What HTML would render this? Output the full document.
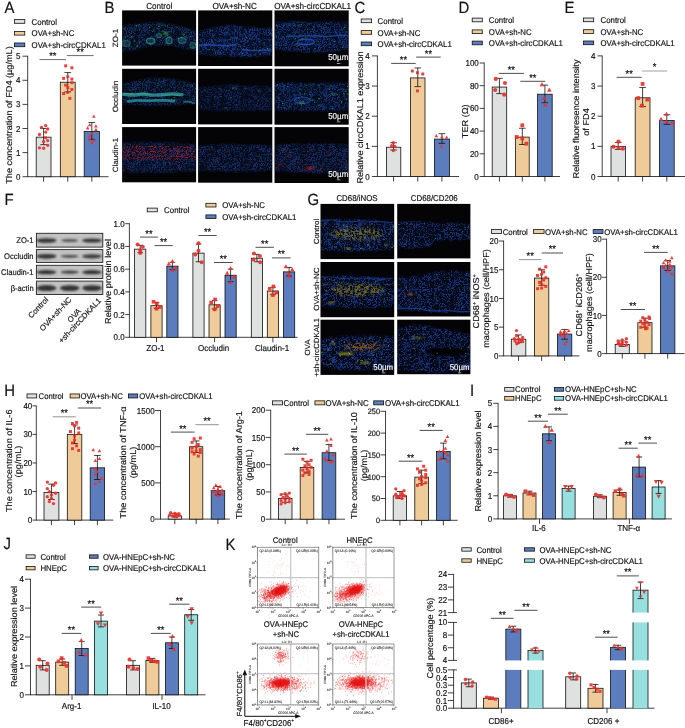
<!DOCTYPE html>
<html lang="en"><head><meta charset="utf-8"><title>Figure</title>
<style>
html,body{margin:0;padding:0;background:#fff;overflow:hidden}
svg{display:block}
text{font-family:"Liberation Sans",Arial,sans-serif;stroke:#111;stroke-width:.16px;text-rendering:geometricPrecision}
text.w{stroke:#fff}
text.n{stroke:none}
text.m{stroke:#333;stroke-width:.1px}
</style></head><body>
<svg width="685" height="728" viewBox="0 0 685 728">
<rect width="685" height="728" fill="#fff"/>
<g fill="#111">
<defs>
<filter id="spk" x="-5%" y="-25%" width="110%" height="150%" color-interpolation-filters="sRGB">
<feGaussianBlur in="SourceGraphic" stdDeviation="1.1" result="p"/>
<feTurbulence type="fractalNoise" baseFrequency="0.8" numOctaves="1" seed="3" result="n"/>
<feColorMatrix in="n" type="matrix" values="0 0 0 0 0  0 0 0 0 0  0 0 0 0 0  6 0 0 0 -2.9" result="m"/>
<feTurbulence type="fractalNoise" baseFrequency="0.2" numOctaves="2" seed="8" result="n2"/>
<feColorMatrix in="n2" type="matrix" values="0 0 0 0 0  0 0 0 0 0  0 0 0 0 0  0 1 0 0 0" result="a2"/>
<feComponentTransfer in="a2" result="r"><feFuncA type="table" tableValues="0 0 0 0 0 0 0 0 0 0 0 0 0 0 0 0.5 1 0.5 0 0 0 0 0 0 0 0 0 0 0 0 0 0 0"/></feComponentTransfer>
<feTurbulence type="fractalNoise" baseFrequency="0.1" numOctaves="2" seed="5" result="n3"/>
<feColorMatrix in="n3" type="matrix" values="0 0 0 0 0  0 0 0 0 0  0 0 0 0 0  0 0 5 0 -2" result="a3"/>
<feComposite in="m" in2="a3" operator="in" result="mmod"/>
<feComposite in="m" in2="mmod" operator="arithmetic" k1="0" k2="0.3" k3="0.8" k4="0" result="mix"/>
<feComposite in="mix" in2="r" operator="arithmetic" k1="0" k2="1" k3="0.75" k4="0" result="mm"/>
<feComposite in="p" in2="mm" operator="in"/>
</filter>
<filter id="spkg" x="-5%" y="-25%" width="110%" height="150%" color-interpolation-filters="sRGB">
<feGaussianBlur in="SourceGraphic" stdDeviation="1.1" result="p"/>
<feTurbulence type="fractalNoise" baseFrequency="0.8" numOctaves="1" seed="14" result="n"/>
<feColorMatrix in="n" type="matrix" values="0 0 0 0 0  0 0 0 0 0  0 0 0 0 0  6.5 0 0 0 -3.55" result="m"/>
<feTurbulence type="fractalNoise" baseFrequency="0.2" numOctaves="2" seed="19" result="n2"/>
<feColorMatrix in="n2" type="matrix" values="0 0 0 0 0  0 0 0 0 0  0 0 0 0 0  0 1 0 0 0" result="a2"/>
<feComponentTransfer in="a2" result="r"><feFuncA type="table" tableValues="0 0 0 0 0 0 0 0 0 0 0 0 0 0 0 0.5 1 0.5 0 0 0 0 0 0 0 0 0 0 0 0 0 0 0"/></feComponentTransfer>
<feTurbulence type="fractalNoise" baseFrequency="0.1" numOctaves="2" seed="5" result="n3"/>
<feColorMatrix in="n3" type="matrix" values="0 0 0 0 0  0 0 0 0 0  0 0 0 0 0  0 0 5 0 -2" result="a3"/>
<feComposite in="m" in2="a3" operator="in" result="mmod"/>
<feComposite in="m" in2="mmod" operator="arithmetic" k1="0" k2="0.3" k3="0.8" k4="0" result="mix"/>
<feComposite in="mix" in2="r" operator="arithmetic" k1="0" k2="1" k3="0.9" k4="0" result="mm"/>
<feComposite in="p" in2="mm" operator="in"/>
</filter>
<filter id="spk2" x="0" y="0" width="100%" height="100%" color-interpolation-filters="sRGB">
<feTurbulence type="fractalNoise" baseFrequency="0.8" numOctaves="1" seed="11" result="n"/>
<feColorMatrix in="n" type="matrix" values="0 0 0 0 0  0 0 0 0 0  0 0 0 0 0  0 6 0 0 -3.0" result="m"/>
<feComposite in="SourceGraphic" in2="m" operator="in"/>
</filter>
<filter id="spk3" x="-10%" y="-20%" width="120%" height="140%" color-interpolation-filters="sRGB">
<feGaussianBlur in="SourceGraphic" stdDeviation="1.6" result="p"/>
<feTurbulence type="fractalNoise" baseFrequency="0.45" numOctaves="2" seed="23" result="n"/>
<feColorMatrix in="n" type="matrix" values="0 0 0 0 0  0 0 0 0 0  0 0 0 0 0  0 0 7 0 -3.1" result="m"/>
<feComposite in="p" in2="m" operator="in"/>
</filter>
<filter id="bl" x="-20%" y="-50%" width="140%" height="200%"><feGaussianBlur stdDeviation="0.9"/></filter>
<filter id="blc" x="-30%" y="-60%" width="160%" height="220%"><feGaussianBlur stdDeviation="0.9"/></filter>
<filter id="bl3" x="-5%" y="-10%" width="110%" height="120%"><feGaussianBlur stdDeviation="0.5"/></filter>
<filter id="bl2" x="-20%" y="-50%" width="140%" height="200%"><feGaussianBlur stdDeviation="1.6"/></filter>
</defs>
<text transform="matrix(1 0 0 1.09 4.5 13.2)" font-size="14.9">A</text>
<text transform="matrix(1 0 0 1.09 104.5 13.2)" font-size="14.9">B</text>
<text transform="matrix(1 0 0 1.09 354.5 13.2)" font-size="14.9">C</text>
<text transform="matrix(1 0 0 1.09 458.6 13.2)" font-size="14.9">D</text>
<text transform="matrix(1 0 0 1.09 564.4 13.2)" font-size="14.9">E</text>
<text transform="matrix(1 0 0 1.09 4.6 204.6)" font-size="14.9">F</text>
<text transform="matrix(1 0 0 1.09 307.6 204.6)" font-size="14.9">G</text>
<text transform="matrix(1 0 0 1.09 4.3 396)" font-size="14.9">H</text>
<text transform="matrix(1 0 0 1.09 470 395.8)" font-size="14.9">I</text>
<text transform="matrix(1 0 0 1.09 3.6 548.8)" font-size="14.9">J</text>
<text transform="matrix(1 0 0 1.09 225.6 550.2)" font-size="14.9">K</text>
<rect x="14.4" y="19.6" width="10.4" height="3.7" fill="#dfe1e0" stroke="#111" stroke-width="0.8"/>
<text transform="matrix(1 0 0 1.07 31.6 24.61)" font-size="7.85">Control</text>
<rect x="14.4" y="31.4" width="10.4" height="3.7" fill="#efcb9a" stroke="#111" stroke-width="0.8"/>
<text transform="matrix(1 0 0 1.07 31.6 36.41)" font-size="7.85">OVA+sh-NC</text>
<rect x="14.4" y="43" width="10.4" height="3.7" fill="#5b7dbd" stroke="#111" stroke-width="0.8"/>
<text transform="matrix(1 0 0 1.07 31.6 48.01)" font-size="7.85">OVA+sh-circCDKAL1</text>
<text transform="matrix(0 -1.07 1 0 12.06 115)" font-size="8.55" text-anchor="middle">The concentration of FD4 (µg/mL)</text>
<path d="M27.7 176.7L108.5 176.7" stroke="#111" stroke-width="0.8"/>
<path d="M43.6 176.7L43.6 181.7" stroke="#111" stroke-width="0.8"/>
<path d="M67.75 176.7L67.75 181.7" stroke="#111" stroke-width="0.8"/>
<path d="M91.8 176.7L91.8 181.7" stroke="#111" stroke-width="0.8"/>
<rect x="36.2" y="137.18" width="14.8" height="39.52" fill="#dfe1e0" stroke="#111" stroke-width="0.8"/>
<rect x="60.3" y="82.23" width="14.9" height="94.47" fill="#efcb9a" stroke="#111" stroke-width="0.8"/>
<rect x="84.2" y="131.39" width="15.2" height="45.31" fill="#5b7dbd" stroke="#111" stroke-width="0.8"/>
<path d="M27.7 55.8L27.7 177.1" stroke="#111" stroke-width="0.8"/>
<path d="M22.5 176.7L27.7 176.7" stroke="#111" stroke-width="0.8"/>
<text transform="matrix(1 0 0 1.07 20.4 179.76)" font-size="8" text-anchor="end">0</text>
<path d="M22.5 152.6L27.7 152.6" stroke="#111" stroke-width="0.8"/>
<text transform="matrix(1 0 0 1.07 20.4 155.66)" font-size="8" text-anchor="end">1</text>
<path d="M22.5 128.5L27.7 128.5" stroke="#111" stroke-width="0.8"/>
<text transform="matrix(1 0 0 1.07 20.4 131.56)" font-size="8" text-anchor="end">2</text>
<path d="M22.5 104.4L27.7 104.4" stroke="#111" stroke-width="0.8"/>
<text transform="matrix(1 0 0 1.07 20.4 107.46)" font-size="8" text-anchor="end">3</text>
<path d="M22.5 80.3L27.7 80.3" stroke="#111" stroke-width="0.8"/>
<text transform="matrix(1 0 0 1.07 20.4 83.36)" font-size="8" text-anchor="end">4</text>
<path d="M22.5 56.2L27.7 56.2" stroke="#111" stroke-width="0.8"/>
<text transform="matrix(1 0 0 1.07 20.4 59.26)" font-size="8" text-anchor="end">5</text>
<path d="M43.6 128.5V144.65M40.3 128.5h6.6M40.3 144.65h6.6" stroke="#111" stroke-width="0.8" fill="none"/>
<g fill="#e8312b" fill-opacity="0.92"><circle cx="45.66" cy="125.61" r="1.65"/><circle cx="41.54" cy="127.29" r="1.65"/><circle cx="47.73" cy="128.98" r="1.65"/><circle cx="45.66" cy="132.11" r="1.65"/><circle cx="39.48" cy="134.52" r="1.65"/><circle cx="45.66" cy="137.66" r="1.65"/><circle cx="47.73" cy="140.55" r="1.65"/><circle cx="43.6" cy="141.75" r="1.65"/><circle cx="47.73" cy="145.37" r="1.65"/><circle cx="39.48" cy="147.78" r="1.65"/><circle cx="43.6" cy="148.26" r="1.65"/></g>
<path d="M67.75 72.59V91.87M64.45 72.59h6.6M64.45 91.87h6.6" stroke="#111" stroke-width="0.8" fill="none"/>
<g fill="#e8312b" fill-opacity="0.92"><rect x="64.2" y="64.35" width="2.97" height="2.97"/><rect x="70.39" y="66.28" width="2.97" height="2.97"/><rect x="66.27" y="75.2" width="2.97" height="2.97"/><rect x="62.14" y="76.89" width="2.97" height="2.97"/><rect x="70.39" y="77.61" width="2.97" height="2.97"/><rect x="70.39" y="81.22" width="2.97" height="2.97"/><rect x="64.2" y="83.63" width="2.97" height="2.97"/><rect x="66.27" y="86.04" width="2.97" height="2.97"/><rect x="70.39" y="87.97" width="2.97" height="2.97"/><rect x="66.27" y="90.86" width="2.97" height="2.97"/><rect x="62.14" y="92.07" width="2.97" height="2.97"/><rect x="68.33" y="96.89" width="2.97" height="2.97"/></g>
<path d="M91.8 122.47V139.34M88.5 122.47h6.6M88.5 139.34h6.6" stroke="#111" stroke-width="0.8" fill="none"/>
<g fill="#e8312b" fill-opacity="0.92"><path d="M93.86 114.55l1.81 3.3h-3.63z"/><path d="M89.74 122.99l1.81 3.3h-3.63z"/><path d="M95.93 124.19l1.81 3.3h-3.63z"/><path d="M87.68 126.12l1.81 3.3h-3.63z"/><path d="M95.93 127.81l1.81 3.3h-3.63z"/><path d="M91.8 131.42l1.81 3.3h-3.63z"/><path d="M89.74 134.31l1.81 3.3h-3.63z"/><path d="M89.74 137.45l1.81 3.3h-3.63z"/><path d="M93.86 138.65l1.81 3.3h-3.63z"/><path d="M91.8 141.06l1.81 3.3h-3.63z"/></g>
<path d="M39.5 59.6L66 59.6" stroke="#444" stroke-width="0.8"/>
<text transform="matrix(1 0 0 1.07 52.75 59)" font-size="9.3" text-anchor="middle">**</text>
<path d="M66.8 55.6L93.6 55.6" stroke="#444" stroke-width="0.8"/>
<text transform="matrix(1 0 0 1.07 80.2 55)" font-size="9.3" text-anchor="middle">**</text>
<rect x="361.2" y="19" width="10.4" height="3.7" fill="#dfe1e0" stroke="#111" stroke-width="0.8"/>
<text transform="matrix(1 0 0 1.07 377.6 24.01)" font-size="7.85">Control</text>
<rect x="361.2" y="30.6" width="10.4" height="3.7" fill="#efcb9a" stroke="#111" stroke-width="0.8"/>
<text transform="matrix(1 0 0 1.07 377.6 35.61)" font-size="7.85">OVA+sh-NC</text>
<rect x="361.2" y="42" width="10.4" height="3.7" fill="#5b7dbd" stroke="#111" stroke-width="0.8"/>
<text transform="matrix(1 0 0 1.07 377.6 47.01)" font-size="7.85">OVA+sh-circCDKAL1</text>
<text transform="matrix(0 -1.07 1 0 362.86 117.5)" font-size="8.55" text-anchor="middle">Relative circCDKAL1 expression</text>
<path d="M377.4 176.5L459 176.5" stroke="#111" stroke-width="0.8"/>
<path d="M393.6 176.5L393.6 181.5" stroke="#111" stroke-width="0.8"/>
<path d="M417.75 176.5L417.75 181.5" stroke="#111" stroke-width="0.8"/>
<path d="M441.9 176.5L441.9 181.5" stroke="#111" stroke-width="0.8"/>
<rect x="386.4" y="147.25" width="14.4" height="29.25" fill="#dfe1e0" stroke="#111" stroke-width="0.8"/>
<rect x="410.5" y="77.91" width="14.5" height="98.59" fill="#efcb9a" stroke="#111" stroke-width="0.8"/>
<rect x="434.4" y="139.11" width="15" height="37.39" fill="#5b7dbd" stroke="#111" stroke-width="0.8"/>
<path d="M377.4 55.5L377.4 176.9" stroke="#111" stroke-width="0.8"/>
<path d="M371.9 176.5L377.4 176.5" stroke="#111" stroke-width="0.8"/>
<text transform="matrix(1 0 0 1.07 369.6 179.56)" font-size="8" text-anchor="end">0</text>
<path d="M371.9 146.35L377.4 146.35" stroke="#111" stroke-width="0.8"/>
<text transform="matrix(1 0 0 1.07 369.6 149.41)" font-size="8" text-anchor="end">1</text>
<path d="M371.9 116.2L377.4 116.2" stroke="#111" stroke-width="0.8"/>
<text transform="matrix(1 0 0 1.07 369.6 119.26)" font-size="8" text-anchor="end">2</text>
<path d="M371.9 86.05L377.4 86.05" stroke="#111" stroke-width="0.8"/>
<text transform="matrix(1 0 0 1.07 369.6 89.11)" font-size="8" text-anchor="end">3</text>
<path d="M371.9 55.9L377.4 55.9" stroke="#111" stroke-width="0.8"/>
<text transform="matrix(1 0 0 1.07 369.6 58.96)" font-size="8" text-anchor="end">4</text>
<path d="M393.6 142.73V149.97M390.3 142.73h6.6M390.3 149.97h6.6" stroke="#111" stroke-width="0.8" fill="none"/>
<g fill="#e8312b" fill-opacity="0.92"><circle cx="393.3" cy="142.73" r="1.65"/><circle cx="391.6" cy="145.75" r="1.65"/><circle cx="394.8" cy="146.35" r="1.65"/><circle cx="393.3" cy="150.57" r="1.65"/></g>
<path d="M417.75 67.96V86.65M414.45 67.96h6.6M414.45 86.65h6.6" stroke="#111" stroke-width="0.8" fill="none"/>
<g fill="#e8312b" fill-opacity="0.92"><rect x="410.87" y="69.49" width="2.97" height="2.97"/><rect x="415.96" y="71.3" width="2.97" height="2.97"/><rect x="421.26" y="72.51" width="2.97" height="2.97"/><rect x="415.96" y="89.39" width="2.97" height="2.97"/></g>
<path d="M441.9 133.69V143.34M438.6 133.69h6.6M438.6 143.34h6.6" stroke="#111" stroke-width="0.8" fill="none"/>
<g fill="#e8312b" fill-opacity="0.92"><path d="M436.3 133.9l1.81 3.3h-3.63z"/><path d="M441.9 135.11l1.81 3.3h-3.63z"/><path d="M446.7 135.41l1.81 3.3h-3.63z"/><path d="M441.5 144.45l1.81 3.3h-3.63z"/></g>
<path d="M391.2 63.4L415.7 63.4" stroke="#222" stroke-width="0.8"/>
<text transform="matrix(1 0 0 1.07 403.45 62.8)" font-size="9.3" text-anchor="middle">**</text>
<path d="M416.2 57.1L440.7 57.1" stroke="#222" stroke-width="0.8"/>
<text transform="matrix(1 0 0 1.07 428.45 56.5)" font-size="9.3" text-anchor="middle">**</text>
<rect x="472.2" y="18.1" width="10.1" height="3.7" fill="#dfe1e0" stroke="#111" stroke-width="0.8"/>
<text transform="matrix(1 0 0 1.07 488.8 23.11)" font-size="7.85">Control</text>
<rect x="472.2" y="29.9" width="10.1" height="3.7" fill="#efcb9a" stroke="#111" stroke-width="0.8"/>
<text transform="matrix(1 0 0 1.07 488.8 34.91)" font-size="7.85">OVA+sh-NC</text>
<rect x="472.2" y="41.1" width="10.1" height="3.7" fill="#5b7dbd" stroke="#111" stroke-width="0.8"/>
<text transform="matrix(1 0 0 1.07 488.8 46.11)" font-size="7.85">OVA+sh-circCDKAL1</text>
<text transform="matrix(0 -1.07 1 0 467.86 121.3)" font-size="8.55" text-anchor="middle">TER (Ω)</text>
<path d="M484.2 176.5L560 176.5" stroke="#111" stroke-width="0.8"/>
<path d="M499.45 176.5L499.45 181.5" stroke="#111" stroke-width="0.8"/>
<path d="M522.3 176.5L522.3 181.5" stroke="#111" stroke-width="0.8"/>
<path d="M544.9 176.5L544.9 181.5" stroke="#111" stroke-width="0.8"/>
<rect x="492.2" y="87.06" width="14.5" height="89.44" fill="#dfe1e0" stroke="#111" stroke-width="0.8"/>
<rect x="515.4" y="137.12" width="13.8" height="39.38" fill="#efcb9a" stroke="#111" stroke-width="0.8"/>
<rect x="537.6" y="94.21" width="14.6" height="82.29" fill="#5b7dbd" stroke="#111" stroke-width="0.8"/>
<path d="M484.2 62.6L484.2 176.9" stroke="#111" stroke-width="0.8"/>
<path d="M479.7 176.5L484.2 176.5" stroke="#111" stroke-width="0.8"/>
<text transform="matrix(1 0 0 1.07 478.8 179.56)" font-size="8" text-anchor="end">0</text>
<path d="M479.7 153.8L484.2 153.8" stroke="#111" stroke-width="0.8"/>
<text transform="matrix(1 0 0 1.07 478.8 156.86)" font-size="8" text-anchor="end">20</text>
<path d="M479.7 131.1L484.2 131.1" stroke="#111" stroke-width="0.8"/>
<text transform="matrix(1 0 0 1.07 478.8 134.16)" font-size="8" text-anchor="end">40</text>
<path d="M479.7 108.4L484.2 108.4" stroke="#111" stroke-width="0.8"/>
<text transform="matrix(1 0 0 1.07 478.8 111.46)" font-size="8" text-anchor="end">60</text>
<path d="M479.7 85.7L484.2 85.7" stroke="#111" stroke-width="0.8"/>
<text transform="matrix(1 0 0 1.07 478.8 88.76)" font-size="8" text-anchor="end">80</text>
<path d="M479.7 63L484.2 63" stroke="#111" stroke-width="0.8"/>
<text transform="matrix(1 0 0 1.07 478.8 66.06)" font-size="8" text-anchor="end">100</text>
<path d="M499.45 78.32V93.64M496.15 78.32h6.6M496.15 93.64h6.6" stroke="#111" stroke-width="0.8" fill="none"/>
<g fill="#e8312b" fill-opacity="0.92"><circle cx="495.75" cy="78.89" r="2.1"/><circle cx="504.95" cy="82.98" r="2.1"/><circle cx="495.15" cy="90.01" r="2.1"/><circle cx="504.15" cy="94.67" r="2.1"/></g>
<path d="M522.3 128.26V144.49M519 128.26h6.6M519 144.49h6.6" stroke="#111" stroke-width="0.8" fill="none"/>
<g fill="#e8312b" fill-opacity="0.92"><rect x="520.41" y="123.42" width="3.78" height="3.78"/><rect x="514.81" y="135.11" width="3.78" height="3.78"/><rect x="520.41" y="136.47" width="3.78" height="3.78"/><rect x="524.41" y="141.81" width="3.78" height="3.78"/></g>
<path d="M544.9 85.13V102.72M541.6 85.13h6.6M541.6 102.72h6.6" stroke="#111" stroke-width="0.8" fill="none"/>
<g fill="#e8312b" fill-opacity="0.92"><path d="M541.9 82.15l2.31 4.2h-4.62z"/><path d="M549.3 87.6l2.31 4.2h-4.62z"/><path d="M544.2 95.66l2.31 4.2h-4.62z"/><path d="M545.2 102.35l2.31 4.2h-4.62z"/></g>
<path d="M498.8 73.4L523.9 73.4" stroke="#222" stroke-width="0.8"/>
<text transform="matrix(1 0 0 1.07 511.35 72.8)" font-size="9.3" text-anchor="middle">**</text>
<path d="M520.3 81.3L545.2 81.3" stroke="#222" stroke-width="0.8"/>
<text transform="matrix(1 0 0 1.07 532.75 80.7)" font-size="9.3" text-anchor="middle">**</text>
<rect x="583.6" y="18" width="10.1" height="3.7" fill="#dfe1e0" stroke="#111" stroke-width="0.8"/>
<text transform="matrix(1 0 0 1.07 600.5 23.01)" font-size="7.85">Control</text>
<rect x="583.6" y="29.7" width="10.1" height="3.7" fill="#efcb9a" stroke="#111" stroke-width="0.8"/>
<text transform="matrix(1 0 0 1.07 600.5 34.71)" font-size="7.85">OVA+sh-NC</text>
<rect x="583.6" y="41" width="10.1" height="3.7" fill="#5b7dbd" stroke="#111" stroke-width="0.8"/>
<text transform="matrix(1 0 0 1.07 600.5 46.01)" font-size="7.85">OVA+sh-circCDKAL1</text>
<text transform="matrix(0 -1.07 1 0 578.86 119)" font-size="8.55" text-anchor="middle">Relative fluoresence intensity</text>
<text transform="matrix(0 -1.07 1 0 589.36 122)" font-size="8.55" text-anchor="middle">of FD4</text>
<path d="M602.2 176.5L685 176.5" stroke="#111" stroke-width="0.8"/>
<path d="M618.2 176.5L618.2 181.5" stroke="#111" stroke-width="0.8"/>
<path d="M642.6 176.5L642.6 181.5" stroke="#111" stroke-width="0.8"/>
<path d="M666.8 176.5L666.8 181.5" stroke="#111" stroke-width="0.8"/>
<rect x="611" y="146.35" width="14.4" height="30.15" fill="#dfe1e0" stroke="#111" stroke-width="0.8"/>
<rect x="635.2" y="97.81" width="14.8" height="78.69" fill="#efcb9a" stroke="#111" stroke-width="0.8"/>
<rect x="659.4" y="120.42" width="14.8" height="56.08" fill="#5b7dbd" stroke="#111" stroke-width="0.8"/>
<path d="M602.2 55.5L602.2 176.9" stroke="#111" stroke-width="0.8"/>
<path d="M597.5 176.5L602.2 176.5" stroke="#111" stroke-width="0.8"/>
<text transform="matrix(1 0 0 1.07 595.5 179.56)" font-size="8" text-anchor="end">0</text>
<path d="M597.5 146.35L602.2 146.35" stroke="#111" stroke-width="0.8"/>
<text transform="matrix(1 0 0 1.07 595.5 149.41)" font-size="8" text-anchor="end">1</text>
<path d="M597.5 116.2L602.2 116.2" stroke="#111" stroke-width="0.8"/>
<text transform="matrix(1 0 0 1.07 595.5 119.26)" font-size="8" text-anchor="end">2</text>
<path d="M597.5 86.05L602.2 86.05" stroke="#111" stroke-width="0.8"/>
<text transform="matrix(1 0 0 1.07 595.5 89.11)" font-size="8" text-anchor="end">3</text>
<path d="M597.5 55.9L602.2 55.9" stroke="#111" stroke-width="0.8"/>
<text transform="matrix(1 0 0 1.07 595.5 58.96)" font-size="8" text-anchor="end">4</text>
<path d="M618.2 142.43V149.37M614.9 142.43h6.6M614.9 149.37h6.6" stroke="#111" stroke-width="0.8" fill="none"/>
<g fill="#e8312b" fill-opacity="0.92"><circle cx="618.5" cy="141.71" r="2.1"/><circle cx="613.5" cy="146.74" r="2.1"/><circle cx="618.5" cy="147.74" r="2.1"/><circle cx="622.9" cy="148.76" r="2.1"/></g>
<path d="M642.6 87.56V106.55M639.3 87.56h6.6M639.3 106.55h6.6" stroke="#111" stroke-width="0.8" fill="none"/>
<g fill="#e8312b" fill-opacity="0.92"><rect x="640.71" y="82.05" width="3.78" height="3.78"/><rect x="636.31" y="96.22" width="3.78" height="3.78"/><rect x="645.41" y="97.73" width="3.78" height="3.78"/><rect x="640.01" y="103.76" width="3.78" height="3.78"/></g>
<path d="M666.8 114.69V124.34M663.5 114.69h6.6M663.5 124.34h6.6" stroke="#111" stroke-width="0.8" fill="none"/>
<g fill="#e8312b" fill-opacity="0.92"><path d="M666.5 111.67l2.31 4.2h-4.62z"/><path d="M661.1 116.8l2.31 4.2h-4.62z"/><path d="M666.5 119.21l2.31 4.2h-4.62z"/><path d="M672.2 120.72l2.31 4.2h-4.62z"/></g>
<path d="M616.7 77.3L641.7 77.3" stroke="#222" stroke-width="0.8"/>
<text transform="matrix(1 0 0 1.07 629.2 76.7)" font-size="9.3" text-anchor="middle">**</text>
<path d="M642 71L667 71" stroke="#888" stroke-width="0.8"/>
<text transform="matrix(1 0 0 1.07 654.5 70.4)" font-size="9.3" text-anchor="middle">*</text>
<text transform="matrix(1 0 0 1.07 159.3 8.82)" font-size="8.15" text-anchor="middle">Control</text>
<text transform="matrix(1 0 0 1.07 234.6 8.82)" font-size="8.15" text-anchor="middle">OVA+sh-NC</text>
<text transform="matrix(1 0 0 1.07 312.6 8.82)" font-size="8.15" text-anchor="middle">OVA+sh-circCDKAL1</text>
<text transform="matrix(0 -1.07 1 0 117.91 38)" font-size="7.57" text-anchor="middle">ZO-1</text>
<text transform="matrix(0 -1.07 1 0 117.91 96.5)" font-size="7.57" text-anchor="middle">Occludin</text>
<text transform="matrix(0 -1.07 1 0 117.91 155)" font-size="7.57" text-anchor="middle">Claudin-1</text>
<g><rect x="122.1" y="10.4" width="74" height="55.2" fill="#040305"/>
<svg x="122.1" y="10.4" width="74" height="55.2" viewBox="122.1 10.4 74 55.2" overflow="hidden">
<polygon points="122.1 25.4 136.9 23.4 155.4 22.4 166.5 23.4 181.3 26.4 196.1 30.4 196.1 50.4 181.3 48.4 166.5 44.9 155.4 44.9 136.9 49.4 122.1 51.4" fill="#1e4592" fill-opacity="0.12" filter="url(#bl)"/>
<g filter="url(#spk)"><polygon points="122.1 25.4 136.9 23.4 155.4 22.4 166.5 23.4 181.3 26.4 196.1 30.4 196.1 50.4 181.3 48.4 166.5 44.9 155.4 44.9 136.9 49.4 122.1 51.4" fill="#1e4592" fill-opacity="0.7"/></g>
<g filter="url(#bl3)"><ellipse cx="150.6" cy="40.9" rx="4.2" ry="2.8" fill="#2f8f8a" fill-opacity="0.25" stroke="#2f8f8a" stroke-opacity="0.75" stroke-width="1.1"/><ellipse cx="169.1" cy="40.4" rx="3" ry="3.3" fill="#2f8f8a" fill-opacity="0.25" stroke="#2f8f8a" stroke-opacity="0.75" stroke-width="1.1"/><ellipse cx="159.1" cy="35.4" rx="2.5" ry="2" fill="#2f8f8a" fill-opacity="0.25" stroke="#2f8f8a" stroke-opacity="0.5" stroke-width="1.1"/><ellipse cx="182.1" cy="40.4" rx="4" ry="2.8" fill="#2f8f8a" fill-opacity="0.25" stroke="#2f8f8a" stroke-opacity="0.55" stroke-width="1.1"/><ellipse cx="126.1" cy="43.4" rx="4" ry="3" fill="#2f8f8a" fill-opacity="0.25" stroke="#2f8f8a" stroke-opacity="0.5" stroke-width="1.1"/><ellipse cx="193.1" cy="45.4" rx="3" ry="3" fill="#2f8f8a" fill-opacity="0.25" stroke="#2f8f8a" stroke-opacity="0.45" stroke-width="1.1"/><ellipse cx="165.6" cy="33.2" rx="2.2" ry="1.1" fill="#48d838" fill-opacity="0.9" filter="url(#bl)"/><ellipse cx="183.6" cy="33.9" rx="1.6" ry="0.6" fill="#48d838" fill-opacity="0.8" filter="url(#bl)"/><path d="M134.1 41.1h1.1M157.1 28.3h1.3M181.1 37.8h1M139.3 24.8h0.9M164.8 26.1h1.3M139.1 30h0.6M194.9 44.4h1.3M167.1 25.8h0.8M158.4 26.4h1.4M149 27.4h1.3M131.2 47h0.9M162.4 31h1M135.7 25.9h1.3M139.2 42.3h0.7M192.8 46.8h1.2M177.8 38.3h1.2M131 36.6h1.3M136.8 46.1h1.3M152 31.4h0.9M150.3 44.5h0.9M124.1 28.8h1.2M194.6 40.2h1M162.3 38.7h0.7M166.5 35.3h1.1M135.3 29h0.9M189.8 36.6h1.1" stroke="#48d838" stroke-opacity="0.7" stroke-width="0.85" fill="none"/></g>
</svg></g>
<g><rect x="198.1" y="10.4" width="74.2" height="55.6" fill="#040305"/>
<svg x="198.1" y="10.4" width="74.2" height="55.6" viewBox="198.1 10.4 74.2 55.6" overflow="hidden">
<polygon points="198.1 31.4 212.94 27.4 231.49 24.9 250.04 27.4 272.3 27.9 272.3 55.4 250.04 56.9 231.49 56.4 212.94 55.4 198.1 54.4" fill="#1f47ae" fill-opacity="0.12" filter="url(#bl)"/>
<g filter="url(#spk)"><polygon points="198.1 31.4 212.94 27.4 231.49 24.9 250.04 27.4 272.3 27.9 272.3 55.4 250.04 56.9 231.49 56.4 212.94 55.4 198.1 54.4" fill="#1f47ae" fill-opacity="0.75"/></g>
<g filter="url(#bl3)"><path d="M199.1 45.4C203.72 45.4 203.72 44.68 208.35 44.68C212.97 44.68 212.97 45.2 217.6 45.2C222.22 45.2 222.22 45.75 226.85 45.75C231.47 45.75 231.47 44.9 236.1 44.9" fill="none" stroke="#2a56c4" stroke-opacity="0.7" stroke-width="1.6" stroke-linecap="round"/><path d="M242.1 49.4C246.93 49.4 246.93 50.56 251.77 50.56C256.6 50.56 256.6 50.54 261.43 50.54C266.27 50.54 266.27 49.9 271.1 49.9" fill="none" stroke="#2a56c4" stroke-opacity="0.65" stroke-width="1.4" stroke-linecap="round"/><path d="M218.1 40.4C223.1 40.4 223.1 39.73 228.1 39.73C233.1 39.73 233.1 37.4 238.1 37.4" fill="none" stroke="#2a56c4" stroke-opacity="0.4" stroke-width="1.2" stroke-linecap="round"/><path d="M268.2 32.8h0.6M271.2 33.9h0.6M245.8 37.7h1.3M215.1 53h0.8M242.1 53.3h1.2M265.7 47h0.6M262.6 44.1h0.8M212 50.1h1.1M266.8 48.6h1.4M239.6 46.8h1.1M217 53h0.8M255.3 53.8h1.1M208.5 49.5h1.1M211.6 30.4h1M200.5 51.5h1M236 38.5h1.1" stroke="#48d838" stroke-opacity="0.65" stroke-width="0.85" fill="none"/></g>
</svg></g>
<g><rect x="274.5" y="10.4" width="74.2" height="55.9" fill="#040305"/>
<svg x="274.5" y="10.4" width="74.2" height="55.9" viewBox="274.5 10.4 74.2 55.9" overflow="hidden">
<polygon points="274.5 22.4 293.05 21.4 311.6 21.9 330.15 21.4 348.7 21.4 348.7 49.4 330.15 51.9 311.6 52.4 293.05 51.4 274.5 48.4" fill="#1f47ae" fill-opacity="0.12" filter="url(#bl)"/>
<g filter="url(#spk)"><polygon points="274.5 22.4 293.05 21.4 311.6 21.9 330.15 21.4 348.7 21.4 348.7 49.4 330.15 51.9 311.6 52.4 293.05 51.4 274.5 48.4" fill="#1f47ae" fill-opacity="0.7"/></g>
<g filter="url(#bl3)"><path d="M286.5 36.4C291.58 36.4 291.58 36.21 296.67 36.21C301.75 36.21 301.75 35.89 306.83 35.89C311.92 35.89 311.92 35.77 317 35.77C322.08 35.77 322.08 36.52 327.17 36.52C332.25 36.52 332.25 35.49 337.33 35.49C342.42 35.49 342.42 35.4 347.5 35.4" fill="none" stroke="#2a56c4" stroke-opacity="0.6" stroke-width="1.4" stroke-linecap="round"/><ellipse cx="306" cy="41.9" rx="8.5" ry="2.8" fill="#2a56c4" fill-opacity="0.1" stroke="#2a56c4" stroke-opacity="0.75" stroke-width="1.1"/><path d="M342.2 47.3h1.3M280.6 38h0.9M313.3 26.9h0.7M307 29.3h0.9M276.3 25.8h1.2M305.3 37.3h1.2M300.8 24.7h1.2M317.6 41.3h1.1M345.6 32.1h1.2M301.5 38.7h1.1M297.5 25.4h1M327.1 39.2h0.9M321.5 28.1h0.7M298.2 45.2h0.7M282.9 25.9h0.6M294.7 38.4h1.3M298.7 33.1h0.8M296.8 44.1h1M293.4 25.8h1.2M326.3 45.8h0.8M314.4 48.6h1.1M343.7 27.2h1.4M278.6 33.6h0.6M333.8 41.4h1.4" stroke="#48d838" stroke-opacity="0.75" stroke-width="0.85" fill="none"/></g>
</svg></g>
<g><rect x="122.1" y="68.8" width="74" height="55.2" fill="#040305"/>
<svg x="122.1" y="68.8" width="74" height="55.2" viewBox="122.1 68.8 74 55.2" overflow="hidden">
<polygon points="122.1 83.8 136.9 80.8 151.7 77.3 166.5 78.3 181.3 80.8 196.1 83.8 196.1 102.8 181.3 104.8 166.5 105.8 151.7 105.8 136.9 105.3 122.1 103.8" fill="#1e4592" fill-opacity="0.12" filter="url(#bl)"/>
<g filter="url(#spk)"><polygon points="122.1 83.8 136.9 80.8 151.7 77.3 166.5 78.3 181.3 80.8 196.1 83.8 196.1 102.8 181.3 104.8 166.5 105.8 151.7 105.8 136.9 105.3 122.1 103.8" fill="#1e4592" fill-opacity="0.66"/></g>
<g filter="url(#bl3)"><path d="M123.1 94.3C128.02 94.3 128.02 95.17 132.93 95.17C137.85 95.17 137.85 93.99 142.77 93.99C147.68 93.99 147.68 95.09 152.6 95.09C157.52 95.09 157.52 94.69 162.43 94.69C167.35 94.69 167.35 93.86 172.27 93.86C177.18 93.86 177.18 94.6 182.1 94.6" fill="none" stroke="#2f8f9c" stroke-opacity="0.85" stroke-width="3.4" stroke-linecap="round"/><path d="M128.1 101.3C132.7 101.3 132.7 100.43 137.3 100.43C141.9 100.43 141.9 100.63 146.5 100.63C151.1 100.63 151.1 100.42 155.7 100.42C160.3 100.42 160.3 100.35 164.9 100.35C169.5 100.35 169.5 101 174.1 101" fill="none" stroke="#2f8f9c" stroke-opacity="0.8" stroke-width="2.8" stroke-linecap="round"/><path d="M124.1 93.8C128.77 93.8 128.77 93.62 133.43 93.62C138.1 93.62 138.1 93.8 142.77 93.8C147.43 93.8 147.43 94.2 152.1 94.2" fill="none" stroke="#4ab070" stroke-opacity="0.5" stroke-width="1.4" stroke-linecap="round"/><path d="M162.1 95.3C166.6 95.3 166.6 94.76 171.1 94.76C175.6 94.76 175.6 95.3 180.1 95.3" fill="none" stroke="#4ab070" stroke-opacity="0.45" stroke-width="1.3" stroke-linecap="round"/><path d="M184.1 101.8C186.6 101.8 186.6 101.64 189.1 101.64C191.6 101.64 191.6 103.3 194.1 103.3" fill="none" stroke="#2f8f9c" stroke-opacity="0.6" stroke-width="2" stroke-linecap="round"/><path d="M174.1 100.1h0.7M195 88.4h1.1M128.8 98.4h0.7M173.7 97.5h1.2M154.3 100.9h1.4M130.5 93.7h1.4M176.1 91.3h0.8M191.7 86.1h1.2M183.7 86.1h0.8M144.4 93.3h0.9M187.3 101h0.8M187.4 85h0.6M170.7 99.3h1.3M194.5 99.1h0.8M176.3 101.9h0.6M158.2 83.1h0.7M157.1 96h1.4M131.7 93.4h1.4" stroke="#48d838" stroke-opacity="0.6" stroke-width="0.85" fill="none"/></g>
</svg></g>
<g><rect x="198.1" y="68.8" width="74.2" height="55.6" fill="#040305"/>
<svg x="198.1" y="68.8" width="74.2" height="55.6" viewBox="198.1 68.8 74.2 55.6" overflow="hidden">
<polygon points="198.1 87.8 216.65 85.8 235.2 84.3 253.75 85.3 272.3 86.8 272.3 109.8 253.75 110.8 235.2 111.3 216.65 110.8 198.1 108.8" fill="#1b3c92" fill-opacity="0.12" filter="url(#bl)"/>
<g filter="url(#spk)"><polygon points="198.1 87.8 216.65 85.8 235.2 84.3 253.75 85.3 272.3 86.8 272.3 109.8 253.75 110.8 235.2 111.3 216.65 110.8 198.1 108.8" fill="#1b3c92" fill-opacity="0.55"/></g>
<g filter="url(#bl3)"><path d="M225.7 107.9h1.3M213.8 106.3h1.1M201.2 106.8h0.8M220.5 96.5h1.1M207.2 102h1.3M235.6 104.9h1.1M258.5 91.2h0.9M232.5 88.5h1.4M244.7 88.6h1.1M228.4 90.7h0.7M231.8 87.7h1M235.8 88.9h1.3M201.1 92.2h1.3M214.3 96.7h1M230 97.8h1M233.4 87.3h1.3M218.8 88.2h0.9M257.7 100.9h1" stroke="#48d838" stroke-opacity="0.55" stroke-width="0.85" fill="none"/></g>
</svg></g>
<g><rect x="274.5" y="68.8" width="74.2" height="55.9" fill="#040305"/>
<svg x="274.5" y="68.8" width="74.2" height="55.9" viewBox="274.5 68.8 74.2 55.9" overflow="hidden">
<polygon points="274.5 82.8 293.05 82.8 311.6 83.3 330.15 82.8 348.7 82.8 348.7 109.8 330.15 110.8 311.6 110.8 293.05 110.8 274.5 109.8" fill="#1f47ae" fill-opacity="0.12" filter="url(#bl)"/>
<g filter="url(#spk)"><polygon points="274.5 82.8 293.05 82.8 311.6 83.3 330.15 82.8 348.7 82.8 348.7 109.8 330.15 110.8 311.6 110.8 293.05 110.8 274.5 109.8" fill="#1f47ae" fill-opacity="0.66"/></g>
<g filter="url(#bl3)"><ellipse cx="302.5" cy="100.3" rx="8" ry="3.2" fill="#2a56c4" fill-opacity="0.1" stroke="#2a56c4" stroke-opacity="0.7" stroke-width="1"/><ellipse cx="301.5" cy="102.6" rx="3.6" ry="0.7" fill="#48d838" fill-opacity="0.95" filter="url(#bl)"/><ellipse cx="332.5" cy="94.3" rx="2.6" ry="0.6" fill="#48d838" fill-opacity="0.8" filter="url(#bl)"/><ellipse cx="301" cy="89.8" rx="1.6" ry="0.5" fill="#48d838" fill-opacity="0.7" filter="url(#bl)"/><path d="M329.2 89.4h0.7M318.5 86h1.2M330.5 85.3h1.2M311.3 100.4h1.4M346.7 94.1h1.3M332.1 108.5h0.6M343.2 89.7h0.7M318.2 105.3h1.4M301.2 105h0.6M345.4 91.4h1M283.6 85.4h0.5M318.4 98.5h1.3M336.8 94.7h1.3M289.2 106.1h0.8M343.3 93.6h0.9M312.4 86.2h0.6M314.4 102.3h0.6M304.3 93.7h1.2M347 86.5h1M282.1 103.4h1.4M326.2 98.9h0.6M281.5 90.1h0.6M284.3 107.8h0.9M340.9 102.8h1.2M341.3 101.3h0.9M308.9 94.3h0.6M277.7 98h1M345.7 99.3h1.3M309.4 99h1.3M277 84.8h0.9M295.9 95.1h0.6M286.9 86.7h1.1M276.9 84.8h1.2M305.5 85.2h1.4" stroke="#48d838" stroke-opacity="0.75" stroke-width="0.85" fill="none"/></g>
</svg></g>
<g><rect x="122.1" y="127.1" width="74" height="55.2" fill="#040305"/>
<svg x="122.1" y="127.1" width="74" height="55.2" viewBox="122.1 127.1 74 55.2" overflow="hidden">
<polygon points="122.1 143.1 140.6 142.1 159.1 142.1 177.6 142.6 196.1 144.1 196.1 171.1 177.6 172.1 159.1 172.6 140.6 172.6 122.1 172.1" fill="#20409a" fill-opacity="0.12" filter="url(#bl)"/>
<g filter="url(#spk)"><polygon points="122.1 143.1 140.6 142.1 159.1 142.1 177.6 142.6 196.1 144.1 196.1 171.1 177.6 172.1 159.1 172.6 140.6 172.6 122.1 172.1" fill="#20409a" fill-opacity="0.62"/></g>
<g filter="url(#bl3)"><g filter="url(#spk2)"><path d="M122.1 146.1h74v14h-74z" fill="#b4181e" fill-opacity=".8"/></g><path d="M169.4 162.8h1.4M136.4 145.6h1.3M146.4 153.8h1.3M135.5 168.5h1M127.3 168.6h1.1M127.8 166.5h1.2M176.1 161.5h1.4M123 170h1.1M140.6 160.4h0.8M169.6 162.8h1M129.3 154.6h0.8M176.8 168.8h1.2M160.8 148.3h1.2M141.4 171h0.7" stroke="#d81c20" stroke-opacity="0.8" stroke-width="0.85" fill="none"/></g>
</svg></g>
<g><rect x="198.1" y="127.1" width="74.2" height="55.6" fill="#040305"/>
<svg x="198.1" y="127.1" width="74.2" height="55.6" viewBox="198.1 127.1 74.2 55.6" overflow="hidden">
<polygon points="198.1 146.1 216.65 144.6 235.2 144.1 253.75 144.6 272.3 145.6 272.3 170.6 253.75 171.6 235.2 172.1 216.65 171.6 198.1 170.6" fill="#20409a" fill-opacity="0.12" filter="url(#bl)"/>
<g filter="url(#spk)"><polygon points="198.1 146.1 216.65 144.6 235.2 144.1 253.75 144.6 272.3 145.6 272.3 170.6 253.75 171.6 235.2 172.1 216.65 171.6 198.1 170.6" fill="#20409a" fill-opacity="0.62"/></g>
<g filter="url(#bl3)"><path d="M206.4 149.9h1.1M211.1 149.6h1M228.7 151h0.9M259.8 149.5h0.7M200.1 152.7h0.6M270.2 154h1.4M207.6 167.4h1M248.6 162h0.8M215.1 162.4h0.7M199.1 164.2h1.1M217.1 158.6h1.4M218.5 149h0.9M210.4 155.1h0.6M254 165.4h0.9M225.7 152.2h1.4M262.4 161.8h0.7M210.7 164.4h0.7M248.5 156.2h0.6M212.6 167.9h0.8M247.5 164.5h0.9M234.6 167.1h1.2M236.2 159.2h0.9" stroke="#d81c20" stroke-opacity="0.7" stroke-width="0.85" fill="none"/></g>
</svg></g>
<g><rect x="274.5" y="127.1" width="74.2" height="55.9" fill="#040305"/>
<svg x="274.5" y="127.1" width="74.2" height="55.9" viewBox="274.5 127.1 74.2 55.9" overflow="hidden">
<polygon points="274.5 145.1 293.05 144.1 311.6 143.6 330.15 143.6 348.7 144.6 348.7 171.6 330.15 173.1 311.6 173.1 293.05 172.1 274.5 171.1" fill="#20409a" fill-opacity="0.12" filter="url(#bl)"/>
<g filter="url(#spk)"><polygon points="274.5 145.1 293.05 144.1 311.6 143.6 330.15 143.6 348.7 144.6 348.7 171.6 330.15 173.1 311.6 173.1 293.05 172.1 274.5 171.1" fill="#20409a" fill-opacity="0.66"/></g>
<g filter="url(#bl3)"><ellipse cx="310" cy="168.1" rx="4.2" ry="0.9" fill="#ff2a20" fill-opacity="0.95" filter="url(#bl)"/><ellipse cx="280.5" cy="164.6" rx="4" ry="0.6" fill="#d81c20" fill-opacity="0.7" filter="url(#bl)"/><ellipse cx="327.5" cy="153.1" rx="2.5" ry="0.5" fill="#d81c20" fill-opacity="0.6" filter="url(#bl)"/><path d="M314.6 154.3h1.3M295.6 158.4h0.8M304.9 170.6h0.6M307.1 151.1h0.9M347.6 154h1.1M305.2 164.3h0.9M287 156.5h0.9M332.5 159.9h0.7M323.8 153h1M290.6 155.9h1.2M312.2 165h1.2M317.5 162.2h0.9M319.7 165.7h0.6M343.1 154.9h0.7M285.5 154.2h0.6M303.6 156h1.1M308.7 169.8h1.1M298 167.7h1.2M345.3 163.8h1.4M289.5 152.6h1.4M276.1 167.9h1.4M284.4 149.7h1.4M344.8 167.2h1.2M330.1 153.3h0.5M320.5 168.5h1.4M312.2 145.3h0.7M307.4 151.2h0.6M288.6 158.1h0.7M282.8 150.1h0.6M331.9 167.9h0.7M320.9 168.3h0.8M298.9 167.9h1.2M320 166.1h1.1M297.5 162.9h1.2M278.6 153.9h0.8M339.4 152.9h1.1M306.3 155.1h1M340 162.2h0.9M285.5 154.3h1M321.8 171.6h0.8" stroke="#d81c20" stroke-opacity="0.75" stroke-width="0.85" fill="none"/></g>
</svg></g>
<text transform="matrix(1 0 0 1.07 348.3 60.3)" font-size="8" text-anchor="end" fill="#fff" class="w">50µm</text>
<path d="M336.8 63.5L340.4 63.5" stroke="#ddd" stroke-width="0.7"/>
<text transform="matrix(1 0 0 1.07 348.3 118.6)" font-size="8" text-anchor="end" fill="#fff" class="w">50µm</text>
<path d="M336.8 121.8L340.4 121.8" stroke="#ddd" stroke-width="0.7"/>
<text transform="matrix(1 0 0 1.07 348.3 176.6)" font-size="8" text-anchor="end" fill="#fff" class="w">50µm</text>
<path d="M336.8 179.8L340.4 179.8" stroke="#ddd" stroke-width="0.7"/>
<rect x="36.4" y="233.3" width="66.4" height="13.8" fill="#c2c2c2" stroke="#222" stroke-width="0.9"/>
<g filter="url(#bl)"><ellipse cx="46.5" cy="240.5" rx="10" ry="2.3" fill="#2b2b2b" fill-opacity="0.95"/><ellipse cx="69.7" cy="240.5" rx="8.5" ry="1.3" fill="#2b2b2b" fill-opacity="0.85"/><ellipse cx="92" cy="240.5" rx="10" ry="2.1" fill="#2b2b2b" fill-opacity="0.95"/></g>
<text transform="matrix(1 0 0 1.07 33.6 243.11)" font-size="7.6" text-anchor="end">ZO-1</text>
<rect x="36.4" y="249.6" width="66.4" height="12.8" fill="#c2c2c2" stroke="#222" stroke-width="0.9"/>
<g filter="url(#bl)"><ellipse cx="46.5" cy="256.3" rx="10" ry="2.4" fill="#2b2b2b" fill-opacity="0.95"/><ellipse cx="69.7" cy="256.3" rx="9" ry="1.4" fill="#2b2b2b" fill-opacity="0.85"/><ellipse cx="92" cy="256.3" rx="10" ry="2.1" fill="#2b2b2b" fill-opacity="0.9"/></g>
<text transform="matrix(1 0 0 1.07 33.6 258.91)" font-size="7.6" text-anchor="end">Occludin</text>
<rect x="36.4" y="265.3" width="66.4" height="13.2" fill="#c2c2c2" stroke="#222" stroke-width="0.9"/>
<g filter="url(#bl)"><ellipse cx="46.5" cy="272.2" rx="10" ry="2.1" fill="#2b2b2b" fill-opacity="0.95"/><ellipse cx="69.7" cy="272.2" rx="9" ry="1.6" fill="#2b2b2b" fill-opacity="0.9"/><ellipse cx="92" cy="272.2" rx="10" ry="2.1" fill="#2b2b2b" fill-opacity="0.95"/></g>
<text transform="matrix(1 0 0 1.07 33.6 274.81)" font-size="7.6" text-anchor="end">Claudin-1</text>
<rect x="36.4" y="281.1" width="66.4" height="13.4" fill="#c2c2c2" stroke="#222" stroke-width="0.9"/>
<g filter="url(#bl)"><ellipse cx="46.5" cy="288.1" rx="10" ry="3" fill="#2b2b2b" fill-opacity="0.95"/><ellipse cx="69.7" cy="288.1" rx="10" ry="2.9" fill="#2b2b2b" fill-opacity="0.95"/><ellipse cx="92" cy="288.1" rx="10" ry="2.9" fill="#2b2b2b" fill-opacity="0.95"/></g>
<text transform="matrix(1 0 0 1.07 33.6 290.71)" font-size="7.6" text-anchor="end">β-actin</text>
<text transform="matrix(0.7071 -0.7566 0.7071 0.7566 48.6 300.3)" font-size="7.6" text-anchor="end">Control</text>
<text transform="matrix(0.7071 -0.7566 0.7071 0.7566 72 300.3)" font-size="7.6" text-anchor="end">OVA+sh-NC</text>
<text transform="matrix(0.7071 -0.7566 0.7071 0.7566 81.4 311.6)" font-size="7.6" text-anchor="end">OVA</text>
<text transform="matrix(0.7071 -0.7566 0.7071 0.7566 101.6 301.2)" font-size="7.6" text-anchor="end">+sh-circCDKAL1</text>
<rect x="147.2" y="208.1" width="10.1" height="3.7" fill="#dfe1e0" stroke="#111" stroke-width="0.8"/>
<text transform="matrix(1 0 0 1.07 164.1 213.11)" font-size="7.85">Control</text>
<rect x="205.9" y="203.3" width="10.1" height="3.7" fill="#efcb9a" stroke="#111" stroke-width="0.8"/>
<text transform="matrix(1 0 0 1.07 222.2 208.31)" font-size="7.85">OVA+sh-NC</text>
<rect x="205.9" y="214.9" width="10.1" height="3.7" fill="#5b7dbd" stroke="#111" stroke-width="0.8"/>
<text transform="matrix(1 0 0 1.07 222.2 219.91)" font-size="7.85">OVA+sh-circCDKAL1</text>
<text transform="matrix(0 -1.07 1 0 111.36 281.5)" font-size="8.55" text-anchor="middle">Relative protein level</text>
<path d="M129.4 337.3L297.6 337.3" stroke="#111" stroke-width="0.8"/>
<path d="M156.5 337.3L156.5 342.3" stroke="#111" stroke-width="0.8"/>
<path d="M214.6 337.3L214.6 342.3" stroke="#111" stroke-width="0.8"/>
<path d="M272.9 337.3L272.9 342.3" stroke="#111" stroke-width="0.8"/>
<rect x="134.6" y="249.15" width="11.2" height="88.15" fill="#dfe1e0" stroke="#111" stroke-width="0.8"/>
<rect x="150.9" y="305.72" width="11.2" height="31.58" fill="#efcb9a" stroke="#111" stroke-width="0.8"/>
<rect x="166.8" y="266.19" width="11.2" height="71.11" fill="#5b7dbd" stroke="#111" stroke-width="0.8"/>
<rect x="192.9" y="253.12" width="11.2" height="84.18" fill="#dfe1e0" stroke="#111" stroke-width="0.8"/>
<rect x="209" y="304.81" width="11.2" height="32.49" fill="#efcb9a" stroke="#111" stroke-width="0.8"/>
<rect x="225" y="275.27" width="11.2" height="62.03" fill="#5b7dbd" stroke="#111" stroke-width="0.8"/>
<rect x="251.3" y="258.23" width="11.2" height="79.07" fill="#dfe1e0" stroke="#111" stroke-width="0.8"/>
<rect x="267.3" y="291.06" width="11.2" height="46.24" fill="#efcb9a" stroke="#111" stroke-width="0.8"/>
<rect x="283.5" y="271.87" width="11.2" height="65.43" fill="#5b7dbd" stroke="#111" stroke-width="0.8"/>
<path d="M129.4 223.3L129.4 337.7" stroke="#111" stroke-width="0.8"/>
<path d="M125.2 337.3L129.4 337.3" stroke="#111" stroke-width="0.8"/>
<text transform="matrix(1 0 0 1.07 124.7 340.36)" font-size="8" text-anchor="end">0.0</text>
<path d="M125.2 314.58L129.4 314.58" stroke="#111" stroke-width="0.8"/>
<text transform="matrix(1 0 0 1.07 124.7 317.64)" font-size="8" text-anchor="end">0.2</text>
<path d="M125.2 291.86L129.4 291.86" stroke="#111" stroke-width="0.8"/>
<text transform="matrix(1 0 0 1.07 124.7 294.92)" font-size="8" text-anchor="end">0.4</text>
<path d="M125.2 269.14L129.4 269.14" stroke="#111" stroke-width="0.8"/>
<text transform="matrix(1 0 0 1.07 124.7 272.2)" font-size="8" text-anchor="end">0.6</text>
<path d="M125.2 246.42L129.4 246.42" stroke="#111" stroke-width="0.8"/>
<text transform="matrix(1 0 0 1.07 124.7 249.48)" font-size="8" text-anchor="end">0.8</text>
<path d="M125.2 223.7L129.4 223.7" stroke="#111" stroke-width="0.8"/>
<text transform="matrix(1 0 0 1.07 124.7 226.76)" font-size="8" text-anchor="end">1.0</text>
<path d="M140.2 245.28V252.67M137.4 245.28h5.6M137.4 252.67h5.6" stroke="#111" stroke-width="0.8" fill="none"/>
<g fill="#e8312b" fill-opacity="0.92"><circle cx="137.6" cy="244.38" r="2"/><circle cx="142.8" cy="246.87" r="2"/><circle cx="140.2" cy="250.51" r="2"/><circle cx="140.2" cy="253.12" r="2"/></g>
<path d="M156.5 302.65V308.33M153.7 302.65h5.6M153.7 308.33h5.6" stroke="#111" stroke-width="0.8" fill="none"/>
<g fill="#e8312b" fill-opacity="0.92"><rect x="151.7" y="299.94" width="3.6" height="3.6"/><rect x="155" y="301.65" width="3.6" height="3.6"/><rect x="158.1" y="305.28" width="3.6" height="3.6"/><rect x="154.7" y="306.99" width="3.6" height="3.6"/></g>
<path d="M172.4 262.32V269.71M169.6 262.32h5.6M169.6 269.71h5.6" stroke="#111" stroke-width="0.8" fill="none"/>
<g fill="#e8312b" fill-opacity="0.92"><path d="M172.4 259.12l2.2 4h-4.4z"/><path d="M168.8 261.61l2.2 4h-4.4z"/><path d="M176 265.25l2.2 4h-4.4z"/><path d="M172.4 267.86l2.2 4h-4.4z"/></g>
<text transform="matrix(1 0 0 1.07 155.4 350.66)" font-size="8" text-anchor="middle">ZO-1</text>
<path d="M198.5 244.15V261.76M195.7 244.15h5.6M195.7 261.76h5.6" stroke="#111" stroke-width="0.8" fill="none"/>
<g fill="#e8312b" fill-opacity="0.92"><circle cx="198.5" cy="243.24" r="2"/><circle cx="198.5" cy="250.85" r="2"/><circle cx="195.3" cy="254.49" r="2"/><circle cx="201.7" cy="262.21" r="2"/></g>
<path d="M214.6 300.38V308.9M211.8 300.38h5.6M211.8 308.9h5.6" stroke="#111" stroke-width="0.8" fill="none"/>
<g fill="#e8312b" fill-opacity="0.92"><rect x="213.3" y="297.67" width="3.6" height="3.6"/><rect x="209.4" y="300.74" width="3.6" height="3.6"/><rect x="216" y="304.37" width="3.6" height="3.6"/><rect x="212.8" y="307.55" width="3.6" height="3.6"/></g>
<path d="M230.6 269.14V281.64M227.8 269.14h5.6M227.8 281.64h5.6" stroke="#111" stroke-width="0.8" fill="none"/>
<g fill="#e8312b" fill-opacity="0.92"><path d="M230.6 265.93l2.2 4h-4.4z"/><path d="M227.2 270.7l2.2 4h-4.4z"/><path d="M234 274.34l2.2 4h-4.4z"/><path d="M230.6 279.79l2.2 4h-4.4z"/></g>
<text transform="matrix(1 0 0 1.07 213.6 350.66)" font-size="8" text-anchor="middle">Occludin</text>
<path d="M256.9 254.37V261.76M254.1 254.37h5.6M254.1 261.76h5.6" stroke="#111" stroke-width="0.8" fill="none"/>
<g fill="#e8312b" fill-opacity="0.92"><circle cx="253.9" cy="253.46" r="2"/><circle cx="259.9" cy="255.96" r="2"/><circle cx="253.5" cy="259.6" r="2"/><circle cx="260.1" cy="262.21" r="2"/></g>
<path d="M272.9 287.32V294.7M270.1 287.32h5.6M270.1 294.7h5.6" stroke="#111" stroke-width="0.8" fill="none"/>
<g fill="#e8312b" fill-opacity="0.92"><rect x="271.6" y="284.61" width="3.6" height="3.6"/><rect x="267.9" y="286.99" width="3.6" height="3.6"/><rect x="274.5" y="290.63" width="3.6" height="3.6"/><rect x="271.1" y="293.35" width="3.6" height="3.6"/></g>
<path d="M289.1 267.44V275.96M286.3 267.44h5.6M286.3 275.96h5.6" stroke="#111" stroke-width="0.8" fill="none"/>
<g fill="#e8312b" fill-opacity="0.92"><path d="M285.9 264.23l2.2 4h-4.4z"/><path d="M292.3 267.29l2.2 4h-4.4z"/><path d="M288.6 270.93l2.2 4h-4.4z"/><path d="M289.1 274.11l2.2 4h-4.4z"/></g>
<text transform="matrix(1 0 0 1.07 272 350.66)" font-size="8" text-anchor="middle">Claudin-1</text>
<path d="M139.9 237.1L157.9 237.1" stroke="#222" stroke-width="0.8"/>
<text transform="matrix(1 0 0 1.07 148.9 236.5)" font-size="9.3" text-anchor="middle">**</text>
<path d="M154.5 245.6L172.7 245.6" stroke="#222" stroke-width="0.8"/>
<text transform="matrix(1 0 0 1.07 163.6 245)" font-size="9.3" text-anchor="middle">**</text>
<path d="M198.4 235.5L216.6 235.5" stroke="#222" stroke-width="0.8"/>
<text transform="matrix(1 0 0 1.07 207.5 234.9)" font-size="9.3" text-anchor="middle">**</text>
<path d="M214 262.5L232.7 262.5" stroke="#222" stroke-width="0.8"/>
<text transform="matrix(1 0 0 1.07 223.35 261.9)" font-size="9.3" text-anchor="middle">**</text>
<path d="M255.5 247.3L273.9 247.3" stroke="#222" stroke-width="0.8"/>
<text transform="matrix(1 0 0 1.07 264.7 246.7)" font-size="9.3" text-anchor="middle">**</text>
<path d="M272 257.9L290.6 257.9" stroke="#222" stroke-width="0.8"/>
<text transform="matrix(1 0 0 1.07 281.3 257.3)" font-size="9.3" text-anchor="middle">**</text>
<text transform="matrix(1 0 0 1.07 357 200.63)" font-size="7.9" text-anchor="middle">CD68/iNOS</text>
<text transform="matrix(1 0 0 1.07 434.2 200.63)" font-size="7.9" text-anchor="middle">CD68/CD206</text>
<text transform="matrix(0 -1.07 1 0 318.94 231.5)" font-size="7.38" text-anchor="middle">Control</text>
<text transform="matrix(0 -1.07 1 0 318.94 289.2)" font-size="7.38" text-anchor="middle">OVA+sh-NC</text>
<text transform="matrix(0 -1.07 1 0 309.84 347.5)" font-size="7.38" text-anchor="middle">OVA</text>
<text transform="matrix(0 -1.07 1 0 319.04 347.5)" font-size="7.38" text-anchor="middle">+sh-circCDKAL1</text>
<g><rect x="320.5" y="203.9" width="73.7" height="55.2" fill="#040305"/>
<svg x="320.5" y="203.9" width="73.7" height="55.2" viewBox="320.5 203.9 73.7 55.2" overflow="hidden">
<polygon points="320.5 220.9 338.93 218.9 357.35 218.9 375.77 219.9 394.2 223.9 394.2 248.9 375.77 250.9 357.35 251.4 338.93 251.4 320.5 249.9" fill="#2150c0" fill-opacity="0.08" filter="url(#bl)"/>
<g filter="url(#spkg)"><polygon points="320.5 220.9 338.93 218.9 357.35 218.9 375.77 219.9 394.2 223.9 394.2 248.9 375.77 250.9 357.35 251.4 338.93 251.4 320.5 249.9" fill="#2150c0" fill-opacity="0.7"/></g>
<g filter="url(#bl3)"><ellipse cx="356.5" cy="233.9" rx="27" ry="6.5" fill="#8a7a1c" fill-opacity="0.68" filter="url(#spk3)"/><path d="M321.5 220.4C326.57 220.4 326.57 219.88 331.64 219.88C336.71 219.88 336.71 221.84 341.79 221.84C346.86 221.84 346.86 221.56 351.93 221.56C357 221.56 357 220.94 362.07 220.94C367.14 220.94 367.14 221.57 372.21 221.57C377.29 221.57 377.29 221.67 382.36 221.67C387.43 221.67 387.43 222.4 392.5 222.4" fill="none" stroke="#2150c0" stroke-opacity="0.55" stroke-width="1.2" stroke-linecap="round"/><ellipse cx="348.5" cy="248.4" rx="3" ry="0.6" fill="#e6e020" fill-opacity="0.85" filter="url(#bl)"/><ellipse cx="386.5" cy="244.9" rx="1.6" ry="0.6" fill="#e6e020" fill-opacity="0.8" filter="url(#bl)"/><path d="M321.4 225.2h0.9M370.2 225.1h0.6M337.4 242.7h0.7M374.3 239.9h0.7M359.4 233.7h0.9M392.9 227.4h0.6M388.8 233.9h0.7M344.5 231.2h1.4M335.8 227h1.1M360.3 248.5h1.3M346.3 226.4h1.3M392.4 225.9h1.2M383.6 239.7h0.7M378.4 241.8h0.7M367.1 227.2h0.6M344.9 230.3h0.9M367.5 244.9h1.4M391.5 247.4h1.3M342.8 225.6h1.1M360.2 240.3h0.6M334.5 247.3h1.1M371.1 223.9h0.9" stroke="#e6e020" stroke-opacity="0.6" stroke-width="0.85" fill="none"/></g>
</svg></g>
<g><rect x="397.2" y="203.9" width="73.2" height="54.5" fill="#040305"/>
<svg x="397.2" y="203.9" width="73.2" height="54.5" viewBox="397.2 203.9 73.2 54.5" overflow="hidden">
<polygon points="397.2 221.9 415.5 220.9 427.94 221.9 435.26 222.9 455.76 222.9 470.4 223.9 470.4 239.9 455.76 239.9 435.26 240.9 427.94 247.4 415.5 248.4 397.2 247.9" fill="#2150c0" fill-opacity="0.08" filter="url(#bl)"/>
<g filter="url(#spkg)"><polygon points="397.2 221.9 415.5 220.9 427.94 221.9 435.26 222.9 455.76 222.9 470.4 223.9 470.4 239.9 455.76 239.9 435.26 240.9 427.94 247.4 415.5 248.4 397.2 247.9" fill="#2150c0" fill-opacity="0.63"/></g>
<g filter="url(#bl3)"><path d="M402.8 228.1h0.8M462.2 231.6h1.2M404.4 235h1.3M434.9 238.6h1.3M424 223.1h1.2M406.3 223.1h1.2M458.1 236.1h1.4M411.8 224.6h0.6M467.8 226.8h0.7M398.7 224.5h0.6M422.7 226.8h0.8M464.3 227.3h1.3M450.5 232.5h1.1M452.8 232.7h0.7" stroke="#7ad0c0" stroke-opacity="0.55" stroke-width="0.85" fill="none"/></g>
</svg></g>
<g><rect x="320.5" y="262" width="73.7" height="55.2" fill="#040305"/>
<svg x="320.5" y="262" width="73.7" height="55.2" viewBox="320.5 262 73.7 55.2" overflow="hidden">
<polygon points="320.5 277 338.93 275 357.35 276 375.77 277 394.2 279 394.2 306 375.77 307.5 357.35 308 338.93 307.5 320.5 306" fill="#2150c0" fill-opacity="0.08" filter="url(#bl)"/>
<g filter="url(#spkg)"><polygon points="320.5 277 338.93 275 357.35 276 375.77 277 394.2 279 394.2 306 375.77 307.5 357.35 308 338.93 307.5 320.5 306" fill="#2150c0" fill-opacity="0.7"/></g>
<g filter="url(#bl3)"><ellipse cx="357.5" cy="290" rx="27" ry="6.5" fill="#8a7a1c" fill-opacity="0.68" filter="url(#spk3)"/><path d="M321.5 277C326.57 277 326.57 276.99 331.64 276.99C336.71 276.99 336.71 278.15 341.79 278.15C346.86 278.15 346.86 278.1 351.93 278.1C357 278.1 357 278.23 362.07 278.23C367.14 278.23 367.14 278.09 372.21 278.09C377.29 278.09 377.29 279.05 382.36 279.05C387.43 279.05 387.43 278.5 392.5 278.5" fill="none" stroke="#2150c0" stroke-opacity="0.5" stroke-width="1.2" stroke-linecap="round"/><ellipse cx="331.5" cy="302.5" rx="3" ry="0.7" fill="#e6e020" fill-opacity="0.8" filter="url(#bl)"/><ellipse cx="324.5" cy="284" rx="1.2" ry="0.6" fill="#e6e020" fill-opacity="0.8" filter="url(#bl)"/><ellipse cx="382.5" cy="290" rx="1.2" ry="0.6" fill="#e6e020" fill-opacity="0.7" filter="url(#bl)"/><path d="M362 295.8h1.3M340.7 295.8h1.3M386.6 284.5h1.1M365.4 292.2h1.4M358.9 290.4h1.4M366.7 286.5h0.8M356.6 279h1.1M374 290.2h1.3M388 293.8h1.2M329 279.1h1.4M341.2 282.9h1.3M375 281.9h0.8M338.1 284.6h0.5M358.6 286.4h0.9M334 280.2h0.6M383.9 298.8h1M329.5 281.6h0.6M343.5 278.5h0.8M335.3 282.4h1.1M353.8 291.1h0.9M359.7 300.2h0.8M325.6 290.9h0.9" stroke="#e6e020" stroke-opacity="0.6" stroke-width="0.85" fill="none"/></g>
</svg></g>
<g><rect x="397.2" y="262" width="73.2" height="54.5" fill="#040305"/>
<svg x="397.2" y="262" width="73.2" height="54.5" viewBox="397.2 262 73.2 54.5" overflow="hidden">
<polygon points="397.2 278 415.5 276 433.8 272 452.1 270.5 470.4 272 470.4 312 452.1 312.5 433.8 312.5 415.5 311 397.2 309" fill="#2150c0" fill-opacity="0.08" filter="url(#bl)"/>
<g filter="url(#spkg)"><polygon points="397.2 278 415.5 276 433.8 272 452.1 270.5 470.4 272 470.4 312 452.1 312.5 433.8 312.5 415.5 311 397.2 309" fill="#2150c0" fill-opacity="0.65"/></g>
<g filter="url(#bl3)"><ellipse cx="410.2" cy="294" rx="1.8" ry="1.1" fill="#ff7a18" fill-opacity="0.95" filter="url(#bl)"/><path d="M398.2 308.5C403.27 308.5 403.27 308.19 408.34 308.19C413.41 308.19 413.41 308.65 418.49 308.65C423.56 308.65 423.56 310.66 428.63 310.66C433.7 310.66 433.7 310.98 438.77 310.98C443.84 310.98 443.84 310.59 448.91 310.59C453.99 310.59 453.99 311.59 459.06 311.59C464.13 311.59 464.13 311.5 469.2 311.5" fill="none" stroke="#2150c0" stroke-opacity="0.6" stroke-width="1.3" stroke-linecap="round"/><path d="M435.4 295.4h1.3M462.1 306.2h0.9M465.7 289.1h0.8M404 293.8h0.7M417 297h1.2M451.5 275.4h0.6M415.6 295.1h1.3M455 308.3h1.1M443.2 283.9h0.8M412.1 294.6h1.1M438.6 287.9h0.9M415.1 303.6h1.1M451.3 303.7h0.8M405.6 287h1.4" stroke="#d85030" stroke-opacity="0.55" stroke-width="0.85" fill="none"/></g>
</svg></g>
<g><rect x="320.5" y="319.7" width="73.7" height="55.2" fill="#040305"/>
<svg x="320.5" y="319.7" width="73.7" height="55.2" viewBox="320.5 319.7 73.7 55.2" overflow="hidden">
<polygon points="320.5 339.7 338.93 336.7 357.35 335.2 375.77 335.2 394.2 336.7 394.2 367.7 375.77 369.7 357.35 370.2 338.93 369.7 320.5 366.7" fill="#2150c0" fill-opacity="0.08" filter="url(#bl)"/>
<g filter="url(#spkg)"><polygon points="320.5 339.7 338.93 336.7 357.35 335.2 375.77 335.2 394.2 336.7 394.2 367.7 375.77 369.7 357.35 370.2 338.93 369.7 320.5 366.7" fill="#2150c0" fill-opacity="0.7"/></g>
<g filter="url(#bl3)"><ellipse cx="362.5" cy="346.7" rx="19" ry="4.5" fill="#a4601c" fill-opacity="0.72" filter="url(#spk3)"/><ellipse cx="345.5" cy="353.7" rx="8" ry="0.9" fill="#e6e020" fill-opacity="0.85" filter="url(#bl)"/><ellipse cx="365.5" cy="362.7" rx="5" ry="0.7" fill="#e6e020" fill-opacity="0.75" filter="url(#bl)"/><ellipse cx="333.5" cy="343.7" rx="2.5" ry="0.7" fill="#e6e020" fill-opacity="0.7" filter="url(#bl)"/><path d="M360.4 360.6h1.2M383.4 345.9h1.4M361.7 360.5h1.2M388.1 345.7h0.9M372.7 355.2h1.2M347 367h0.6M373 348.5h0.6M369.6 338.3h0.8M344.1 342.6h0.7M325.9 362.1h0.6M332.2 341.4h1.4M360.2 362.9h1.4M356.5 349.4h0.9M339.7 356h1.4M357.1 360.9h1.3M380.8 357.6h1M327.6 350h1.3M352.6 358.5h0.8M362.9 343.7h1.2M379.6 337.6h1.1M327.4 365h0.7M329.9 363.8h1.1M321.3 352.4h1.3M332.5 360.3h0.8M352.6 349.5h0.6M348.8 353.6h1.1" stroke="#e6e020" stroke-opacity="0.65" stroke-width="0.85" fill="none"/></g>
</svg></g>
<g><rect x="397.2" y="319.7" width="73.2" height="54.5" fill="#040305"/>
<svg x="397.2" y="319.7" width="73.2" height="54.5" viewBox="397.2 319.7 73.2 54.5" overflow="hidden">
<polygon points="397.2 328.7 415.5 324.7 433.8 326.7 452.1 330.7 470.4 334.7 470.4 369.7 452.1 371.7 433.8 372.7 415.5 371.7 397.2 369.7" fill="#2150c0" fill-opacity="0.08" filter="url(#bl)"/>
<g filter="url(#spkg)"><polygon points="397.2 328.7 415.5 324.7 433.8 326.7 452.1 330.7 470.4 334.7 470.4 369.7 452.1 371.7 433.8 372.7 415.5 371.7 397.2 369.7" fill="#2150c0" fill-opacity="0.65"/></g>
<g filter="url(#bl3)"><ellipse cx="447.2" cy="351.7" rx="22" ry="4.2" fill="#010103" fill-opacity="0.95" filter="url(#bl)"/><ellipse cx="417.2" cy="337.7" rx="6" ry="0.7" fill="#c8d820" fill-opacity="0.55" filter="url(#bl)"/><path d="M420.9 369.8h1.4M463.5 361.7h1.3M397.2 354h0.8M449.9 348.5h1M436.4 353.2h1.3M468.1 347.1h1.3M461.4 348h0.7M433.1 361.1h1M410.5 357.2h0.8M461.2 340.2h1.1M425 370.1h0.7M460.7 348.8h0.9M412.2 348.1h1.4M469.4 366.3h1.1M414.2 348.6h1.1M418.6 369.8h0.6M414.2 335.3h0.7M401.8 338.7h0.9M465 353.5h1.1M422.3 334.4h1" stroke="#b8d840" stroke-opacity="0.55" stroke-width="0.85" fill="none"/></g>
</svg></g>
<text transform="matrix(1 0 0 1.07 393 369.6)" font-size="7.8" text-anchor="end" fill="#fff" class="w">50µm</text>
<text transform="matrix(1 0 0 1.07 469.4 369.6)" font-size="7.8" text-anchor="end" fill="#fff" class="w">50µm</text>
<path d="M382 372.8L385.4 372.8" stroke="#ddd" stroke-width="0.7"/>
<path d="M458 372.8L461.4 372.8" stroke="#ddd" stroke-width="0.7"/>
<rect x="491.5" y="229.6" width="10.1" height="3.9" fill="#dfe1e0" stroke="#111" stroke-width="0.8"/>
<text transform="matrix(1 0 0 1.07 502.7 234.69)" font-size="7.8">Control</text>
<rect x="533.6" y="229.6" width="10.5" height="3.9" fill="#efcb9a" stroke="#111" stroke-width="0.8"/>
<text transform="matrix(1 0 0 1.07 545 234.69)" font-size="7.8">OVA+sh-NC</text>
<rect x="593.2" y="229.6" width="9.8" height="3.9" fill="#5b7dbd" stroke="#111" stroke-width="0.8"/>
<text transform="matrix(1 0 0 1.07 604.2 234.69)" font-size="7.8">OVA+sh-circCDKAL1</text>
<text transform="matrix(0 -1.07 1 0 479.26 301.3)" font-size="8.55" text-anchor="middle">CD68<tspan font-size="5.2" dy="-3.2">+</tspan><tspan dy="3.2"> iNOS</tspan><tspan font-size="5.2" dy="-3.2">+</tspan></text>
<text transform="matrix(0 -1.07 1 0 488.96 298.5)" font-size="8.55" text-anchor="middle">macrophages (cell/HPF)</text>
<path d="M503.6 355.9L579.4 355.9" stroke="#111" stroke-width="0.8"/>
<path d="M518.55 355.9L518.55 360.9" stroke="#111" stroke-width="0.8"/>
<path d="M541.65 355.9L541.65 360.9" stroke="#111" stroke-width="0.8"/>
<path d="M564.6 355.9L564.6 360.9" stroke="#111" stroke-width="0.8"/>
<rect x="511.3" y="339.24" width="14.5" height="16.66" fill="#dfe1e0" stroke="#111" stroke-width="0.8"/>
<rect x="534.5" y="278.06" width="14.3" height="77.84" fill="#efcb9a" stroke="#111" stroke-width="0.8"/>
<rect x="557.4" y="334.07" width="14.4" height="21.83" fill="#5b7dbd" stroke="#111" stroke-width="0.8"/>
<path d="M503.6 240.6L503.6 356.3" stroke="#111" stroke-width="0.8"/>
<path d="M499 355.9L503.6 355.9" stroke="#111" stroke-width="0.8"/>
<text transform="matrix(1 0 0 1.07 498.4 358.96)" font-size="8" text-anchor="end">0</text>
<path d="M499 327.17L503.6 327.17" stroke="#111" stroke-width="0.8"/>
<text transform="matrix(1 0 0 1.07 498.4 330.24)" font-size="8" text-anchor="end">5</text>
<path d="M499 298.45L503.6 298.45" stroke="#111" stroke-width="0.8"/>
<text transform="matrix(1 0 0 1.07 498.4 301.51)" font-size="8" text-anchor="end">10</text>
<path d="M499 269.72L503.6 269.72" stroke="#111" stroke-width="0.8"/>
<text transform="matrix(1 0 0 1.07 498.4 272.79)" font-size="8" text-anchor="end">15</text>
<path d="M499 241L503.6 241" stroke="#111" stroke-width="0.8"/>
<text transform="matrix(1 0 0 1.07 498.4 244.06)" font-size="8" text-anchor="end">20</text>
<path d="M518.55 334.93V342.69M515.25 334.93h6.6M515.25 342.69h6.6" stroke="#111" stroke-width="0.8" fill="none"/>
<g fill="#e8312b" fill-opacity="0.92"><circle cx="516.49" cy="330.62" r="1.65"/><circle cx="516.49" cy="335.79" r="1.65"/><circle cx="522.67" cy="337.52" r="1.65"/><circle cx="514.42" cy="338.66" r="1.65"/><circle cx="518.55" cy="339.24" r="1.65"/><circle cx="521.2" cy="339.81" r="1.65"/><circle cx="520.92" cy="340.39" r="1.65"/><circle cx="515.06" cy="340.96" r="1.65"/><circle cx="522.62" cy="341.54" r="1.65"/><circle cx="518.55" cy="342.69" r="1.65"/><circle cx="516.83" cy="343.84" r="1.65"/></g>
<path d="M541.65 269.72V285.24M538.35 269.72h6.6M538.35 285.24h6.6" stroke="#111" stroke-width="0.8" fill="none"/>
<g fill="#e8312b" fill-opacity="0.92"><rect x="544.29" y="265.37" width="2.97" height="2.97"/><rect x="538.1" y="267.67" width="2.97" height="2.97"/><rect x="542.23" y="270.54" width="2.97" height="2.97"/><rect x="540.16" y="272.84" width="2.97" height="2.97"/><rect x="536.04" y="273.98" width="2.97" height="2.97"/><rect x="544.29" y="276.28" width="2.97" height="2.97"/><rect x="542.23" y="278.58" width="2.97" height="2.97"/><rect x="538.1" y="280.88" width="2.97" height="2.97"/><rect x="540.16" y="283.18" width="2.97" height="2.97"/><rect x="544.29" y="284.9" width="2.97" height="2.97"/><rect x="540.16" y="286.62" width="2.97" height="2.97"/><rect x="536.04" y="287.2" width="2.97" height="2.97"/></g>
<path d="M564.6 329.47V339.24M561.3 329.47h6.6M561.3 339.24h6.6" stroke="#111" stroke-width="0.8" fill="none"/>
<g fill="#e8312b" fill-opacity="0.92"><path d="M568.72 328.72l1.81 3.3h-3.63z"/><path d="M564.6 329.3l1.81 3.3h-3.63z"/><path d="M560.47 329.87l1.81 3.3h-3.63z"/><path d="M563.91 330.45l1.81 3.3h-3.63z"/><path d="M563.63 331.02l1.81 3.3h-3.63z"/><path d="M566.66 331.6l1.81 3.3h-3.63z"/><path d="M560.87 332.17l1.81 3.3h-3.63z"/><path d="M560.39 333.32l1.81 3.3h-3.63z"/><path d="M564.6 334.47l1.81 3.3h-3.63z"/><path d="M566.66 339.64l1.81 3.3h-3.63z"/><path d="M564.6 341.94l1.81 3.3h-3.63z"/></g>
<path d="M519 259.6L541.3 259.6" stroke="#777" stroke-width="0.8"/>
<text transform="matrix(1 0 0 1.07 530.15 259)" font-size="9.3" text-anchor="middle">**</text>
<path d="M541.7 253L563 253" stroke="#222" stroke-width="0.8"/>
<text transform="matrix(1 0 0 1.07 552.35 252.4)" font-size="9.3" text-anchor="middle">**</text>
<text transform="matrix(0 -1.07 1 0 582.16 305)" font-size="8.55" text-anchor="middle">CD68<tspan font-size="5.2" dy="-3.2">+</tspan><tspan dy="3.2"> iCD206</tspan><tspan font-size="5.2" dy="-3.2">+</tspan></text>
<text transform="matrix(0 -1.07 1 0 591.86 302.6)" font-size="8.55" text-anchor="middle">macrophages (cell/HPF)</text>
<path d="M606.6 353.6L684.6 353.6" stroke="#111" stroke-width="0.8"/>
<path d="M622.25 353.6L622.25 358.6" stroke="#111" stroke-width="0.8"/>
<path d="M644.9 353.6L644.9 358.6" stroke="#111" stroke-width="0.8"/>
<path d="M667.7 353.6L667.7 358.6" stroke="#111" stroke-width="0.8"/>
<rect x="615.2" y="344.44" width="14.1" height="9.16" fill="#dfe1e0" stroke="#111" stroke-width="0.8"/>
<rect x="637.8" y="322.7" width="14.2" height="30.9" fill="#efcb9a" stroke="#111" stroke-width="0.8"/>
<rect x="660.5" y="265.86" width="14.4" height="87.75" fill="#5b7dbd" stroke="#111" stroke-width="0.8"/>
<path d="M606.6 238.75L606.6 354" stroke="#111" stroke-width="0.8"/>
<path d="M602.1 353.6L606.6 353.6" stroke="#111" stroke-width="0.8"/>
<text transform="matrix(1 0 0 1.07 601.7 356.66)" font-size="8" text-anchor="end">0</text>
<path d="M602.1 315.45L606.6 315.45" stroke="#111" stroke-width="0.8"/>
<text transform="matrix(1 0 0 1.07 601.7 318.51)" font-size="8" text-anchor="end">10</text>
<path d="M602.1 277.3L606.6 277.3" stroke="#111" stroke-width="0.8"/>
<text transform="matrix(1 0 0 1.07 601.7 280.36)" font-size="8" text-anchor="end">20</text>
<path d="M602.1 239.15L606.6 239.15" stroke="#111" stroke-width="0.8"/>
<text transform="matrix(1 0 0 1.07 601.7 242.21)" font-size="8" text-anchor="end">30</text>
<path d="M622.25 341.01V346.35M618.95 341.01h6.6M618.95 346.35h6.6" stroke="#111" stroke-width="0.8" fill="none"/>
<g fill="#e8312b" fill-opacity="0.92"><circle cx="626.38" cy="338.72" r="1.65"/><circle cx="622.25" cy="339.87" r="1.65"/><circle cx="618.12" cy="341.01" r="1.65"/><circle cx="626.38" cy="342.16" r="1.65"/><circle cx="622.25" cy="342.92" r="1.65"/><circle cx="618.29" cy="343.3" r="1.65"/><circle cx="618.95" cy="343.68" r="1.65"/><circle cx="618.94" cy="344.06" r="1.65"/><circle cx="622.2" cy="344.44" r="1.65"/><circle cx="620.36" cy="344.83" r="1.65"/><circle cx="626.38" cy="345.21" r="1.65"/></g>
<path d="M644.9 318.12V327.28M641.6 318.12h6.6M641.6 327.28h6.6" stroke="#111" stroke-width="0.8" fill="none"/>
<g fill="#e8312b" fill-opacity="0.92"><rect x="647.54" y="315.49" width="2.97" height="2.97"/><rect x="641.35" y="316.25" width="2.97" height="2.97"/><rect x="648.1" y="317.02" width="2.97" height="2.97"/><rect x="643.41" y="318.54" width="2.97" height="2.97"/><rect x="639.29" y="319.69" width="2.97" height="2.97"/><rect x="645.48" y="320.83" width="2.97" height="2.97"/><rect x="641.35" y="321.98" width="2.97" height="2.97"/><rect x="647.54" y="323.12" width="2.97" height="2.97"/><rect x="643.41" y="324.65" width="2.97" height="2.97"/><rect x="639.29" y="325.79" width="2.97" height="2.97"/><rect x="645.48" y="326.94" width="2.97" height="2.97"/><rect x="643.92" y="327.32" width="2.97" height="2.97"/></g>
<path d="M667.7 260.51V270.43M664.4 260.51h6.6M664.4 270.43h6.6" stroke="#111" stroke-width="0.8" fill="none"/>
<g fill="#e8312b" fill-opacity="0.92"><path d="M671.83 255.95l1.81 3.3h-3.63z"/><path d="M665.64 258.24l1.81 3.3h-3.63z"/><path d="M669.76 259.38l1.81 3.3h-3.63z"/><path d="M663.58 260.91l1.81 3.3h-3.63z"/><path d="M669.76 262.43l1.81 3.3h-3.63z"/><path d="M665.64 263.58l1.81 3.3h-3.63z"/><path d="M671.83 264.72l1.81 3.3h-3.63z"/><path d="M663.58 265.87l1.81 3.3h-3.63z"/><path d="M669.76 267.01l1.81 3.3h-3.63z"/><path d="M667.7 269.3l1.81 3.3h-3.63z"/><path d="M671.83 271.97l1.81 3.3h-3.63z"/></g>
<path d="M620.7 309.5L645 309.5" stroke="#222" stroke-width="0.8"/>
<text transform="matrix(1 0 0 1.07 632.85 308.9)" font-size="9.3" text-anchor="middle">**</text>
<path d="M644 252.4L667.7 252.4" stroke="#222" stroke-width="0.8"/>
<text transform="matrix(1 0 0 1.07 655.85 251.8)" font-size="9.3" text-anchor="middle">**</text>
<rect x="27" y="393.95" width="9.7" height="4" fill="#dfe1e0" stroke="#111" stroke-width="0.8"/>
<text transform="matrix(1 0 0 1.07 38.6 399.07)" font-size="7.75">Control</text>
<rect x="70.1" y="393.95" width="9.3" height="4" fill="#efcb9a" stroke="#111" stroke-width="0.8"/>
<text transform="matrix(1 0 0 1.07 80.5 399.07)" font-size="7.75">OVA+sh-NC</text>
<rect x="128.4" y="393.95" width="9.3" height="4" fill="#5b7dbd" stroke="#111" stroke-width="0.8"/>
<text transform="matrix(1 0 0 1.07 139.3 399.07)" font-size="7.75">OVA+sh-circCDKAL1</text>
<text transform="matrix(0 -1.07 1 0 11.59 460.8)" font-size="8.64" text-anchor="middle">The concentration of IL-6</text>
<text transform="matrix(0 -1.07 1 0 21.09 461.5)" font-size="8.64" text-anchor="middle">(pg/mL)</text>
<path d="M36.3 520.1L113.4 520.1" stroke="#111" stroke-width="0.8"/>
<path d="M51.45 520.1L51.45 525.1" stroke="#111" stroke-width="0.8"/>
<path d="M74.55 520.1L74.55 525.1" stroke="#111" stroke-width="0.8"/>
<path d="M97.4 520.1L97.4 525.1" stroke="#111" stroke-width="0.8"/>
<rect x="44" y="492.39" width="14.9" height="27.71" fill="#dfe1e0" stroke="#111" stroke-width="0.8"/>
<rect x="67.3" y="434.39" width="14.5" height="85.71" fill="#efcb9a" stroke="#111" stroke-width="0.8"/>
<rect x="90.2" y="467.82" width="14.4" height="52.28" fill="#5b7dbd" stroke="#111" stroke-width="0.8"/>
<path d="M36.3 405.42L36.3 520.5" stroke="#111" stroke-width="0.8"/>
<path d="M32.5 520.1L36.3 520.1" stroke="#111" stroke-width="0.8"/>
<text transform="matrix(1 0 0 1.07 32.3 523.16)" font-size="8" text-anchor="end">0</text>
<path d="M32.5 491.53L36.3 491.53" stroke="#111" stroke-width="0.8"/>
<text transform="matrix(1 0 0 1.07 32.3 494.59)" font-size="8" text-anchor="end">10</text>
<path d="M32.5 462.96L36.3 462.96" stroke="#111" stroke-width="0.8"/>
<text transform="matrix(1 0 0 1.07 32.3 466.02)" font-size="8" text-anchor="end">20</text>
<path d="M32.5 434.39L36.3 434.39" stroke="#111" stroke-width="0.8"/>
<text transform="matrix(1 0 0 1.07 32.3 437.45)" font-size="8" text-anchor="end">30</text>
<path d="M32.5 405.82L36.3 405.82" stroke="#111" stroke-width="0.8"/>
<text transform="matrix(1 0 0 1.07 32.3 408.88)" font-size="8" text-anchor="end">40</text>
<path d="M51.45 484.1V499.53M48.15 484.1h6.6M48.15 499.53h6.6" stroke="#111" stroke-width="0.8" fill="none"/>
<g fill="#e8312b" fill-opacity="0.92"><circle cx="47.33" cy="482.1" r="1.65"/><circle cx="55.58" cy="482.96" r="1.65"/><circle cx="53.51" cy="485.24" r="1.65"/><circle cx="47.33" cy="488.67" r="1.65"/><circle cx="49.39" cy="491.53" r="1.65"/><circle cx="55.58" cy="493.24" r="1.65"/><circle cx="51.45" cy="494.96" r="1.65"/><circle cx="47.33" cy="496.67" r="1.65"/><circle cx="51.45" cy="498.39" r="1.65"/><circle cx="49.39" cy="501.53" r="1.65"/><circle cx="53.51" cy="503.53" r="1.65"/></g>
<path d="M74.55 424.96V443.53M71.25 424.96h6.6M71.25 443.53h6.6" stroke="#111" stroke-width="0.8" fill="none"/>
<g fill="#e8312b" fill-opacity="0.92"><rect x="75.13" y="420.91" width="2.97" height="2.97"/><rect x="71" y="422.05" width="2.97" height="2.97"/><rect x="73.06" y="424.33" width="2.97" height="2.97"/><rect x="77.19" y="426.62" width="2.97" height="2.97"/><rect x="68.94" y="430.05" width="2.97" height="2.97"/><rect x="77.19" y="431.48" width="2.97" height="2.97"/><rect x="73.06" y="434.33" width="2.97" height="2.97"/><rect x="73.06" y="438.62" width="2.97" height="2.97"/><rect x="71" y="441.48" width="2.97" height="2.97"/><rect x="75.13" y="444.33" width="2.97" height="2.97"/><rect x="71" y="447.19" width="2.97" height="2.97"/><rect x="77.19" y="448.9" width="2.97" height="2.97"/></g>
<path d="M97.4 455.53V479.53M94.1 455.53h6.6M94.1 479.53h6.6" stroke="#111" stroke-width="0.8" fill="none"/>
<g fill="#e8312b" fill-opacity="0.92"><path d="M93.28 447.92l1.81 3.3h-3.63z"/><path d="M99.46 449.06l1.81 3.3h-3.63z"/><path d="M99.46 456.78l1.81 3.3h-3.63z"/><path d="M95.34 458.78l1.81 3.3h-3.63z"/><path d="M95.34 466.78l1.81 3.3h-3.63z"/><path d="M97.4 469.63l1.81 3.3h-3.63z"/><path d="M95.34 472.49l1.81 3.3h-3.63z"/><path d="M101.53 476.78l1.81 3.3h-3.63z"/><path d="M99.46 479.63l1.81 3.3h-3.63z"/><path d="M95.34 481.63l1.81 3.3h-3.63z"/></g>
<path d="M52.7 416.8L75.8 416.8" stroke="#777" stroke-width="0.8"/>
<text transform="matrix(1 0 0 1.07 64.25 416.2)" font-size="9.3" text-anchor="middle">**</text>
<path d="M78 408L101.1 408" stroke="#222" stroke-width="0.8"/>
<text transform="matrix(1 0 0 1.07 89.55 407.4)" font-size="9.3" text-anchor="middle">**</text>
<text transform="matrix(0 -1.07 1 0 125.86 462.5)" font-size="8.55" text-anchor="middle">The concentration of TNF-α</text>
<text transform="matrix(0 -1.07 1 0 136.06 462.5)" font-size="8.55" text-anchor="middle">(pg/mL)</text>
<path d="M160.5 519.1L229.8 519.1" stroke="#111" stroke-width="0.8"/>
<path d="M174.8 519.1L174.8 524.1" stroke="#111" stroke-width="0.8"/>
<path d="M196.2 519.1L196.2 524.1" stroke="#111" stroke-width="0.8"/>
<path d="M217.95 519.1L217.95 524.1" stroke="#111" stroke-width="0.8"/>
<rect x="168.2" y="515.77" width="13.2" height="3.33" fill="#dfe1e0" stroke="#111" stroke-width="0.8"/>
<rect x="189.6" y="446.7" width="13.2" height="72.4" fill="#efcb9a" stroke="#111" stroke-width="0.8"/>
<rect x="211.2" y="490.65" width="13.5" height="28.45" fill="#5b7dbd" stroke="#111" stroke-width="0.8"/>
<path d="M160.5 410.1L160.5 519.5" stroke="#111" stroke-width="0.8"/>
<path d="M155 519.1L160.5 519.1" stroke="#111" stroke-width="0.8"/>
<text transform="matrix(1 0 0 1.07 154.6 522.16)" font-size="8" text-anchor="end">0</text>
<path d="M155 482.9L160.5 482.9" stroke="#111" stroke-width="0.8"/>
<text transform="matrix(1 0 0 1.07 154.6 485.96)" font-size="8" text-anchor="end">500</text>
<path d="M155 446.7L160.5 446.7" stroke="#111" stroke-width="0.8"/>
<text transform="matrix(1 0 0 1.07 154.6 449.76)" font-size="8" text-anchor="end">1000</text>
<path d="M155 410.5L160.5 410.5" stroke="#111" stroke-width="0.8"/>
<text transform="matrix(1 0 0 1.07 154.6 413.56)" font-size="8" text-anchor="end">1500</text>
<path d="M174.8 513.67V516.93M171.5 513.67h6.6M171.5 516.93h6.6" stroke="#111" stroke-width="0.8" fill="none"/>
<g fill="#e8312b" fill-opacity="0.92"><circle cx="170.68" cy="512.58" r="1.65"/><circle cx="174.8" cy="513.31" r="1.65"/><circle cx="178.93" cy="513.67" r="1.65"/><circle cx="175.99" cy="514.03" r="1.65"/><circle cx="176.32" cy="514.39" r="1.65"/><circle cx="169.88" cy="514.76" r="1.65"/><circle cx="175.95" cy="515.12" r="1.65"/><circle cx="179.17" cy="515.48" r="1.65"/><circle cx="172.74" cy="515.84" r="1.65"/><circle cx="174.42" cy="516.2" r="1.65"/><circle cx="176.53" cy="516.93" r="1.65"/></g>
<path d="M196.2 440.91V452.49M192.9 440.91h6.6M192.9 452.49h6.6" stroke="#111" stroke-width="0.8" fill="none"/>
<g fill="#e8312b" fill-opacity="0.92"><rect x="198.84" y="436.53" width="2.97" height="2.97"/><rect x="192.65" y="437.25" width="2.97" height="2.97"/><rect x="190.59" y="440.87" width="2.97" height="2.97"/><rect x="196.78" y="443.04" width="2.97" height="2.97"/><rect x="194.71" y="445.22" width="2.97" height="2.97"/><rect x="190.59" y="446.66" width="2.97" height="2.97"/><rect x="198.84" y="448.11" width="2.97" height="2.97"/><rect x="194.71" y="449.56" width="2.97" height="2.97"/><rect x="190.59" y="450.28" width="2.97" height="2.97"/><rect x="198.84" y="451.01" width="2.97" height="2.97"/><rect x="192.65" y="452.46" width="2.97" height="2.97"/><rect x="196.78" y="454.63" width="2.97" height="2.97"/></g>
<path d="M217.95 486.52V494.85M214.65 486.52h6.6M214.65 494.85h6.6" stroke="#111" stroke-width="0.8" fill="none"/>
<g fill="#e8312b" fill-opacity="0.92"><path d="M215.89 483.17l1.81 3.3h-3.63z"/><path d="M220.01 484.62l1.81 3.3h-3.63z"/><path d="M213.82 486.07l1.81 3.3h-3.63z"/><path d="M217.95 487.52l1.81 3.3h-3.63z"/><path d="M222.07 488.24l1.81 3.3h-3.63z"/><path d="M217.23 488.97l1.81 3.3h-3.63z"/><path d="M213.82 489.69l1.81 3.3h-3.63z"/><path d="M220.01 490.41l1.81 3.3h-3.63z"/><path d="M215.89 491.86l1.81 3.3h-3.63z"/><path d="M222.07 492.59l1.81 3.3h-3.63z"/><path d="M217.95 494.03l1.81 3.3h-3.63z"/></g>
<path d="M170.9 432.1L194.6 432.1" stroke="#222" stroke-width="0.8"/>
<text transform="matrix(1 0 0 1.07 182.75 431.5)" font-size="9.3" text-anchor="middle">**</text>
<path d="M195.3 424.7L218.8 424.7" stroke="#777" stroke-width="0.8"/>
<text transform="matrix(1 0 0 1.07 207.05 424.1)" font-size="9.3" text-anchor="middle">**</text>
<rect x="272.5" y="400.85" width="9.9" height="4" fill="#dfe1e0" stroke="#111" stroke-width="0.8"/>
<text transform="matrix(1 0 0 1.07 283.5 406.03)" font-size="7.9">Control</text>
<rect x="314.9" y="400.85" width="9.9" height="4" fill="#efcb9a" stroke="#111" stroke-width="0.8"/>
<text transform="matrix(1 0 0 1.07 325.6 406.03)" font-size="7.9">OVA+sh-NC</text>
<rect x="373.7" y="400.85" width="9.9" height="4" fill="#5b7dbd" stroke="#111" stroke-width="0.8"/>
<text transform="matrix(1 0 0 1.07 385 406.03)" font-size="7.9">OVA+sh-circCDKAL1</text>
<text transform="matrix(0 -1.07 1 0 241.66 465)" font-size="8.55" text-anchor="middle">The concentration of Arg-1</text>
<text transform="matrix(0 -1.07 1 0 252.26 465)" font-size="8.55" text-anchor="middle">(pg/mL)</text>
<path d="M270.7 519.2L345 519.2" stroke="#111" stroke-width="0.8"/>
<path d="M285.2 519.2L285.2 524.2" stroke="#111" stroke-width="0.8"/>
<path d="M307 519.2L307 524.2" stroke="#111" stroke-width="0.8"/>
<path d="M328.95 519.2L328.95 524.2" stroke="#111" stroke-width="0.8"/>
<rect x="278.4" y="498.49" width="13.6" height="20.71" fill="#dfe1e0" stroke="#111" stroke-width="0.8"/>
<rect x="300.2" y="467.43" width="13.6" height="51.77" fill="#efcb9a" stroke="#111" stroke-width="0.8"/>
<rect x="322.1" y="452.71" width="13.7" height="66.49" fill="#5b7dbd" stroke="#111" stroke-width="0.8"/>
<path d="M270.7 409.8L270.7 519.6" stroke="#111" stroke-width="0.8"/>
<path d="M265.7 519.2L270.7 519.2" stroke="#111" stroke-width="0.8"/>
<text transform="matrix(1 0 0 1.07 265.2 522.26)" font-size="8" text-anchor="end">0</text>
<path d="M265.7 491.95L270.7 491.95" stroke="#111" stroke-width="0.8"/>
<text transform="matrix(1 0 0 1.07 265.2 495.01)" font-size="8" text-anchor="end">50</text>
<path d="M265.7 464.7L270.7 464.7" stroke="#111" stroke-width="0.8"/>
<text transform="matrix(1 0 0 1.07 265.2 467.76)" font-size="8" text-anchor="end">100</text>
<path d="M265.7 437.45L270.7 437.45" stroke="#111" stroke-width="0.8"/>
<text transform="matrix(1 0 0 1.07 265.2 440.51)" font-size="8" text-anchor="end">150</text>
<path d="M265.7 410.2L270.7 410.2" stroke="#111" stroke-width="0.8"/>
<text transform="matrix(1 0 0 1.07 265.2 413.26)" font-size="8" text-anchor="end">200</text>
<path d="M285.2 494.13V502.31M281.9 494.13h6.6M281.9 502.31h6.6" stroke="#111" stroke-width="0.8" fill="none"/>
<g fill="#e8312b" fill-opacity="0.92"><circle cx="289.32" cy="493.04" r="1.65"/><circle cx="285.2" cy="493.59" r="1.65"/><circle cx="281.07" cy="494.68" r="1.65"/><circle cx="287.26" cy="496.31" r="1.65"/><circle cx="283.14" cy="497.4" r="1.65"/><circle cx="289.32" cy="498.49" r="1.65"/><circle cx="285.2" cy="499.58" r="1.65"/><circle cx="281.07" cy="500.67" r="1.65"/><circle cx="289.32" cy="501.76" r="1.65"/><circle cx="285.2" cy="502.85" r="1.65"/><circle cx="281.07" cy="503.94" r="1.65"/></g>
<path d="M307 461.43V472.88M303.7 461.43h6.6M303.7 472.88h6.6" stroke="#111" stroke-width="0.8" fill="none"/>
<g fill="#e8312b" fill-opacity="0.92"><rect x="301.39" y="457.77" width="2.97" height="2.97"/><rect x="309.64" y="458.86" width="2.97" height="2.97"/><rect x="305.51" y="460.49" width="2.97" height="2.97"/><rect x="307.58" y="463.22" width="2.97" height="2.97"/><rect x="303.45" y="464.31" width="2.97" height="2.97"/><rect x="309.64" y="465.94" width="2.97" height="2.97"/><rect x="305.51" y="467.03" width="2.97" height="2.97"/><rect x="301.39" y="468.67" width="2.97" height="2.97"/><rect x="307.58" y="469.76" width="2.97" height="2.97"/><rect x="303.45" y="471.39" width="2.97" height="2.97"/><rect x="307.58" y="473.03" width="2.97" height="2.97"/><rect x="301.39" y="474.12" width="2.97" height="2.97"/></g>
<path d="M328.95 444.54V460.34M325.65 444.54h6.6M325.65 460.34h6.6" stroke="#111" stroke-width="0.8" fill="none"/>
<g fill="#e8312b" fill-opacity="0.92"><path d="M331.01 437.19l1.81 3.3h-3.63z"/><path d="M326.89 438.28l1.81 3.3h-3.63z"/><path d="M331.01 443.73l1.81 3.3h-3.63z"/><path d="M326.89 449.18l1.81 3.3h-3.63z"/><path d="M333.08 452.99l1.81 3.3h-3.63z"/><path d="M324.83 456.26l1.81 3.3h-3.63z"/><path d="M326.89 458.44l1.81 3.3h-3.63z"/><path d="M333.08 459.53l1.81 3.3h-3.63z"/><path d="M330.43 460.08l1.81 3.3h-3.63z"/></g>
<path d="M284.3 454.1L306.8 454.1" stroke="#222" stroke-width="0.8"/>
<text transform="matrix(1 0 0 1.07 295.55 453.5)" font-size="9.3" text-anchor="middle">**</text>
<path d="M305.9 434.3L328.3 434.3" stroke="#222" stroke-width="0.8"/>
<text transform="matrix(1 0 0 1.07 317.1 433.7)" font-size="9.3" text-anchor="middle">**</text>
<text transform="matrix(0 -1.07 1 0 356.76 465.5)" font-size="8.55" text-anchor="middle">The concentration of IL-10</text>
<text transform="matrix(0 -1.07 1 0 367.26 465.5)" font-size="8.55" text-anchor="middle">(pg/mL)</text>
<path d="M385.5 520.3L457.6 520.3" stroke="#111" stroke-width="0.8"/>
<path d="M399.9 520.3L399.9 525.3" stroke="#111" stroke-width="0.8"/>
<path d="M421.6 520.3L421.6 525.3" stroke="#111" stroke-width="0.8"/>
<path d="M443.35 520.3L443.35 525.3" stroke="#111" stroke-width="0.8"/>
<rect x="393.2" y="495.88" width="13.4" height="24.42" fill="#dfe1e0" stroke="#111" stroke-width="0.8"/>
<rect x="414.8" y="477.14" width="13.6" height="43.16" fill="#efcb9a" stroke="#111" stroke-width="0.8"/>
<rect x="436.5" y="451.41" width="13.7" height="68.89" fill="#5b7dbd" stroke="#111" stroke-width="0.8"/>
<path d="M385.5 410.9L385.5 520.7" stroke="#111" stroke-width="0.8"/>
<path d="M380.5 520.3L385.5 520.3" stroke="#111" stroke-width="0.8"/>
<text transform="matrix(1 0 0 1.07 380 523.13)" font-size="7.4" text-anchor="end">0</text>
<path d="M380.5 498.5L385.5 498.5" stroke="#111" stroke-width="0.8"/>
<text transform="matrix(1 0 0 1.07 380 501.33)" font-size="7.4" text-anchor="end">50</text>
<path d="M380.5 476.7L385.5 476.7" stroke="#111" stroke-width="0.8"/>
<text transform="matrix(1 0 0 1.07 380 479.53)" font-size="7.4" text-anchor="end">100</text>
<path d="M380.5 454.9L385.5 454.9" stroke="#111" stroke-width="0.8"/>
<text transform="matrix(1 0 0 1.07 380 457.73)" font-size="7.4" text-anchor="end">150</text>
<path d="M380.5 433.1L385.5 433.1" stroke="#111" stroke-width="0.8"/>
<text transform="matrix(1 0 0 1.07 380 435.93)" font-size="7.4" text-anchor="end">200</text>
<path d="M380.5 411.3L385.5 411.3" stroke="#111" stroke-width="0.8"/>
<text transform="matrix(1 0 0 1.07 380 414.13)" font-size="7.4" text-anchor="end">250</text>
<path d="M399.9 491.52V498.5M396.6 491.52h6.6M396.6 498.5h6.6" stroke="#111" stroke-width="0.8" fill="none"/>
<g fill="#e8312b" fill-opacity="0.92"><circle cx="395.77" cy="488.91" r="1.65"/><circle cx="404.02" cy="490.65" r="1.65"/><circle cx="401.96" cy="493.27" r="1.65"/><circle cx="395.77" cy="494.14" r="1.65"/><circle cx="401.77" cy="495.01" r="1.65"/><circle cx="402.97" cy="495.45" r="1.65"/><circle cx="404.56" cy="495.88" r="1.65"/><circle cx="397.84" cy="496.32" r="1.65"/><circle cx="398.75" cy="496.76" r="1.65"/><circle cx="396.58" cy="497.63" r="1.65"/><circle cx="401.96" cy="498.5" r="1.65"/></g>
<path d="M421.6 470.16V483.68M418.3 470.16h6.6M418.3 483.68h6.6" stroke="#111" stroke-width="0.8" fill="none"/>
<g fill="#e8312b" fill-opacity="0.92"><rect x="422.18" y="464.75" width="2.97" height="2.97"/><rect x="415.99" y="467.37" width="2.97" height="2.97"/><rect x="424.24" y="468.67" width="2.97" height="2.97"/><rect x="418.05" y="470.85" width="2.97" height="2.97"/><rect x="424.24" y="473.03" width="2.97" height="2.97"/><rect x="420.12" y="475.21" width="2.97" height="2.97"/><rect x="424.24" y="476.09" width="2.97" height="2.97"/><rect x="418.05" y="477.39" width="2.97" height="2.97"/><rect x="420.12" y="479.57" width="2.97" height="2.97"/><rect x="424.24" y="481.32" width="2.97" height="2.97"/><rect x="420.12" y="483.06" width="2.97" height="2.97"/><rect x="415.99" y="483.93" width="2.97" height="2.97"/></g>
<path d="M443.35 443.13V458.82M440.05 443.13h6.6M440.05 458.82h6.6" stroke="#111" stroke-width="0.8" fill="none"/>
<g fill="#e8312b" fill-opacity="0.92"><path d="M447.48 434.69l1.81 3.3h-3.63z"/><path d="M445.41 438.61l1.81 3.3h-3.63z"/><path d="M445.41 446.46l1.81 3.3h-3.63z"/><path d="M443.35 448.64l1.81 3.3h-3.63z"/><path d="M439.23 449.51l1.81 3.3h-3.63z"/><path d="M445.41 450.82l1.81 3.3h-3.63z"/><path d="M447.48 453l1.81 3.3h-3.63z"/><path d="M441.29 455.18l1.81 3.3h-3.63z"/><path d="M439.23 457.36l1.81 3.3h-3.63z"/><path d="M447.48 459.11l1.81 3.3h-3.63z"/></g>
<path d="M398.7 461.2L422.3 461.2" stroke="#222" stroke-width="0.8"/>
<text transform="matrix(1 0 0 1.07 410.5 460.6)" font-size="9.3" text-anchor="middle">**</text>
<path d="M419.6 430.4L442.7 430.4" stroke="#222" stroke-width="0.8"/>
<text transform="matrix(1 0 0 1.07 431.15 429.8)" font-size="9.3" text-anchor="middle">**</text>
<rect x="504.7" y="387.5" width="9.2" height="3.7" fill="#dfe1e0" stroke="#111" stroke-width="0.8"/>
<text transform="matrix(1 0 0 1.07 515.1 392.49)" font-size="7.8">Control</text>
<rect x="504.7" y="396.5" width="9.2" height="3.7" fill="#efcb9a" stroke="#111" stroke-width="0.8"/>
<text transform="matrix(1 0 0 1.07 515.1 401.49)" font-size="7.8">HNEpC</text>
<rect x="554.5" y="387.5" width="9.2" height="3.7" fill="#5b7dbd" stroke="#111" stroke-width="0.8"/>
<text transform="matrix(1 0 0 1.07 565.1 392.49)" font-size="7.8">OVA-HNEpC+sh-NC</text>
<rect x="554.5" y="396.5" width="9.2" height="3.7" fill="#98dfe0" stroke="#111" stroke-width="0.8"/>
<text transform="matrix(1 0 0 1.07 565.1 401.49)" font-size="7.8">OVA-HNEpC+sh-circCDKAL1</text>
<text transform="matrix(0 -1.07 1 0 481.46 461)" font-size="8.55" text-anchor="middle">Relative expression level</text>
<path d="M498.1 518.9L672 518.9" stroke="#111" stroke-width="0.8"/>
<path d="M539.5 518.9L539.5 523.9" stroke="#111" stroke-width="0.8"/>
<path d="M629.4 518.9L629.4 523.9" stroke="#111" stroke-width="0.8"/>
<rect x="503.5" y="495.78" width="13" height="23.12" fill="#dfe1e0" stroke="#111" stroke-width="0.8"/>
<rect x="523" y="493.01" width="13" height="25.89" fill="#efcb9a" stroke="#111" stroke-width="0.8"/>
<rect x="542.5" y="433.82" width="13" height="85.08" fill="#5b7dbd" stroke="#111" stroke-width="0.8"/>
<rect x="562.1" y="488.38" width="13" height="30.52" fill="#98dfe0" stroke="#111" stroke-width="0.8"/>
<rect x="593.4" y="496.24" width="13" height="22.66" fill="#dfe1e0" stroke="#111" stroke-width="0.8"/>
<rect x="613.1" y="492.54" width="13" height="26.36" fill="#efcb9a" stroke="#111" stroke-width="0.8"/>
<rect x="632.6" y="467.11" width="13" height="51.79" fill="#5b7dbd" stroke="#111" stroke-width="0.8"/>
<rect x="652.1" y="486.99" width="13" height="31.91" fill="#98dfe0" stroke="#111" stroke-width="0.8"/>
<path d="M498.1 402.9L498.1 519.3" stroke="#111" stroke-width="0.8"/>
<path d="M493.3 518.9L498.1 518.9" stroke="#111" stroke-width="0.8"/>
<text transform="matrix(1 0 0 1.07 492.3 521.96)" font-size="8" text-anchor="end">0</text>
<path d="M493.3 495.78L498.1 495.78" stroke="#111" stroke-width="0.8"/>
<text transform="matrix(1 0 0 1.07 492.3 498.84)" font-size="8" text-anchor="end">1</text>
<path d="M493.3 472.66L498.1 472.66" stroke="#111" stroke-width="0.8"/>
<text transform="matrix(1 0 0 1.07 492.3 475.72)" font-size="8" text-anchor="end">2</text>
<path d="M493.3 449.54L498.1 449.54" stroke="#111" stroke-width="0.8"/>
<text transform="matrix(1 0 0 1.07 492.3 452.6)" font-size="8" text-anchor="end">3</text>
<path d="M493.3 426.42L498.1 426.42" stroke="#111" stroke-width="0.8"/>
<text transform="matrix(1 0 0 1.07 492.3 429.48)" font-size="8" text-anchor="end">4</text>
<path d="M493.3 403.3L498.1 403.3" stroke="#111" stroke-width="0.8"/>
<text transform="matrix(1 0 0 1.07 492.3 406.36)" font-size="8" text-anchor="end">5</text>
<path d="M510 494.39V497.17M507 494.39h6M507 497.17h6" stroke="#111" stroke-width="0.8" fill="none"/>
<g fill="#e8312b" fill-opacity="0.92"><circle cx="506" cy="494.51" r="2"/><circle cx="510" cy="495.78" r="2"/><circle cx="514" cy="497.05" r="2"/></g>
<path d="M529.5 491.16V494.86M526.5 491.16h6M526.5 494.86h6" stroke="#111" stroke-width="0.8" fill="none"/>
<g fill="#e8312b" fill-opacity="0.92"><rect x="523.5" y="489.36" width="3.6" height="3.6"/><rect x="528" y="491.44" width="3.6" height="3.6"/><rect x="531.9" y="493.29" width="3.6" height="3.6"/></g>
<path d="M549 426.88V440.75M546 426.88h6M546 440.75h6" stroke="#111" stroke-width="0.8" fill="none"/>
<g fill="#e8312b" fill-opacity="0.92"><path d="M545.3 424.12l2.2 4h-4.4z"/><path d="M551.7 427.82l2.2 4h-4.4z"/><path d="M549.2 440.07l2.2 4h-4.4z"/></g>
<path d="M568.6 486.07V491.16M565.6 486.07h6M565.6 491.16h6" stroke="#111" stroke-width="0.8" fill="none"/>
<g fill="#e8312b" fill-opacity="0.92"><path d="M565.2 489.06l2.2 -4h-4.4z"/><path d="M571.6 489.06l2.2 -4h-4.4z"/><path d="M568.6 492.3l2.2 -4h-4.4z"/></g>
<text transform="matrix(1 0 0 1.07 538.9 531.06)" font-size="8" text-anchor="middle">IL-6</text>
<path d="M599.9 494.86V497.63M596.9 494.86h6M596.9 497.63h6" stroke="#111" stroke-width="0.8" fill="none"/>
<g fill="#e8312b" fill-opacity="0.92"><circle cx="595.9" cy="494.51" r="2"/><circle cx="599.9" cy="496.01" r="2"/><circle cx="603.9" cy="497.4" r="2"/></g>
<path d="M619.6 489.77V495.32M616.6 489.77h6M616.6 495.32h6" stroke="#111" stroke-width="0.8" fill="none"/>
<g fill="#e8312b" fill-opacity="0.92"><rect x="613.5" y="489.36" width="3.6" height="3.6"/><rect x="617.8" y="487.51" width="3.6" height="3.6"/><rect x="620.3" y="492.59" width="3.6" height="3.6"/><rect x="622.1" y="493.98" width="3.6" height="3.6"/></g>
<path d="M639.1 456.94V476.82M636.1 456.94h6M636.1 476.82h6" stroke="#111" stroke-width="0.8" fill="none"/>
<g fill="#e8312b" fill-opacity="0.92"><path d="M638.6 453.71l2.2 4h-4.4z"/><path d="M636.8 472.9l2.2 4h-4.4z"/><path d="M642.3 473.6l2.2 4h-4.4z"/></g>
<path d="M658.6 480.52V493.47M655.6 480.52h6M655.6 493.47h6" stroke="#111" stroke-width="0.8" fill="none"/>
<g fill="#e8312b" fill-opacity="0.92"><path d="M656 483.98l2.2 -4h-4.4z"/><path d="M661.6 484.67l2.2 -4h-4.4z"/><path d="M658.6 498.77l2.2 -4h-4.4z"/></g>
<text transform="matrix(1 0 0 1.07 628.8 531.06)" font-size="8" text-anchor="middle">TNF-α</text>
<path d="M527.9 421.2L547.9 421.2" stroke="#222" stroke-width="0.8"/>
<text transform="matrix(1 0 0 1.07 537.9 420.6)" font-size="9.3" text-anchor="middle">**</text>
<path d="M547.9 414.2L567.8 414.2" stroke="#222" stroke-width="0.8"/>
<text transform="matrix(1 0 0 1.07 557.85 413.6)" font-size="9.3" text-anchor="middle">**</text>
<path d="M618.5 448.2L637.8 448.2" stroke="#222" stroke-width="0.8"/>
<text transform="matrix(1 0 0 1.07 628.15 447.6)" font-size="9.3" text-anchor="middle">**</text>
<path d="M638.4 443.1L657 443.1" stroke="#222" stroke-width="0.8"/>
<text transform="matrix(1 0 0 1.07 647.7 442.5)" font-size="9.3" text-anchor="middle">**</text>
<rect x="26.1" y="554.85" width="9" height="3.4" fill="#dfe1e0" stroke="#111" stroke-width="0.8"/>
<text transform="matrix(1 0 0 1.07 40.4 559.71)" font-size="7.85">Control</text>
<rect x="26.1" y="566.45" width="9" height="3.4" fill="#efcb9a" stroke="#111" stroke-width="0.8"/>
<text transform="matrix(1 0 0 1.07 40.4 571.31)" font-size="7.85">HNEpC</text>
<rect x="89.5" y="554.85" width="8.6" height="3.4" fill="#5b7dbd" stroke="#111" stroke-width="0.8"/>
<text transform="matrix(1 0 0 1.07 103 559.71)" font-size="7.85">OVA-HNEpC+sh-NC</text>
<rect x="89.5" y="566.45" width="8.6" height="3.4" fill="#98dfe0" stroke="#111" stroke-width="0.8"/>
<text transform="matrix(1 0 0 1.07 103 571.31)" font-size="7.85">OVA-HNEpC+sh-circCDKAL1</text>
<text transform="matrix(0 -1.07 1 0 16.56 636.5)" font-size="8.55" text-anchor="middle">Relative expression level</text>
<path d="M30.5 694.8L205.5 694.8" stroke="#111" stroke-width="0.8"/>
<path d="M72 694.8L72 699.8" stroke="#111" stroke-width="0.8"/>
<path d="M162 694.8L162 699.8" stroke="#111" stroke-width="0.8"/>
<rect x="36.2" y="665.32" width="13" height="29.48" fill="#dfe1e0" stroke="#111" stroke-width="0.8"/>
<rect x="55.7" y="662.14" width="13" height="32.66" fill="#efcb9a" stroke="#111" stroke-width="0.8"/>
<rect x="75.2" y="648.56" width="13" height="46.24" fill="#5b7dbd" stroke="#111" stroke-width="0.8"/>
<rect x="94.5" y="621.11" width="13" height="73.69" fill="#98dfe0" stroke="#111" stroke-width="0.8"/>
<rect x="126.5" y="665.32" width="13" height="29.48" fill="#dfe1e0" stroke="#111" stroke-width="0.8"/>
<rect x="145.9" y="660.41" width="13" height="34.39" fill="#efcb9a" stroke="#111" stroke-width="0.8"/>
<rect x="165.4" y="642.78" width="13" height="52.02" fill="#5b7dbd" stroke="#111" stroke-width="0.8"/>
<rect x="184.7" y="614.75" width="13" height="80.05" fill="#98dfe0" stroke="#111" stroke-width="0.8"/>
<path d="M30.5 578.8L30.5 695.2" stroke="#111" stroke-width="0.8"/>
<path d="M25 694.8L30.5 694.8" stroke="#111" stroke-width="0.8"/>
<text transform="matrix(1 0 0 1.07 24 697.86)" font-size="8" text-anchor="end">0</text>
<path d="M25 665.9L30.5 665.9" stroke="#111" stroke-width="0.8"/>
<text transform="matrix(1 0 0 1.07 24 668.96)" font-size="8" text-anchor="end">1</text>
<path d="M25 637L30.5 637" stroke="#111" stroke-width="0.8"/>
<text transform="matrix(1 0 0 1.07 24 640.06)" font-size="8" text-anchor="end">2</text>
<path d="M25 608.1L30.5 608.1" stroke="#111" stroke-width="0.8"/>
<text transform="matrix(1 0 0 1.07 24 611.16)" font-size="8" text-anchor="end">3</text>
<path d="M25 579.2L30.5 579.2" stroke="#111" stroke-width="0.8"/>
<text transform="matrix(1 0 0 1.07 24 582.26)" font-size="8" text-anchor="end">4</text>
<path d="M42.7 660.7V669.95M39.7 660.7h6M39.7 669.95h6" stroke="#111" stroke-width="0.8" fill="none"/>
<g fill="#e8312b" fill-opacity="0.92"><circle cx="39.2" cy="659.54" r="2"/><circle cx="47.5" cy="663.59" r="2"/><circle cx="40.1" cy="666.77" r="2"/><circle cx="46.6" cy="669.95" r="2"/></g>
<path d="M62.2 658.96V665.32M59.2 658.96h6M59.2 665.32h6" stroke="#111" stroke-width="0.8" fill="none"/>
<g fill="#e8312b" fill-opacity="0.92"><rect x="59.9" y="656.3" width="3.6" height="3.6"/><rect x="56.7" y="659.48" width="3.6" height="3.6"/><rect x="62.4" y="660.92" width="3.6" height="3.6"/><rect x="64.7" y="664.1" width="3.6" height="3.6"/></g>
<path d="M81.7 641.62V655.5M78.7 641.62h6M78.7 655.5h6" stroke="#111" stroke-width="0.8" fill="none"/>
<g fill="#e8312b" fill-opacity="0.92"><path d="M81.2 637.88l2.2 4h-4.4z"/><path d="M79 650.02l2.2 4h-4.4z"/><path d="M85.4 652.62l2.2 4h-4.4z"/></g>
<path d="M101 615.04V626.88M98 615.04h6M98 626.88h6" stroke="#111" stroke-width="0.8" fill="none"/>
<g fill="#e8312b" fill-opacity="0.92"><path d="M101 615.6l2.2 -4h-4.4z"/><path d="M98 626.29l2.2 -4h-4.4z"/><path d="M105 627.45l2.2 -4h-4.4z"/></g>
<text transform="matrix(1 0 0 1.07 71.6 708.66)" font-size="8" text-anchor="middle">Arg-1</text>
<path d="M133 660.7V669.95M130 660.7h6M130 669.95h6" stroke="#111" stroke-width="0.8" fill="none"/>
<g fill="#e8312b" fill-opacity="0.92"><circle cx="129.5" cy="659.54" r="2"/><circle cx="128.5" cy="666.77" r="2"/><circle cx="133.3" cy="667.92" r="2"/><circle cx="137.5" cy="669.08" r="2"/></g>
<path d="M152.4 658.39V662.43M149.4 658.39h6M149.4 662.43h6" stroke="#111" stroke-width="0.8" fill="none"/>
<g fill="#e8312b" fill-opacity="0.92"><rect x="146.6" y="656.3" width="3.6" height="3.6"/><rect x="149.2" y="658.61" width="3.6" height="3.6"/><rect x="152.4" y="659.48" width="3.6" height="3.6"/><rect x="155.6" y="660.05" width="3.6" height="3.6"/></g>
<path d="M171.9 637V648.56M168.9 637h6M168.9 648.56h6" stroke="#111" stroke-width="0.8" fill="none"/>
<g fill="#e8312b" fill-opacity="0.92"><path d="M172.4 634.12l2.2 4h-4.4z"/><path d="M169.9 641.92l2.2 4h-4.4z"/><path d="M173.9 646.84l2.2 4h-4.4z"/></g>
<path d="M191.2 609.54V620.24M188.2 609.54h6M188.2 620.24h6" stroke="#111" stroke-width="0.8" fill="none"/>
<g fill="#e8312b" fill-opacity="0.92"><path d="M191.7 611.27l2.2 -4h-4.4z"/><path d="M187.8 618.78l2.2 -4h-4.4z"/><path d="M191.7 625.14l2.2 -4h-4.4z"/></g>
<text transform="matrix(1 0 0 1.07 161.5 708.66)" font-size="8" text-anchor="middle">IL-10</text>
<path d="M61.7 633.4L81.2 633.4" stroke="#222" stroke-width="0.8"/>
<text transform="matrix(1 0 0 1.07 71.45 632.8)" font-size="9.3" text-anchor="middle">**</text>
<path d="M81.2 607.1L101.2 607.1" stroke="#222" stroke-width="0.8"/>
<text transform="matrix(1 0 0 1.07 91.2 606.5)" font-size="9.3" text-anchor="middle">**</text>
<path d="M150.9 633.4L170.8 633.4" stroke="#222" stroke-width="0.8"/>
<text transform="matrix(1 0 0 1.07 160.85 632.8)" font-size="9.3" text-anchor="middle">**</text>
<path d="M169.2 604.2L189.5 604.2" stroke="#222" stroke-width="0.8"/>
<text transform="matrix(1 0 0 1.07 179.35 603.6)" font-size="9.3" text-anchor="middle">**</text>
<ellipse cx="280" cy="590.3" rx="6.8" ry="3.3" transform="rotate(-24.06 280 590.3)" fill="#ea1c1c" fill-opacity="0.95" filter="url(#blc)"/>
<path d="m258.2 601h.6m-.5-4.7h.6m-.5-4.8h.6m-.6 9.7h.6m-.3 3.3h.6m-.4-15.1h.6m-.6 6.1h.6m-.6 1.4h.6m-.5-6.5h.6m-.4 8.5h.6m-.5-3h.6m-.4 5.5h.6m-.6 1.7h.6m-.6 2.5h.6m-.3-8h.6m-.5-3h.6m-.4 7.9h.6m-.5-6h.6m-.6 3.3h.6m-.5-7.2h.6m-.6 6.7h.6m-.4-9.4h.6m-.5 .5h.6m-.5 2.5h.6m-.4-3.8h.6m-.5 .7h.6m-.6 5.7h.6m-.5 1h.6m-.5-2.3h.6m-.6 .9h.6m-.5-.6h.6m-.6 7.3h.6m-.5-10.4h.6m-.5-7.8h.6m-.5 5.2h.6m-.6 8.8h.6m-.4-9.3h.6m-.6 9.9h.6m-.5 3.5h.6m-.5-10.4h.6m-.6 10.8h.6m-.5-4.5h.6m-.6 8.4h.6m-.4-13.8h.6m-.5-.4h.6m-.6 5.9h.6m-.5-2h.6m-.5 0h.6m-.6 1.9h.6m-.5-8.9h.6m-.6 2h.6m-.5-.7h.6m-.6 5.5h.6m-.5 .5h.6m-.6 .1h.6m-.6 2.6h.6m-.5-.9h.6m-.6 1.3h.6m-.5-4.9h.6m-.5-.3h.6m-.6 1.7h.6m-.6 8.5h.6m-.5-13.9h.6m-.6 .8h.6m-.6 3.7h.6m-.5-.9h.6m-.6 .5h.6m-.6 .4h.6m-.6 2.9h.6m-.5 4.5h.6m-.5-10.3h.6m-.6 3h.6m-.6 .9h.6m-.5 2.7h.6m-.6 .2h.6m-.6 2.7h.6m-.5-11.8h.6m-.5 9.4h.6m-.5-5.4h.6m-.6 3.4h.6m-.6 .8h.6m-.5-6.7h.6m-.6 .2h.6m-.6 5.2h.6m-.6 1.7h.6m-.5-5.3h.6m-.6 5.7h.6m-.6 1.9h.6m-.5-10.1h.6m-.6 6.1h.6m-.6 2.6h.6m-.6 1.8h.6m-.5-11.9h.6m-.6 6.3h.6m-.6 1.9h.6m-.5-4.7h.6m-.6 .3h.6m-.6 2.6h.6m-.6 2.3h.6m-.6 .5h.6m-.6 .1h.6m-.6 4.1h.6m-.5-8.1h.6m-.6 4h.6m-.5-4.5h.6m-.6 11h.6m-.5-18.1h.6m-.6 2.6h.6m-.6 1.6h.6m-.6 .2h.6m-.6 1.5h.6m-.6 1.5h.6m-.6 .7h.6m-.6 1.1h.6m-.6 1.8h.6m-.6 1.2h.6m-.5-11.7h.6m-.6 10.6h.6m-.6 1.1h.6m-.5-9.2h.6m-.6 8.9h.6m-.5-8.4h.6m-.6 1.2h.6m-.6 2.7h.6m-.6 3.3h.6m-.6 2.7h.6m-.5-6.5h.6m-.6 .3h.6m-.6 6.5h.6m-.6 .9h.6m-.5-6.6h.6m-.6 4.5h.6m-.6 2h.6m-.6 .7h.6m-.5-10.8h.6m-.6 4.5h.6m-.6 2.2h.6m-.5-4.4h.6m-.6 .4h.6m-.6 6h.6m-.6 .4h.6m-.5-12.2h.6m-.6 4.3h.6m-.6 2.2h.6m-.5-.5h.6m-.6 2.9h.6m-.4-3.9h.6m-.6 1.6h.6m-.6 2.5h.6m-.6 3.5h.6m-.5-4.2h.6m-.5 4.7h.6m-.6 .3h.6m-.5-9.9h.6m-.6 4.5h.6m-.6 1.8h.6m-.5-10.4h.6m-.6 5.3h.6m-.6 3.9h.6m-.6 .5h.6m-.6 1h.6m-.6 .2h.6m-.6 1.1h.6m-.6 0h.6m-.5-9.2h.6m-.6 4.8h.6m-.6 1.6h.6m-.6 1.7h.6m-.4-11.9h.6m-.6 3.5h.6m-.6 3.7h.6m-.6 .3h.6m-.6 3.4h.6m-.5-1h.6m-.6 0h.6m-.5-2.6h.6m-.5 3.1h.6m-.6 .3h.6m-.6 3h.6m-.5-7.4h.6m-.6 5.6h.6m-.5-7.9h.6m-.6 .4h.6m-.6 0h.6m-.6 1.7h.6m-.5 0h.6m-.6 3h.6m-.6 .7h.6m-.6 3.6h.6m-.6 .7h.6m-.5-10h.6m-.6 3.4h.6m-.6 2.5h.6m-.6 1.1h.6m-.6 4.4h.6m-.5-10.9h.6m-.6 6.5h.6m-.6 3.7h.6m-.5-10.9h.6m-.6 .1h.6m-.6 1.8h.6m-.6 .3h.6m-.6 2.3h.6m-.6 .3h.6m-.6 3.3h.6m-.5-4.3h.6m-.6 1.6h.6m-.6 .5h.6m-.6 .6h.6m-.5-2.3h.6m-.6 1.8h.6m-.6 .7h.6m-.6 7.3h.6m-.5-16.3h.6m-.6 3.9h.6m-.6 3.7h.6m-.6 4.6h.6m-.5-11.5h.6m-.6 1.9h.6m-.6 3.8h.6m-.6 .8h.6m-.6 .6h.6m-.6 5.3h.6m-.5-11.4h.6m-.6 .8h.6m-.6 2h.6m-.6 5.4h.6m-.5-6.1h.6m-.6 5.2h.6m-.5-11h.6m-.6 2h.6m-.6 4.2h.6m-.6 .5h.6m-.6 3.6h.6m-.5-4.9h.6m-.6 1.5h.6m-.6 3.2h.6m-.6 2.9h.6m-.6 1.7h.6m-.5-10.6h.6m-.6 2.2h.6m-.6 2.2h.6m-.6 .1h.6m-.5-6.4h.6m-.6 2.6h.6m-.6 4.8h.6m-.6 7.8h.6m-.5-11.4h.6m-.6 1.1h.6m-.6 2.3h.6m-.6 .6h.6m-.6 .2h.6m-.6 2.7h.6m-.5-6.1h.6m-.6 .1h.6m-.5-4.9h.6m-.6 4.4h.6m-.6 .6h.6m-.6 .4h.6m-.6 .6h.6m-.6 4.1h.6m-.5-6.5h.6m-.6 2.2h.6m-.6 1.2h.6m-.6 .9h.6m-.6 .8h.6m-.5-5h.6m-.6 8.1h.6m-.5-17.9h.6m-.6 12.4h.6m-.6 .2h.6m-.5-4.7h.6m-.6 2.8h.6m-.6 0h.6m-.6 1.2h.6m-.6 1.2h.6m-.6 .9h.6m-.6 0h.6m-.6 .3h.6m-.6 4.3h.6m-.6 1.1h.6m-.5-3.7h.6m-.6 2.2h.6m-.5-7.3h.6m-.6 .6h.6m-.6 .3h.6m-.6 2.3h.6m-.6 .5h.6m-.6 .3h.6m-.6 4.3h.6m-.6 .2h.6m-.5-13.4h.6m-.6 6.9h.6m-.6 6.3h.6m-.5-4.4h.6m-.6 1.8h.6m-.6 1.7h.6m-.5-5.7h.6m-.6 .1h.6m-.6 3.1h.6m-.6 5.5h.6m-.5-8.1h.6m-.6 1.7h.6m-.5-5.8h.6m-.6 2.1h.6m-.6 1.3h.6m-.6 1.1h.6m-.6 .3h.6m-.6 .7h.6m-.6 .8h.6m-.6 .6h.6m-.5-4.9h.6m-.6 .4h.6m-.6 7.1h.6m-.4-9.1h.6m-.6 3.1h.6m-.6 .6h.6m-.5-2.9h.6m-.6 .6h.6m-.6 .4h.6m-.6 1.8h.6m-.6 .2h.6m-.6 1.1h.6m-.6 2.4h.6m-.6 3.1h.6m-.5-10.6h.6m-.6 1.8h.6m-.6 .6h.6m-.6 .6h.6m-.6 2.2h.6m-.6 1.4h.6m-.5-7.8h.6m-.6 1.5h.6m-.6 2.4h.6m-.6 1.5h.6m-.6 .4h.6m-.6 2.3h.6m-.6 .1h.6m-.6 .3h.6m-.6 8.5h.6m-.5-14.4h.6m-.6 .7h.6m-.5-7.1h.6m-.6 1.4h.6m-.6 1.1h.6m-.6 7.5h.6m-.6 1.1h.6m-.6 .1h.6m-.6 .3h.6m-.5-9.2h.6m-.6 3.4h.6m-.6 10h.6m-.5-11h.6m-.5-6.3h.6m-.6 3.8h.6m-.6 1.3h.6m-.6 .7h.6m-.6 .6h.6m-.6 .9h.6m-.6 .1h.6m-.6 3.8h.6m-.6 .3h.6m-.6 5.2h.6m-.5-9.9h.6m-.6 .3h.6m-.6 1.3h.6m-.6 2.1h.6m-.6 1.2h.6m-.6 .2h.6m-.6 1.8h.6m-.5-5.1h.6m-.6 .4h.6m-.6 3.8h.6m-.6 0h.6m-.6 3.9h.6m-.5-12.7h.6m-.6 2.9h.6m-.6 .5h.6m-.6 1.8h.6m-.6 2.8h.6m-.5-14.4h.6m-.6 6h.6m-.6 3h.6m-.6 1.7h.6m-.6 .1h.6m-.6 .8h.6m-.6 1.1h.6m-.6 3.7h.6m-.6 2.8h.6m-.5-13.2h.6m-.6 1.6h.6m-.6 .4h.6m-.6 2.5h.6m-.6 4h.6m-.6 1.5h.6m-.5-7h.6m-.6 1.9h.6m-.6 1.3h.6m-.6 4.3h.6m-.5-7.6h.6m-.6 .8h.6m-.6 .7h.6m-.6 .9h.6m-.6 .3h.6m-.5-7.6h.6m-.6 2.6h.6m-.6 2.4h.6m-.6 .4h.6m-.6 .1h.6m-.6 .7h.6m-.6 .6h.6m-.6 .4h.6m-.6 .5h.6m-.6 1.8h.6m-.6 2h.6m-.6 3.9h.6m-.6 1h.6m-.5-11.8h.6m-.6 1.4h.6m-.6 1.8h.6m-.6 .7h.6m-.5-3.6h.6m-.6 2.6h.6m-.6 .6h.6m-.6 1.7h.6m-.6 .3h.6m-.6 .9h.6m-.5-6.8h.6m-.6 1.3h.6m-.6 .3h.6m-.6 .6h.6m-.6 1.1h.6m-.6 .2h.6m-.6 .2h.6m-.6 0h.6m-.6 1.7h.6m-.6 .1h.6m-.6 5.5h.6m-.5-10.4h.6m-.6 1h.6m-.6 .5h.6m-.6 1.7h.6m-.6 3.7h.6m-.6 2.3h.6m-.6 .5h.6m-.5-13.5h.6m-.6 3.2h.6m-.6 4.9h.6m-.6 3.9h.6m-.5-8.2h.6m-.6 .3h.6m-.6 1h.6m-.5-1.5h.6m-.6 .5h.6m-.6 1.4h.6m-.6 1.5h.6m-.6 2.4h.6m-.5-4.9h.6m-.6 .6h.6m-.6 0h.6m-.6 4.8h.6m-.5-9.8h.6m-.6 2.5h.6m-.6 1.5h.6m-.6 .7h.6m-.6 2.3h.6m-.6 2h.6m-.5-9.3h.6m-.6 3.4h.6m-.6 .1h.6m-.6 3.9h.6m-.6 4.5h.6m-.6 4h.6m-.5-19h.6m-.6 2.4h.6m-.6 4.2h.6m-.6 .4h.6m-.6 .1h.6m-.6 .1h.6m-.6 2h.6m-.6 1.3h.6m-.6 .3h.6m-.6 4h.6m-.5-9.6h.6m-.6 3.1h.6m-.6 1.1h.6m-.6 5.4h.6m-.6 1.9h.6m-.5-9.9h.6m-.6 1.3h.6m-.6 2h.6m-.6 .7h.6m-.6 3.9h.6m-.6 1h.6m-.6 .8h.6m-.5-14.8h.6m-.6 1.6h.6m-.6 4h.6m-.6 .9h.6m-.6 2.1h.6m-.5-4.1h.6m-.6 .4h.6m-.6 2.5h.6m-.6 .1h.6m-.6 0h.6m-.6 .6h.6m-.6 .4h.6m-.6 2h.6m-.5-8h.6m-.6 1.9h.6m-.6 .7h.6m-.6 2.8h.6m-.6 .8h.6m-.6 1.1h.6m-.5-5.6h.6m-.6 .1h.6m-.6 0h.6m-.6 1.1h.6m-.6 3.2h.6m-.6 2.4h.6m-.6 7.2h.6m-.5-14.6h.6m-.6 1.7h.6m-.6 .4h.6m-.6 2.4h.6m-.6 1.3h.6m-.6 2.2h.6m-.6 .4h.6m-.6 .5h.6m-.5-8.2h.6m-.6 1.3h.6m-.6 1.2h.6m-.6 1.2h.6m-.6 2.2h.6m-.6 .7h.6m-.6 .9h.6m-.6 .3h.6m-.5-9.1h.6m-.6 5.2h.6m-.6 2.5h.6m-.6 1.3h.6m-.5-9.3h.6m-.6 .9h.6m-.6 .7h.6m-.6 2.1h.6m-.6 0h.6m-.6 2.2h.6m-.6 .5h.6m-.6 3.5h.6m-.5-10.5h.6m-.6 4.7h.6m-.6 3.6h.6m-.6 1.5h.6m-.5-8.6h.6m-.6 5.4h.6m-.6 1.3h.6m-.6 .2h.6m-.5-9.8h.6m-.6 5.1h.6m-.6 .8h.6m-.6 .3h.6m-.6 .7h.6m-.6 1.2h.6m-.6 .4h.6m-.5-4.9h.6m-.6 1.5h.6m-.6 2h.6m-.6 1.7h.6m-.6 .6h.6m-.6 2.8h.6m-.5-9.8h.6m-.6 3.8h.6m-.6 1.2h.6m-.6 .8h.6m-.6 .4h.6m-.6 1h.6m-.6 .2h.6m-.6 .4h.6m-.5-6.5h.6m-.6 .2h.6m-.6 .4h.6m-.6 2.4h.6m-.6 4.7h.6m-.6 .7h.6m-.6 3.1h.6m-.5-11.9h.6m-.6 .5h.6m-.6 1.2h.6m-.6 .8h.6m-.6 .2h.6m-.6 .7h.6m-.6 0h.6m-.6 .5h.6m-.6 .4h.6m-.6 .5h.6m-.6 .9h.6m-.6 1.5h.6m-.5-5.6h.6m-.6 .3h.6m-.6 1h.6m-.6 4h.6m-.5-8.4h.6m-.6 5.8h.6m-.6 1.2h.6m-.6 .8h.6m-.6 4.5h.6m-.5-13.8h.6m-.6 3.9h.6m-.6 .4h.6m-.6 .7h.6m-.6 .2h.6m-.6 .3h.6m-.6 0h.6m-.6 .4h.6m-.6 .2h.6m-.6 8h.6m-.5-11.8h.6m-.6 .9h.6m-.6 1.7h.6m-.6 1.4h.6m-.6 .4h.6m-.6 1.1h.6m-.6 1.3h.6m-.6 1.7h.6m-.6 6.3h.6m-.5-15.7h.6m-.6 4h.6m-.6 .3h.6m-.6 .6h.6m-.6 .1h.6m-.5-3.9h.6m-.6 1.3h.6m-.6 0h.6m-.6 .3h.6m-.6 .2h.6m-.6 1.5h.6m-.6 1.8h.6m-.6 1.8h.6m-.5-5.9h.6m-.6 .3h.6m-.6 .4h.6m-.6 .5h.6m-.6 .8h.6m-.6 .6h.6m-.6 .7h.6m-.6 1h.6m-.6 .2h.6m-.6 .3h.6m-.6 .8h.6m-.6 .9h.6m-.6 .8h.6m-.5-8.9h.6m-.6 1.4h.6m-.6 2.4h.6m-.6 .4h.6m-.6 .5h.6m-.5-8.5h.6m-.6 2.6h.6m-.6 2.3h.6m-.6 1.1h.6m-.6 .6h.6m-.6 .5h.6m-.6 .4h.6m-.6 .8h.6m-.6 2.8h.6m-.6 .5h.6m-.6 4.2h.6m-.5-12.2h.6m-.6 1h.6m-.6 .5h.6m-.6 .8h.6m-.6 0h.6m-.6 .2h.6m-.6 .6h.6m-.6 1.1h.6m-.6 .2h.6m-.6 .5h.6m-.6 1h.6m-.6 1.9h.6m-.5-6.6h.6m-.6 2.2h.6m-.6 .1h.6m-.6 1.5h.6m-.6 .7h.6m-.6 .9h.6m-.6 .8h.6m-.6 .9h.6m-.5-13.9h.6m-.6 6.9h.6m-.6 1.5h.6m-.6 .1h.6m-.6 2.3h.6m-.6 .3h.6m-.6 .1h.6m-.6 0h.6m-.6 2h.6m-.6 2.2h.6m-.5-7.8h.6m-.6 .1h.6m-.6 .6h.6m-.6 1h.6m-.6 .2h.6m-.6 1.3h.6m-.6 .1h.6m-.6 .5h.6m-.6 .3h.6m-.6 .5h.6m-.6 10.8h.6m-.5-20.5h.6m-.6 3.4h.6m-.6 .4h.6m-.6 1.8h.6m-.6 1.9h.6m-.6 1.4h.6m-.6 1h.6m-.6 .2h.6m-.5-7.6h.6m-.6 .9h.6m-.6 .2h.6m-.6 2.2h.6m-.6 0h.6m-.6 .5h.6m-.6 .6h.6m-.6 .4h.6m-.6 .3h.6m-.6 .7h.6m-.6 .1h.6m-.6 .6h.6m-.6 .3h.6m-.6 1.6h.6m-.5-6.5h.6m-.6 .3h.6m-.6 0h.6m-.6 .3h.6m-.6 .3h.6m-.6 .9h.6m-.6 .9h.6m-.6 0h.6m-.6 .2h.6m-.6 .8h.6m-.6 .7h.6m-.6 .3h.6m-.6 1.9h.6m-.6 .3h.6m-.6 .2h.6m-.6 .5h.6m-.6 5.5h.6m-.5-17.6h.6m-.6 2.8h.6m-.6 .2h.6m-.6 0h.6m-.6 .1h.6m-.6 2h.6m-.6 1.3h.6m-.6 .4h.6m-.6 .5h.6m-.6 1.2h.6m-.6 1h.6m-.6 .1h.6m-.6 5.4h.6m-.6 1.7h.6m-.5-13.9h.6m-.6 1.8h.6m-.6 1.4h.6m-.6 1h.6m-.6 .4h.6m-.6 1.1h.6m-.6 .1h.6m-.6 1.5h.6m-.5-7.2h.6m-.6 .6h.6m-.6 .4h.6m-.6 .3h.6m-.6 1.2h.6m-.6 .8h.6m-.6 .1h.6m-.6 1.1h.6m-.6 .7h.6m-.6 0h.6m-.6 4.4h.6m-.5-10.8h.6m-.6 1.4h.6m-.6 2.3h.6m-.6 1.1h.6m-.6 1h.6m-.6 .2h.6m-.6 .6h.6m-.6 .2h.6m-.6 .6h.6m-.6 1.6h.6m-.6 .3h.6m-.5-8.2h.6m-.6 1.1h.6m-.6 .2h.6m-.6 .1h.6m-.6 .2h.6m-.6 .2h.6m-.6 .2h.6m-.6 .1h.6m-.6 .1h.6m-.6 .1h.6m-.6 1h.6m-.6 .1h.6m-.6 .3h.6m-.6 1.2h.6m-.6 .2h.6m-.6 .8h.6m-.6 .4h.6m-.6 .7h.6m-.6 2.6h.6m-.6 1.2h.6m-.5-10.2h.6m-.6 .1h.6m-.6 .5h.6m-.6 .3h.6m-.6 .1h.6m-.6 .7h.6m-.6 .9h.6m-.6 .5h.6m-.6 .2h.6m-.6 .3h.6m-.6 .2h.6m-.6 .8h.6m-.6 .7h.6m-.6 .3h.6m-.6 1.1h.6m-.6 .1h.6m-.6 .1h.6m-.6 5.8h.6m-.5-17h.6m-.6 .7h.6m-.6 2.5h.6m-.6 1.8h.6m-.6 .4h.6m-.6 1h.6m-.6 .5h.6m-.6 .4h.6m-.6 .1h.6m-.6 0h.6m-.6 2h.6m-.6 .8h.6m-.6 1h.6m-.5-10h.6m-.6 3.2h.6m-.6 .2h.6m-.6 2.1h.6m-.6 2.8h.6m-.6 .4h.6m-.6 0h.6m-.5-6h.6m-.6 1.1h.6m-.6 1.6h.6m-.6 0h.6m-.6 .2h.6m-.6 .2h.6m-.6 .3h.6m-.6 .3h.6m-.6 .6h.6m-.6 .7h.6m-.6 3.2h.6m-.6 1.7h.6m-.5-13.6h.6m-.6 4.7h.6m-.6 .8h.6m-.6 1.9h.6m-.6 .3h.6m-.6 .1h.6m-.6 1.4h.6m-.6 2.2h.6m-.5-8.2h.6m-.6 .3h.6m-.6 .9h.6m-.6 .5h.6m-.6 .8h.6m-.6 .1h.6m-.6 .1h.6m-.6 .8h.6m-.6 .1h.6m-.6 .3h.6m-.6 .2h.6m-.6 0h.6m-.6 .9h.6m-.6 0h.6m-.6 1.5h.6m-.6 .8h.6m-.6 1.3h.6m-.5-10.6h.6m-.6 2.8h.6m-.6 .5h.6m-.6 1.6h.6m-.6 1.2h.6m-.6 1.6h.6m-.6 .2h.6m-.6 0h.6m-.6 .3h.6m-.6 4.3h.6m-.5-14.6h.6m-.6 4.6h.6m-.6 2.2h.6m-.6 .2h.6m-.6 0h.6m-.6 .7h.6m-.6 .5h.6m-.6 1h.6m-.6 .9h.6m-.6 1.2h.6m-.6 4.2h.6m-.5-13.9h.6m-.6 3h.6m-.6 .7h.6m-.6 0h.6m-.6 .2h.6m-.6 .4h.6m-.6 1h.6m-.6 0h.6m-.6 .6h.6m-.6 .4h.6m-.6 .2h.6m-.6 0h.6m-.6 .5h.6m-.6 .3h.6m-.6 .7h.6m-.6 .5h.6m-.5-4.1h.6m-.6 .4h.6m-.6 .9h.6m-.6 .8h.6m-.6 .8h.6m-.6 1.3h.6m-.6 .9h.6m-.6 .2h.6m-.6 2.3h.6m-.6 3.1h.6m-.5-13.5h.6m-.6 0h.6m-.6 4.6h.6m-.6 0h.6m-.6 .2h.6m-.6 .8h.6m-.6 1.8h.6m-.6 4.7h.6m-.5-8.4h.6m-.6 .2h.6m-.6 .2h.6m-.6 .8h.6m-.6 .3h.6m-.6 .7h.6m-.6 .6h.6m-.6 .1h.6m-.6 2h.6m-.6 .7h.6m-.6 2.7h.6m-.5-10.3h.6m-.6 .5h.6m-.6 .1h.6m-.6 .8h.6m-.6 0h.6m-.6 .1h.6m-.6 1.1h.6m-.6 .4h.6m-.6 .9h.6m-.6 0h.6m-.6 1.3h.6m-.6 .3h.6m-.6 .1h.6m-.6 .2h.6m-.6 .2h.6m-.6 .6h.6m-.6 1.8h.6m-.5-10.1h.6m-.6 .1h.6m-.6 1.3h.6m-.6 2h.6m-.6 .5h.6m-.6 .8h.6m-.6 .7h.6m-.6 .8h.6m-.6 0h.6m-.6 0h.6m-.6 1h.6m-.6 .4h.6m-.6 0h.6m-.6 2h.6m-.6 1.5h.6m-.5-8.4h.6m-.6 .6h.6m-.6 .8h.6m-.6 .1h.6m-.6 .1h.6m-.6 .3h.6m-.6 .2h.6m-.6 .1h.6m-.6 .2h.6m-.6 .1h.6m-.6 .3h.6m-.6 .3h.6m-.6 1h.6m-.6 0h.6m-.6 .1h.6m-.6 2.7h.6m-.6 .2h.6m-.5-11.5h.6m-.6 3.2h.6m-.6 1.7h.6m-.6 .2h.6m-.6 .4h.6m-.6 .8h.6m-.6 1.2h.6m-.6 .2h.6m-.6 .5h.6m-.6 1.8h.6m-.6 1.2h.6m-.5-10.6h.6m-.6 1.8h.6m-.6 1.9h.6m-.6 1.8h.6m-.6 .5h.6m-.6 .5h.6m-.6 .2h.6m-.6 .3h.6m-.6 1.4h.6m-.6 1.7h.6m-.5-7.1h.6m-.6 1.3h.6m-.6 .7h.6m-.6 .6h.6m-.6 .9h.6m-.6 .4h.6m-.6 1.8h.6m-.6 1.6h.6m-.6 .8h.6m-.5-8h.6m-.6 .6h.6m-.6 .8h.6m-.6 .1h.6m-.6 .4h.6m-.6 .1h.6m-.6 0h.6m-.6 .3h.6m-.6 .1h.6m-.6 .1h.6m-.6 1.4h.6m-.6 .7h.6m-.6 .6h.6m-.6 1.5h.6m-.6 2.8h.6m-.5-9.3h.6m-.6 .5h.6m-.6 .4h.6m-.6 1.5h.6m-.6 1.4h.6m-.6 .1h.6m-.6 .1h.6m-.6 .3h.6m-.6 1.2h.6m-.6 .6h.6m-.5-9.7h.6m-.6 2.3h.6m-.6 1.5h.6m-.6 0h.6m-.6 1.2h.6m-.6 .2h.6m-.6 2.4h.6m-.6 .5h.6m-.6 0h.6m-.6 4.4h.6m-.5-10.1h.6m-.6 1h.6m-.6 .5h.6m-.6 .3h.6m-.6 .8h.6m-.6 0h.6m-.6 .6h.6m-.6 .5h.6m-.6 0h.6m-.6 .8h.6m-.6 .1h.6m-.6 .4h.6m-.6 0h.6m-.6 .9h.6m-.6 .3h.6m-.6 .3h.6m-.6 1.5h.6m-.6 3.2h.6m-.5-10.1h.6m-.6 .3h.6m-.6 .3h.6m-.6 1.8h.6m-.6 1h.6m-.6 .3h.6m-.6 .6h.6m-.6 .7h.6m-.6 1.1h.6m-.6 2.8h.6m-.5-9.9h.6m-.6 1h.6m-.6 .3h.6m-.6 1.2h.6m-.6 .7h.6m-.6 2h.6m-.6 .2h.6m-.6 .5h.6m-.6 .4h.6m-.6 .3h.6m-.5-5.1h.6m-.6 1.1h.6m-.6 .8h.6m-.5-7.1h.6m-.6 3.4h.6m-.6 .8h.6m-.6 .4h.6m-.6 1.7h.6m-.6 .1h.6m-.6 .7h.6m-.6 2.2h.6m-.6 .2h.6m-.6 .6h.6m-.6 1.1h.6m-.5-9.9h.6m-.6 2.7h.6m-.6 .7h.6m-.6 .3h.6m-.6 0h.6m-.6 1.5h.6m-.6 1.1h.6m-.6 .1h.6m-.6 .3h.6m-.6 0h.6m-.6 .7h.6m-.6 0h.6m-.6 .6h.6m-.6 .6h.6m-.6 .4h.6m-.6 .3h.6m-.5-13h.6m-.6 3.9h.6m-.6 .7h.6m-.6 .8h.6m-.6 .7h.6m-.6 .1h.6m-.6 .1h.6m-.6 .3h.6m-.6 .3h.6m-.6 1.1h.6m-.6 1.3h.6m-.6 .9h.6m-.6 .3h.6m-.6 .6h.6m-.6 .1h.6m-.6 .3h.6m-.6 .1h.6m-.6 1.5h.6m-.6 6.8h.6m-.6 .7h.6m-.5-13.9h.6m-.6 .3h.6m-.6 .1h.6m-.6 .2h.6m-.6 .5h.6m-.6 2.7h.6m-.6 .4h.6m-.6 1.5h.6m-.6 .2h.6m-.6 0h.6m-.6 .1h.6m-.6 2.9h.6m-.5-12.4h.6m-.6 6.1h.6m-.6 .6h.6m-.6 .6h.6m-.6 .1h.6m-.6 .7h.6m-.6 .6h.6m-.6 0h.6m-.6 1.4h.6m-.6 .1h.6m-.5-7.6h.6m-.6 .1h.6m-.6 .5h.6m-.6 .6h.6m-.6 1.3h.6m-.6 .2h.6m-.6 .4h.6m-.6 .2h.6m-.6 .1h.6m-.6 .3h.6m-.6 .5h.6m-.6 .6h.6m-.6 .6h.6m-.6 .3h.6m-.5-8.4h.6m-.6 1.6h.6m-.6 .8h.6m-.6 1.2h.6m-.6 3.8h.6m-.5-5.2h.6m-.6 1.1h.6m-.6 1.1h.6m-.6 .7h.6m-.6 .7h.6m-.6 .1h.6m-.6 .5h.6m-.6 .4h.6m-.6 1.2h.6m-.6 .1h.6m-.6 .7h.6m-.6 2.8h.6m-.6 2.4h.6m-.6 2.4h.6m-.5-14.6h.6m-.6 .9h.6m-.6 2.2h.6m-.6 .8h.6m-.6 0h.6m-.6 .4h.6m-.6 .1h.6m-.6 .4h.6m-.6 .4h.6m-.6 2.7h.6m-.6 .7h.6m-.6 .2h.6m-.6 .2h.6m-.5-9.4h.6m-.6 1.4h.6m-.6 2.1h.6m-.6 .6h.6m-.6 .5h.6m-.6 .1h.6m-.6 .2h.6m-.6 .1h.6m-.6 0h.6m-.6 .4h.6m-.6 1.7h.6m-.6 1h.6m-.6 1.7h.6m-.6 3.5h.6m-.5-13.2h.6m-.6 .8h.6m-.6 1.1h.6m-.6 .5h.6m-.6 1.9h.6m-.6 .2h.6m-.6 .6h.6m-.6 .7h.6m-.6 .1h.6m-.5-4.5h.6m-.6 2h.6m-.6 .2h.6m-.6 .6h.6m-.6 1h.6m-.6 .7h.6m-.6 .3h.6m-.6 .9h.6m-.6 .3h.6m-.6 .3h.6m-.6 .1h.6m-.6 .1h.6m-.6 .5h.6m-.6 .6h.6m-.6 1.5h.6m-.5-11.1h.6m-.6 1.3h.6m-.6 .4h.6m-.6 .7h.6m-.6 1.5h.6m-.6 .5h.6m-.6 .1h.6m-.6 0h.6m-.6 .2h.6m-.6 .7h.6m-.6 2.4h.6m-.6 .2h.6m-.5-10.2h.6m-.6 2.4h.6m-.6 .1h.6m-.6 .2h.6m-.6 3.5h.6m-.6 .3h.6m-.6 .5h.6m-.6 1.5h.6m-.6 .5h.6m-.6 .4h.6m-.6 .5h.6m-.6 0h.6m-.6 .2h.6m-.6 .2h.6m-.6 .2h.6m-.6 1h.6m-.6 .9h.6m-.6 1h.6m-.6 1.4h.6m-.5-11.2h.6m-.6 2.6h.6m-.6 .2h.6m-.6 .1h.6m-.6 0h.6m-.6 .4h.6m-.6 5.1h.6m-.5-9.4h.6m-.6 1.1h.6m-.6 .4h.6m-.6 .2h.6m-.6 .6h.6m-.6 1h.6m-.6 .2h.6m-.6 .7h.6m-.6 .1h.6m-.6 .3h.6m-.6 .4h.6m-.6 2.2h.6m-.6 1.2h.6m-.6 0h.6m-.6 .5h.6m-.5-7.1h.6m-.6 1h.6m-.6 1.7h.6m-.6 0h.6m-.6 .3h.6m-.6 1h.6m-.6 .9h.6m-.6 .2h.6m-.6 .1h.6m-.6 4.5h.6m-.5-9.8h.6m-.6 .7h.6m-.6 .3h.6m-.6 .5h.6m-.6 .9h.6m-.6 1.5h.6m-.6 .3h.6m-.6 1.3h.6m-.6 2.2h.6m-.6 1.6h.6m-.5-11.8h.6m-.6 .5h.6m-.6 1.4h.6m-.6 .3h.6m-.6 .6h.6m-.6 2.5h.6m-.6 .5h.6m-.6 .6h.6m-.5-1.6h.6m-.6 .1h.6m-.6 1.7h.6m-.5-4.7h.6m-.6 .8h.6m-.6 1.5h.6m-.6 0h.6m-.6 1.8h.6m-.6 .4h.6m-.6 .3h.6m-.6 .9h.6m-.6 .3h.6m-.6 .6h.6m-.6 1.1h.6m-.6 1.5h.6m-.5-12.8h.6m-.6 2.3h.6m-.6 1.5h.6m-.6 .2h.6m-.6 .1h.6m-.6 .2h.6m-.6 .3h.6m-.6 .2h.6m-.6 .3h.6m-.6 .2h.6m-.6 .3h.6m-.6 .2h.6m-.6 2.1h.6m-.6 1.4h.6m-.6 5h.6m-.5-12.6h.6m-.6 2.8h.6m-.6 2.1h.6m-.6 0h.6m-.6 .3h.6m-.6 .5h.6m-.6 .3h.6m-.6 1.8h.6m-.6 1.1h.6m-.6 .5h.6m-.6 1.4h.6m-.5-7.3h.6m-.6 .5h.6m-.6 1h.6m-.6 .9h.6m-.6 .7h.6m-.6 .4h.6m-.6 1.7h.6m-.6 6.2h.6m-.5-13.4h.6m-.6 .5h.6m-.6 2.1h.6m-.6 2.4h.6m-.6 .4h.6m-.6 .8h.6m-.6 1.2h.6m-.6 2h.6m-.6 .2h.6m-.5-11.5h.6m-.6 2.8h.6m-.6 .1h.6m-.6 .5h.6m-.6 .4h.6m-.6 .3h.6m-.6 .6h.6m-.6 .1h.6m-.6 0h.6m-.6 .5h.6m-.6 .2h.6m-.6 1.4h.6m-.6 0h.6m-.6 .1h.6m-.6 .5h.6m-.6 .1h.6m-.6 .8h.6m-.6 .4h.6m-.6 .2h.6m-.6 1.7h.6m-.5-7h.6m-.6 .2h.6m-.6 1.2h.6m-.6 .2h.6m-.6 .1h.6m-.6 .4h.6m-.6 .3h.6m-.6 1.4h.6m-.6 0h.6m-.6 1.9h.6m-.6 .1h.6m-.5-11.3h.6m-.6 3.5h.6m-.6 .5h.6m-.6 .7h.6m-.6 1.1h.6m-.6 .6h.6m-.6 .9h.6m-.6 .1h.6m-.6 .2h.6m-.6 .6h.6m-.6 .2h.6m-.6 .2h.6m-.6 .9h.6m-.6 5.1h.6m-.5-13.4h.6m-.6 3.7h.6m-.6 .4h.6m-.6 1.5h.6m-.6 .2h.6m-.6 1.5h.6m-.6 .3h.6m-.6 .5h.6m-.6 .3h.6m-.6 .9h.6m-.6 .4h.6m-.5-5.6h.6m-.6 .9h.6m-.6 1.4h.6m-.6 .7h.6m-.6 1.4h.6m-.6 1h.6m-.6 2h.6m-.5-11.7h.6m-.6 2.2h.6m-.6 .7h.6m-.6 .9h.6m-.6 .7h.6m-.6 .7h.6m-.6 .7h.6m-.6 1.4h.6m-.6 1h.6m-.6 .7h.6m-.6 3.1h.6m-.5-9.3h.6m-.6 1.6h.6m-.6 1.9h.6m-.6 .3h.6m-.6 .1h.6m-.6 1.3h.6m-.6 .8h.6m-.6 .3h.6m-.6 .2h.6m-.6 3.3h.6m-.5-12.3h.6m-.6 2.1h.6m-.6 1.4h.6m-.6 1.4h.6m-.6 .4h.6m-.6 .6h.6m-.6 .7h.6m-.6 0h.6m-.6 .4h.6m-.6 1h.6m-.6 1.3h.6m-.5-7.6h.6m-.6 1.4h.6m-.6 .2h.6m-.6 .9h.6m-.6 .1h.6m-.6 .9h.6m-.6 .1h.6m-.6 1.2h.6m-.6 .5h.6m-.6 1.2h.6m-.5-4.7h.6m-.6 .8h.6m-.6 .4h.6m-.6 1.7h.6m-.6 1.6h.6m-.6 1.4h.6m-.6 6.7h.6m-.5-15h.6m-.6 1.5h.6m-.6 2h.6m-.6 .5h.6m-.6 .1h.6m-.6 .7h.6m-.6 1.8h.6m-.6 .3h.6m-.6 4.2h.6m-.6 .6h.6m-.6 2.2h.6m-.5-10.6h.6m-.6 .4h.6m-.6 .5h.6m-.6 .9h.6m-.6 .8h.6m-.6 .7h.6m-.6 .8h.6m-.6 .4h.6m-.6 1.9h.6m-.5-12.2h.6m-.6 1.3h.6m-.6 .6h.6m-.6 2.5h.6m-.6 1h.6m-.6 1.3h.6m-.6 .1h.6m-.6 .1h.6m-.6 .3h.6m-.6 .5h.6m-.6 .1h.6m-.6 .5h.6m-.5-9.1h.6m-.6 7h.6m-.6 .1h.6m-.6 0h.6m-.6 .2h.6m-.6 .1h.6m-.6 .1h.6m-.6 .5h.6m-.5-4.2h.6m-.6 .8h.6m-.6 1h.6m-.6 2.3h.6m-.6 .1h.6m-.6 .6h.6m-.6 .5h.6m-.6 1.2h.6m-.6 .8h.6m-.6 .9h.6m-.5-6.9h.6m-.6 .4h.6m-.6 .6h.6m-.6 .2h.6m-.6 .3h.6m-.6 .2h.6m-.6 .1h.6m-.6 .2h.6m-.6 1.2h.6m-.6 .1h.6m-.6 3h.6m-.6 .1h.6m-.5-10.5h.6m-.6 2.2h.6m-.6 .5h.6m-.6 .6h.6m-.6 .5h.6m-.6 1.3h.6m-.6 1.6h.6m-.6 .6h.6m-.6 .8h.6m-.6 .6h.6m-.6 .1h.6m-.6 .6h.6m-.6 .4h.6m-.6 1.9h.6m-.6 .4h.6m-.6 1.1h.6m-.5-14.1h.6m-.6 5h.6m-.6 0h.6m-.6 .6h.6m-.6 .2h.6m-.6 .1h.6m-.6 1.1h.6m-.6 .2h.6m-.6 1.2h.6m-.6 6.8h.6m-.5-10.9h.6m-.6 3.2h.6m-.6 .7h.6m-.6 1h.6m-.6 .1h.6m-.6 .2h.6m-.5-5.4h.6m-.6 1.1h.6m-.6 .4h.6m-.6 .7h.6m-.6 .6h.6m-.6 1.3h.6m-.6 1.3h.6m-.6 1.2h.6m-.6 .7h.6m-.5-8.7h.6m-.6 2h.6m-.6 0h.6m-.6 1.2h.6m-.6 2.8h.6m-.6 1h.6m-.6 .6h.6m-.6 .1h.6m-.6 .5h.6m-.6 .8h.6m-.5-7.2h.6m-.6 2.5h.6m-.6 1h.6m-.6 .8h.6m-.6 1.9h.6m-.6 .8h.6m-.6 2.3h.6m-.5-9.8h.6m-.6 .8h.6m-.6 1.8h.6m-.6 .8h.6m-.6 1.1h.6m-.6 1.2h.6m-.5-5.7h.6m-.6 2.1h.6m-.6 .3h.6m-.6 .4h.6m-.6 .1h.6m-.6 .2h.6m-.6 1.7h.6m-.6 .2h.6m-.6 .5h.6m-.6 3.2h.6m-.6 .3h.6m-.6 3.6h.6m-.5-13h.6m-.6 1h.6m-.6 0h.6m-.6 .7h.6m-.6 2.4h.6m-.6 1h.6m-.6 .1h.6m-.6 1.1h.6m-.5-5.6h.6m-.6 1.2h.6m-.6 .7h.6m-.6 1.4h.6m-.6 .6h.6m-.6 3h.6m-.5-8h.6m-.6 1.6h.6m-.6 1h.6m-.6 .4h.6m-.6 1.1h.6m-.6 1.4h.6m-.6 1.2h.6m-.6 3h.6m-.5-8.9h.6m-.6 3.1h.6m-.6 .7h.6m-.6 .3h.6m-.6 .1h.6m-.6 1.4h.6m-.5-7.9h.6m-.6 1.5h.6m-.6 4h.6m-.6 2.5h.6m-.6 2.7h.6m-.6 1.5h.6m-.6 1.9h.6m-.5-10.1h.6m-.6 2.2h.6m-.6 .4h.6m-.6 .8h.6m-.6 .9h.6m-.6 3.2h.6m-.5-9h.6m-.6 1.3h.6m-.6 0h.6m-.6 .3h.6m-.6 .1h.6m-.6 0h.6m-.6 1.1h.6m-.6 .3h.6m-.6 .5h.6m-.6 .6h.6m-.6 .5h.6m-.5-4.4h.6m-.6 .5h.6m-.6 .4h.6m-.6 4.6h.6m-.6 2.5h.6m-.5-10h.6m-.6 2.1h.6m-.6 .7h.6m-.6 1h.6m-.6 .5h.6m-.6 .6h.6m-.6 1.7h.6m-.6 .1h.6m-.6 .4h.6m-.6 1.7h.6m-.6 .3h.6m-.5-6.4h.6m-.6 .2h.6m-.6 1.2h.6m-.6 .1h.6m-.6 .2h.6m-.6 1.3h.6m-.6 .3h.6m-.6 0h.6m-.6 2.1h.6m-.6 .8h.6m-.6 .9h.6m-.5-6.6h.6m-.6 3.3h.6m-.6 .4h.6m-.6 2.9h.6m-.5-5.9h.6m-.6 2.3h.6m-.6 .2h.6m-.6 .2h.6m-.6 .8h.6m-.6 0h.6m-.6 .3h.6m-.6 .1h.6m-.5-5.8h.6m-.6 .3h.6m-.6 2.8h.6m-.6 .2h.6m-.5-6.7h.6m-.6 4.2h.6m-.6 2.7h.6m-.6 .1h.6m-.6 .4h.6m-.6 2.5h.6m-.5-7.1h.6m-.5 1.7h.6m-.6 1.8h.6m-.6 1.9h.6m-.6 .5h.6m-.6 1.7h.6m-.5-8h.6m-.6 1.6h.6m-.6 .5h.6m-.5-4.5h.6m-.6 3.1h.6m-.6 3.9h.6m-.6 .4h.6m-.5-3.5h.6m-.6 2.4h.6m-.6 2h.6m-.6 .2h.6m-.6 1.1h.6m-.5-8.3h.6m-.6 1.2h.6m-.6 5.2h.6m-.6 6.7h.6m-.5-11.3h.6m-.6 .8h.6m-.6 .3h.6m-.6 5.8h.6m-.5-5.9h.6m-.6 .1h.6m-.6 .3h.6m-.6 4.1h.6m-.5-7.1h.6m-.6 2.1h.6m-.6 1.7h.6m-.6 .2h.6m-.6 .8h.6m-.6 3.1h.6m-.5-6.3h.6m-.6 1.2h.6m-.6 3.6h.6m-.6 3.6h.6m-.5-8.9h.6m-.6 3.2h.6m-.5-2.9h.6m-.6 .4h.6m-.6 .5h.6m-.6 1.2h.6m-.6 2.1h.6m-.5-2.6h.6m-.5-.6h.6m-.6 .2h.6m-.6 .3h.6m-.6 4.1h.6m-.6 .1h.6m-.5 .6h.6m-.5-1.1h.6m-.6 1h.6m-.5-7.7h.6m-.6 4.6h.6m-.6 .3h.6m-.6 .4h.6m-.5-5.7h.6m-.6 5.4h.6m-.6 .5h.6m-.5 3.9h.6m-.5-8.3h.6m-.6 1.2h.6m-.6 2.3h.6m-.6 1.3h.6m-.5-2.2h.6m-.6 .4h.6m-.6 1.2h.6m-.6 1h.6m-.6 2.3h.6m-.5-7.1h.6m-.6 4.6h.6m-.4-7h.6m-.6 3.1h.6m-.6 3.4h.6m-.6 .5h.6m-.5-1.6h.6m-.6 3.2h.6m-.6 1h.6m-.6 .4h.6m-.5-3.7h.6m-.5-1.5h.6m-.6 1.5h.6m-.5-.3h.6m-.6 .8h.6m-.5-6.6h.6m-.6 9.6h.6m-.5-9.6h.6m-.6 2.1h.6m-.5 3.8h.6m-.5-6.3h.6m-.6 2.6h.6m-.6 .1h.6m-.6 6h.6m-.6 .2h.6m-.5-5.4h.6m-.6 .3h.6m-.6 .2h.6m-.6 .9h.6m-.6 .2h.6m-.3 6.5h.6m-.6 3h.6m-.5-8.6h.6m-.6 2.8h.6m-.5 0h.6m-.4-4h.6m-.4 1.4h.6m-.5 6.6h.6m-.5-7h.6m-.5-3h.6m-.4 .1h.6m-.4 1h.6m-.6 .8h.6m-.6 2.3h.6m-.5-2.6h.6m-.6 7.6h.6m-.3-9.8h.6m-.6 10.6h.6m-.4-7h.6m-.5 7.7h.6m-.5-8.7h.6m-.5-.3h.6m-.5 .7h.6m-.6 3.6h.6m-.5-5h.6m-.6 4.9h.6m-.5-5.2h.6m-.1 4.5h.6m-.4-3.8h.6m-.3 4.3h.6m-.5-1.9h.6m.4 2.1h.6m2.1-11.6h.6m-.2 5.1h.6m-.4 11h.6m.5-9.7h.6" stroke="#ea1f1f" stroke-width="0.6" stroke-opacity="0.8" fill="none"/>
<path d="m267.8 564.9h.6m-.2-3.3h.6m-.3 9.8h.6m.7-13.4h.6m2.8 17.4h.6m-.5-.2h.6m-.2-7.3h.6m-.4 2.8h.6m-.6 1.4h.6m-.4-12h.6m-.5 17h.6m-.5-21.3h.6m.1 17.9h.6m0-8.7h.6m-.5 1.6h.6m.9 1.4h.6m-.1-4.8h.6m-.5 1.7h.6m.2 3.3h.6m-.3-2.7h.6m.4-4.5h.6m-.5 13.5h.6m-.3-1.9h.6m-.3-7.8h.6m-.4 2.4h.6m-.3-8.5h.6m-.4 7.1h.6m-.4-.8h.6m-.1 8.8h.6m-.2-10.3h.6m-.4 1.4h.6m0-1.8h.6m-.1-3.1h.6m1.3-5.7h.6m-.2 11.7h.6m-.4 3.9h.6m0-5h.6m.5 1.5h.6m.4 10.7h.6m1.5 17.4h.6m1.1-5.1h.6m-.5 4.2h.6m0-6.9h.6m-.1-16.7h.6m.3 16.7h.6m-.4 4.1h.6m-.1-7.6h.6m-.5 8h.6m.1 1.8h.6m1.1-5.3h.6m-.5 .1h.6m-.5 3.2h.6m-.5-3.9h.6m-.4 6.2h.6m.8-3.7h.6m-.1 3.4h.6m-.3-3.4h.6m1-2.8h.6m-.4 4.2h.6m.2 .8h.6m-.3-6.2h.6m-.5 1.8h.6m.1 6.9h.6m.5 1.2h.6m-.5-5.4h.6m-.3-3h.6m1.7-5.4h.6m.6 15.9h.6m-.2-6.2h.6" stroke="#ea1f1f" stroke-width="0.6" stroke-opacity="0.4" fill="none"/>
<path d="M290.7 547.2L290.7 607.7" stroke="#cacaca" stroke-width="1.3"/>
<path d="M257.7 577.6L318.8 577.6" stroke="#cacaca" stroke-width="1.3"/>
<rect x="257.7" y="547.2" width="61.1" height="60.5" fill="none" stroke="#555" stroke-width="0.6"/>
<text transform="matrix(1 0 0 1.07 259.5 551.8)" font-size="3.3" fill="#333" class="m">Q2-UL(0.39%)</text>
<text transform="matrix(1 0 0 1.07 317.8 551.8)" font-size="3.3" text-anchor="end" fill="#333" class="m">Q2-UR(0.00%)</text>
<text transform="matrix(1 0 0 1.07 259.5 605.7)" font-size="3.3" fill="#333" class="m">Q2-LL(99.20%)</text>
<text transform="matrix(1 0 0 1.07 317.8 605.7)" font-size="3.3" text-anchor="end" fill="#333" class="m">Q2-LR(0.41%)</text>
<path d="M257.7 607.7L257.7 609.1" stroke="#444" stroke-width="0.4"/>
<text x="257.7" y="612.5" font-size="3.1" text-anchor="middle" fill="#333" class="m">10<tspan font-size="2.1" dy="-1.3">1</tspan></text>
<path d="M256.3 607.7L257.7 607.7" stroke="#444" stroke-width="0.4"/>
<text x="256.2" y="608.9" font-size="3.1" text-anchor="end" fill="#333" class="m">10<tspan font-size="2.1" dy="-1.3">1</tspan></text>
<path d="M272.98 607.7L272.98 609.1" stroke="#444" stroke-width="0.4"/>
<text x="272.98" y="612.5" font-size="3.1" text-anchor="middle" fill="#333" class="m">10<tspan font-size="2.1" dy="-1.3">2</tspan></text>
<path d="M256.3 592.58L257.7 592.58" stroke="#444" stroke-width="0.4"/>
<text x="256.2" y="593.78" font-size="3.1" text-anchor="end" fill="#333" class="m">10<tspan font-size="2.1" dy="-1.3">2</tspan></text>
<path d="M288.25 607.7L288.25 609.1" stroke="#444" stroke-width="0.4"/>
<text x="288.25" y="612.5" font-size="3.1" text-anchor="middle" fill="#333" class="m">10<tspan font-size="2.1" dy="-1.3">3</tspan></text>
<path d="M256.3 577.45L257.7 577.45" stroke="#444" stroke-width="0.4"/>
<text x="256.2" y="578.65" font-size="3.1" text-anchor="end" fill="#333" class="m">10<tspan font-size="2.1" dy="-1.3">3</tspan></text>
<path d="M303.52 607.7L303.52 609.1" stroke="#444" stroke-width="0.4"/>
<text x="303.52" y="612.5" font-size="3.1" text-anchor="middle" fill="#333" class="m">10<tspan font-size="2.1" dy="-1.3">4</tspan></text>
<path d="M256.3 562.33L257.7 562.33" stroke="#444" stroke-width="0.4"/>
<text x="256.2" y="563.53" font-size="3.1" text-anchor="end" fill="#333" class="m">10<tspan font-size="2.1" dy="-1.3">4</tspan></text>
<path d="M318.8 607.7L318.8 609.1" stroke="#444" stroke-width="0.4"/>
<text x="318.8" y="612.5" font-size="3.1" text-anchor="middle" fill="#333" class="m">10<tspan font-size="2.1" dy="-1.3">5</tspan></text>
<path d="M256.3 547.2L257.7 547.2" stroke="#444" stroke-width="0.4"/>
<text x="256.2" y="548.4" font-size="3.1" text-anchor="end" fill="#333" class="m">10<tspan font-size="2.1" dy="-1.3">5</tspan></text>
<path d="M262.3 607.7v.8M257.7 603.15h-.8M264.99 607.7v.8M257.7 600.48h-.8M266.9 607.7v.8M257.7 598.59h-.8M268.38 607.7v.8M257.7 597.13h-.8M269.59 607.7v.8M257.7 595.93h-.8M270.61 607.7v.8M257.7 594.92h-.8M271.49 607.7v.8M257.7 594.04h-.8M272.28 607.7v.8M257.7 593.27h-.8M277.57 607.7v.8M257.7 588.02h-.8M280.26 607.7v.8M257.7 585.36h-.8M282.17 607.7v.8M257.7 583.47h-.8M283.65 607.7v.8M257.7 582h-.8M284.86 607.7v.8M257.7 580.81h-.8M285.88 607.7v.8M257.7 579.79h-.8M286.77 607.7v.8M257.7 578.92h-.8M287.55 607.7v.8M257.7 578.14h-.8M292.85 607.7v.8M257.7 572.9h-.8M295.54 607.7v.8M257.7 570.23h-.8M297.45 607.7v.8M257.7 568.34h-.8M298.93 607.7v.8M257.7 566.88h-.8M300.14 607.7v.8M257.7 565.68h-.8M301.16 607.7v.8M257.7 564.67h-.8M302.04 607.7v.8M257.7 563.79h-.8M302.83 607.7v.8M257.7 563.02h-.8M308.12 607.7v.8M257.7 557.77h-.8M310.81 607.7v.8M257.7 555.11h-.8M312.72 607.7v.8M257.7 553.22h-.8M314.2 607.7v.8M257.7 551.75h-.8M315.41 607.7v.8M257.7 550.56h-.8M316.43 607.7v.8M257.7 549.54h-.8M317.32 607.7v.8M257.7 548.67h-.8M318.1 607.7v.8M257.7 547.89h-.8" stroke="#555" stroke-width=".3" fill="none"/>
<text transform="matrix(1 0 0 1.07 288.25 616.9)" font-size="3.2" text-anchor="middle" fill="#333" class="m">CD206 APC-A</text>
<text transform="matrix(0 -1.07 1 0 250.77 577.45)" font-size="2.99" text-anchor="middle" fill="#333" class="m">CD86 FITC-A</text>
<text transform="matrix(1 0 0 1.07 286.65 545.7)" font-size="3" text-anchor="middle" fill="#333" class="m">1.1 : P1</text>
<ellipse cx="355" cy="589.8" rx="6.8" ry="3.3" transform="rotate(-24.06 355 589.8)" fill="#ea1c1c" fill-opacity="0.95" filter="url(#blc)"/>
<path d="m333.5 594.9h.6m-.4 5.2h.6m-.5-5.4h.6m-.6 1.7h.6m-.3-1.4h.6m-.2 1.6h.6m-.6 1.7h.6m-.6 3h.6m-.5-10.1h.6m-.5 4.3h.6m-.5 4h.6m-.5-2.9h.6m-.4-3h.6m-.5-.3h.6m-.6 2.7h.6m-.5-8.6h.6m-.6 5.7h.6m-.6 3.8h.6m-.5-7.6h.6m-.6 7.6h.6m-.5-9.7h.6m-.5 6.4h.6m-.6 3.1h.6m-.6 2.3h.6m-.6 1.8h.6m-.6 2.3h.6m-.5-12.4h.6m-.6 2.1h.6m-.2-5.3h.6m-.6 4h.6m-.5 .7h.6m-.6 1.3h.6m-.6 .8h.6m-.6 1.1h.6m-.6 1.2h.6m-.5 2.8h.6m-.6 4.4h.6m-.5-6.4h.6m-.5-.9h.6m-.5 2h.6m-.4-6.3h.6m-.6 2.8h.6m-.6 1.4h.6m-.6 2.5h.6m-.5-8.7h.6m-.6 3.4h.6m-.6 2h.6m-.6 4h.6m-.4-6.3h.6m-.6 .6h.6m-.6 1.8h.6m-.5-3h.6m-.5 3h.6m-.6 2.6h.6m-.6 .4h.6m-.6 1.5h.6m-.5-3.7h.6m-.6 .1h.6m-.6 3h.6m-.5 2.2h.6m-.5-8h.6m-.5-.1h.6m-.5 3.1h.6m-.6 1.3h.6m-.6 1.1h.6m-.5 1.9h.6m-.4-7h.6m-.6 6.7h.6m-.5-3.2h.6m-.4 1.5h.6m-.5-9.5h.6m-.6 5.3h.6m-.6 8.4h.6m-.5-11.8h.6m-.5 5.7h.6m-.6 .8h.6m-.6 1h.6m-.5-9h.6m-.6 5.1h.6m-.6 5.2h.6m-.5-11.3h.6m-.6 4.4h.6m-.6 .1h.6m-.6 2h.6m-.6 1.3h.6m-.6 .4h.6m-.5-6.4h.6m-.6 1.9h.6m-.6 .3h.6m-.6 .7h.6m-.6 6.6h.6m-.6 1.5h.6m-.5-7.1h.6m-.5-6.6h.6m-.6 .6h.6m-.6 8.8h.6m-.5-10h.6m-.6 5.2h.6m-.6 1.5h.6m-.6 2.4h.6m-.6 5.7h.6m-.5-10.8h.6m-.6 6.9h.6m-.5-3.5h.6m-.5-3.5h.6m-.5 1.2h.6m-.6 4.7h.6m-.6 1.1h.6m-.5-4.7h.6m-.6 1.3h.6m-.6 .7h.6m-.5-2.6h.6m-.6 1.2h.6m-.6 .6h.6m-.6 1.7h.6m-.5-4.1h.6m-.6 1.9h.6m-.6 3h.6m-.6 1.8h.6m-.5-15.5h.6m-.6 11.9h.6m-.6 .9h.6m-.6 3.2h.6m-.5-6.1h.6m-.6 .7h.6m-.6 .6h.6m-.6 1h.6m-.6 .8h.6m-.6 1.8h.6m-.6 .5h.6m-.6 .9h.6m-.6 .4h.6m-.5-6.2h.6m-.6 1.4h.6m-.6 4.8h.6m-.6 4.4h.6m-.5-14.1h.6m-.6 .2h.6m-.6 3.2h.6m-.6 2.8h.6m-.5-7.2h.6m-.6 1.9h.6m-.6 7.7h.6m-.5-8.1h.6m-.6 3.8h.6m-.6 7.6h.6m-.5-16h.6m-.6 6.8h.6m-.6 3h.6m-.6 .4h.6m-.5-3.6h.6m-.5-6.4h.6m-.6 1h.6m-.6 5.2h.6m-.6 4.6h.6m-.6 .2h.6m-.6 .9h.6m-.6 2.3h.6m-.5-6.9h.6m-.5 2.1h.6m-.6 .6h.6m-.5-5.3h.6m-.6 4.4h.6m-.6 .3h.6m-.5-7h.6m-.6 5.8h.6m-.6 2.4h.6m-.5-6.6h.6m-.6 .6h.6m-.6 1.2h.6m-.6 .9h.6m-.6 .9h.6m-.6 2.3h.6m-.6 .9h.6m-.6 .8h.6m-.5-6.5h.6m-.6 3.6h.6m-.5-4.1h.6m-.6 3.1h.6m-.6 .2h.6m-.6 5.8h.6m-.5-11.2h.6m-.6 2.4h.6m-.6 1.1h.6m-.6 1.5h.6m-.6 6.3h.6m-.5-10.9h.6m-.6 5.2h.6m-.6 3.4h.6m-.6 .5h.6m-.5-5.2h.6m-.6 2.7h.6m-.6 5.1h.6m-.6 1.6h.6m-.5-7.4h.6m-.6 1.4h.6m-.6 .6h.6m-.6 .8h.6m-.5-8.2h.6m-.6 2.4h.6m-.6 1h.6m-.6 .2h.6m-.5-7.2h.6m-.6 1.3h.6m-.6 6.9h.6m-.6 .6h.6m-.5-.5h.6m-.6 0h.6m-.6 4.7h.6m-.5-7.8h.6m-.6 4.8h.6m-.6 .8h.6m-.5-3.9h.6m-.6 1.4h.6m-.6 .5h.6m-.5-7.7h.6m-.6 7.5h.6m-.5-8.6h.6m-.6 5h.6m-.6 3h.6m-.5-5h.6m-.6 2.2h.6m-.6 .8h.6m-.6 .6h.6m-.6 .7h.6m-.6 .3h.6m-.6 5.3h.6m-.6 6.4h.6m-.5-16.2h.6m-.6 4.8h.6m-.5 2.3h.6m-.5-3.3h.6m-.6 .1h.6m-.6 1.7h.6m-.5-7.1h.6m-.6 10.7h.6m-.6 .4h.6m-.6 .4h.6m-.6 1.9h.6m-.5-8.1h.6m-.6 .3h.6m-.6 3.6h.6m-.6 2.3h.6m-.5-12.6h.6m-.6 5.6h.6m-.6 .1h.6m-.6 1h.6m-.6 .9h.6m-.6 .7h.6m-.6 2.7h.6m-.5-8.6h.6m-.6 2.1h.6m-.6 3.5h.6m-.5-5.2h.6m-.6 6.8h.6m-.6 2.4h.6m-.5-8h.6m-.6 4.7h.6m-.6 1.2h.6m-.6 5.3h.6m-.5-9.7h.6m-.6 5.7h.6m-.5-8.1h.6m-.6 .5h.6m-.5 .6h.6m-.6 2.3h.6m-.6 8h.6m-.6 .4h.6m-.6 4.2h.6m-.5-13.2h.6m-.6 .3h.6m-.6 1.5h.6m-.6 1.5h.6m-.5-7.4h.6m-.6 5.2h.6m-.5-1.1h.6m-.6 5.5h.6m-.5-9.4h.6m-.6 2.7h.6m-.6 2.2h.6m-.6 .4h.6m-.6 .3h.6m-.6 2.7h.6m-.5-10h.6m-.6 3.3h.6m-.6 1.5h.6m-.6 2.2h.6m-.6 .7h.6m-.6 .2h.6m-.6 1.3h.6m-.5-8.4h.6m-.6 1.5h.6m-.6 .6h.6m-.6 .1h.6m-.6 3.9h.6m-.6 .1h.6m-.6 1.4h.6m-.6 .9h.6m-.5-10.9h.6m-.6 1.7h.6m-.6 7.6h.6m-.6 2.3h.6m-.6 1.2h.6m-.6 1.1h.6m-.5-7.5h.6m-.6 3.6h.6m-.6 2.4h.6m-.5-4.1h.6m-.5-2.5h.6m-.6 2.1h.6m-.6 1.6h.6m-.6 .7h.6m-.6 .1h.6m-.6 1.5h.6m-.5-5.8h.6m-.6 3.1h.6m-.6 3.2h.6m-.5-5.5h.6m-.6 2.7h.6m-.6 .2h.6m-.5-3.6h.6m-.6 .4h.6m-.6 1.3h.6m-.6 1.3h.6m-.6 1.4h.6m-.6 1.6h.6m-.5-13.7h.6m-.6 4.2h.6m-.6 .2h.6m-.6 2.8h.6m-.6 2.1h.6m-.6 4.7h.6m-.6 .2h.6m-.6 1h.6m-.5-5.7h.6m-.6 .7h.6m-.5-6.6h.6m-.6 3.6h.6m-.6 .8h.6m-.6 .5h.6m-.6 1.8h.6m-.6 2.2h.6m-.5-4.9h.6m-.6 1.1h.6m-.6 .4h.6m-.6 2.5h.6m-.6 .3h.6m-.6 .2h.6m-.6 1.2h.6m-.6 2.4h.6m-.5-6.5h.6m-.6 1.6h.6m-.6 1.6h.6m-.6 1.3h.6m-.6 2.6h.6m-.5-9.9h.6m-.6 1.1h.6m-.6 2.1h.6m-.6 .4h.6m-.6 1.2h.6m-.6 .3h.6m-.6 1.9h.6m-.5-6.8h.6m-.6 3.5h.6m-.6 .9h.6m-.6 .9h.6m-.6 3.8h.6m-.5-15.6h.6m-.6 2.6h.6m-.6 2.4h.6m-.6 4.9h.6m-.6 .7h.6m-.6 2.9h.6m-.5-13.4h.6m-.6 6.6h.6m-.6 .3h.6m-.6 7.5h.6m-.5-12.1h.6m-.6 1.4h.6m-.6 1.6h.6m-.6 .8h.6m-.6 0h.6m-.6 1.3h.6m-.6 1.5h.6m-.6 .3h.6m-.6 .2h.6m-.5-6.1h.6m-.6 1.3h.6m-.6 1.9h.6m-.6 2h.6m-.6 .6h.6m-.6 .1h.6m-.6 .7h.6m-.6 .2h.6m-.6 .3h.6m-.6 .4h.6m-.6 4.6h.6m-.5-3.6h.6m-.6 2.2h.6m-.6 1.1h.6m-.6 2.2h.6m-.5-13.6h.6m-.6 .6h.6m-.6 2.6h.6m-.5 .3h.6m-.6 1.8h.6m-.6 2.5h.6m-.6 .4h.6m-.5-7.9h.6m-.6 .4h.6m-.6 1h.6m-.6 1.6h.6m-.6 1.3h.6m-.6 1.9h.6m-.6 0h.6m-.6 1.2h.6m-.6 4.5h.6m-.6 .8h.6m-.5-10.4h.6m-.6 1.6h.6m-.6 .2h.6m-.6 1.8h.6m-.6 3.7h.6m-.5-13h.6m-.6 4.2h.6m-.6 .2h.6m-.6 1.5h.6m-.6 1.7h.6m-.6 .1h.6m-.6 .9h.6m-.6 .3h.6m-.6 .4h.6m-.6 2.2h.6m-.5-5.9h.6m-.6 2.2h.6m-.6 2.9h.6m-.5-8h.6m-.6 1.2h.6m-.6 2h.6m-.6 6.7h.6m-.6 1.8h.6m-.5-14.8h.6m-.6 6.2h.6m-.6 2.9h.6m-.6 3.1h.6m-.5-7.1h.6m-.6 2.7h.6m-.6 .1h.6m-.6 .8h.6m-.6 .1h.6m-.6 2.7h.6m-.6 1h.6m-.6 3.5h.6m-.5-14h.6m-.6 1.6h.6m-.6 .5h.6m-.6 2.2h.6m-.6 2.8h.6m-.6 .4h.6m-.5-5.5h.6m-.6 1.4h.6m-.6 .4h.6m-.6 1.7h.6m-.6 .1h.6m-.6 1h.6m-.6 .7h.6m-.6 2.3h.6m-.6 5.4h.6m-.5-9.7h.6m-.6 2.2h.6m-.5-6h.6m-.6 1.6h.6m-.6 1.5h.6m-.6 3.1h.6m-.5-7.6h.6m-.6 .2h.6m-.6 1.5h.6m-.6 1.4h.6m-.6 2.5h.6m-.6 .8h.6m-.6 1.4h.6m-.6 .6h.6m-.5-7.3h.6m-.6 5.8h.6m-.6 1.1h.6m-.6 .6h.6m-.6 .7h.6m-.5-5.4h.6m-.6 7h.6m-.6 3.2h.6m-.5-13.2h.6m-.6 .1h.6m-.6 3.5h.6m-.5-7h.6m-.6 7.2h.6m-.6 1h.6m-.6 .1h.6m-.6 4h.6m-.5-14.2h.6m-.6 .2h.6m-.6 4.7h.6m-.6 .4h.6m-.6 1.1h.6m-.6 1.6h.6m-.6 .6h.6m-.6 2.9h.6m-.6 2.1h.6m-.6 0h.6m-.5-9h.6m-.6 4.3h.6m-.6 0h.6m-.6 1.1h.6m-.6 .9h.6m-.6 .4h.6m-.6 .1h.6m-.6 1h.6m-.6 2h.6m-.5-10.3h.6m-.6 .7h.6m-.6 1h.6m-.6 .9h.6m-.6 .9h.6m-.6 .1h.6m-.6 .5h.6m-.6 6.1h.6m-.6 0h.6m-.6 1.4h.6m-.5-10h.6m-.6 1.7h.6m-.6 2.3h.6m-.6 4.4h.6m-.6 2.3h.6m-.5-9.8h.6m-.6 .8h.6m-.6 1.3h.6m-.6 1h.6m-.6 3.7h.6m-.6 .1h.6m-.6 0h.6m-.6 .8h.6m-.6 2.6h.6m-.6 .1h.6m-.5-12.6h.6m-.6 3.2h.6m-.6 .1h.6m-.6 .2h.6m-.6 .7h.6m-.6 .2h.6m-.6 2.6h.6m-.6 1.2h.6m-.6 4.7h.6m-.6 1.4h.6m-.5-11.7h.6m-.6 0h.6m-.6 2.6h.6m-.6 2.5h.6m-.6 .4h.6m-.6 4.6h.6m-.5-13.6h.6m-.6 1.2h.6m-.6 2.9h.6m-.6 1.2h.6m-.6 .4h.6m-.6 .3h.6m-.6 1.1h.6m-.6 .2h.6m-.6 2.7h.6m-.6 1.3h.6m-.5-11.4h.6m-.6 4.1h.6m-.6 .4h.6m-.6 1.6h.6m-.6 .6h.6m-.6 .9h.6m-.6 1.4h.6m-.5-5.9h.6m-.6 .8h.6m-.6 1.2h.6m-.6 .8h.6m-.6 .1h.6m-.6 .1h.6m-.6 .6h.6m-.6 .4h.6m-.6 6.5h.6m-.6 2.9h.6m-.5-17.5h.6m-.6 2.3h.6m-.6 .6h.6m-.6 1.4h.6m-.6 .2h.6m-.6 2.4h.6m-.6 .6h.6m-.6 0h.6m-.6 .8h.6m-.6 3h.6m-.5-9.9h.6m-.6 3.7h.6m-.6 2.8h.6m-.6 .2h.6m-.5-6.6h.6m-.6 1.7h.6m-.6 2.5h.6m-.6 2.5h.6m-.6 .1h.6m-.6 .2h.6m-.6 .2h.6m-.6 0h.6m-.6 .1h.6m-.6 .9h.6m-.6 1.3h.6m-.5-8.9h.6m-.6 3h.6m-.6 .1h.6m-.6 .4h.6m-.6 1.5h.6m-.6 .4h.6m-.6 .6h.6m-.6 2.5h.6m-.6 .1h.6m-.5-8.4h.6m-.6 2.3h.6m-.6 .2h.6m-.6 0h.6m-.6 1h.6m-.5-6h.6m-.6 2.7h.6m-.6 .5h.6m-.6 1h.6m-.6 1.4h.6m-.6 .2h.6m-.6 1.8h.6m-.6 2.7h.6m-.6 1.4h.6m-.6 2.5h.6m-.5-9.6h.6m-.6 .8h.6m-.6 .1h.6m-.6 .5h.6m-.6 .6h.6m-.6 .7h.6m-.6 .5h.6m-.6 1.6h.6m-.6 1h.6m-.6 .2h.6m-.5-7.4h.6m-.6 1h.6m-.6 .6h.6m-.6 .7h.6m-.6 0h.6m-.6 .7h.6m-.6 .2h.6m-.6 .7h.6m-.6 .3h.6m-.6 .1h.6m-.6 .1h.6m-.6 .3h.6m-.6 .9h.6m-.6 .6h.6m-.6 1h.6m-.6 .7h.6m-.6 .4h.6m-.6 1h.6m-.6 .5h.6m-.5-19.7h.6m-.6 11.1h.6m-.6 .8h.6m-.6 1.9h.6m-.6 .1h.6m-.6 2h.6m-.6 .1h.6m-.6 .8h.6m-.6 0h.6m-.6 2.3h.6m-.5-9.5h.6m-.6 3.3h.6m-.6 .8h.6m-.6 1.1h.6m-.6 1h.6m-.6 2.8h.6m-.5-9.2h.6m-.6 1h.6m-.6 3.4h.6m-.6 .7h.6m-.6 .9h.6m-.6 4.9h.6m-.5-11.9h.6m-.6 2h.6m-.6 2.6h.6m-.6 1.8h.6m-.6 1.8h.6m-.6 2.4h.6m-.6 .7h.6m-.6 2.6h.6m-.5-15.4h.6m-.6 1.7h.6m-.6 4.1h.6m-.6 1.1h.6m-.6 2.4h.6m-.6 .4h.6m-.6 2.1h.6m-.5-7.2h.6m-.6 1.6h.6m-.6 .3h.6m-.6 2.3h.6m-.6 .2h.6m-.6 .1h.6m-.6 .7h.6m-.5-7.5h.6m-.6 2.5h.6m-.6 .6h.6m-.6 .4h.6m-.6 .8h.6m-.6 .1h.6m-.6 1.5h.6m-.6 .1h.6m-.6 7.1h.6m-.5-11.6h.6m-.6 .6h.6m-.6 2.2h.6m-.6 1.5h.6m-.6 .9h.6m-.6 .1h.6m-.6 .6h.6m-.6 .2h.6m-.5-10.5h.6m-.6 4.2h.6m-.6 .3h.6m-.6 0h.6m-.6 1.7h.6m-.6 .8h.6m-.6 .8h.6m-.6 .2h.6m-.6 .7h.6m-.6 .9h.6m-.6 .2h.6m-.6 5.7h.6m-.5-11.8h.6m-.6 1.4h.6m-.6 .7h.6m-.6 .2h.6m-.6 .3h.6m-.6 .9h.6m-.6 1h.6m-.6 1.1h.6m-.6 1.1h.6m-.6 .2h.6m-.5-11h.6m-.6 3h.6m-.6 .2h.6m-.6 2.7h.6m-.6 .6h.6m-.6 .7h.6m-.6 1.7h.6m-.6 .4h.6m-.6 .4h.6m-.6 .2h.6m-.6 1.5h.6m-.6 4.4h.6m-.5-12.2h.6m-.6 1.9h.6m-.6 .1h.6m-.6 .7h.6m-.6 .9h.6m-.6 .7h.6m-.6 .3h.6m-.6 .3h.6m-.6 .1h.6m-.6 .7h.6m-.6 1.5h.6m-.6 1.3h.6m-.5-8.6h.6m-.6 1.9h.6m-.6 .7h.6m-.6 1.2h.6m-.6 .6h.6m-.6 .8h.6m-.6 1.1h.6m-.6 .1h.6m-.6 .1h.6m-.6 .2h.6m-.6 .1h.6m-.6 .6h.6m-.6 .9h.6m-.5-10.6h.6m-.6 2.2h.6m-.6 1.9h.6m-.6 .7h.6m-.6 .3h.6m-.6 .5h.6m-.6 .4h.6m-.6 .2h.6m-.6 1h.6m-.6 .3h.6m-.6 .1h.6m-.6 .1h.6m-.6 .2h.6m-.6 1.7h.6m-.6 .5h.6m-.6 3h.6m-.5-9.2h.6m-.6 1.1h.6m-.6 .6h.6m-.6 .6h.6m-.6 .7h.6m-.6 1.1h.6m-.6 3.9h.6m-.5-7.6h.6m-.6 .4h.6m-.6 .4h.6m-.6 .9h.6m-.6 .5h.6m-.6 .4h.6m-.6 .2h.6m-.6 0h.6m-.6 .3h.6m-.6 .1h.6m-.6 .3h.6m-.6 .2h.6m-.6 1.4h.6m-.6 .8h.6m-.6 1.4h.6m-.6 .2h.6m-.5-12.6h.6m-.6 2h.6m-.6 1.5h.6m-.6 .2h.6m-.6 1.5h.6m-.6 2h.6m-.6 0h.6m-.6 .3h.6m-.6 .8h.6m-.6 .1h.6m-.6 .4h.6m-.6 .7h.6m-.6 .2h.6m-.6 .4h.6m-.6 2.8h.6m-.6 .3h.6m-.5-11.5h.6m-.6 2.1h.6m-.6 1.6h.6m-.6 .3h.6m-.6 .7h.6m-.6 .9h.6m-.6 .2h.6m-.6 .1h.6m-.6 0h.6m-.6 .8h.6m-.6 .1h.6m-.6 .1h.6m-.6 .2h.6m-.6 .2h.6m-.6 .8h.6m-.6 2.8h.6m-.5-8.1h.6m-.6 .7h.6m-.6 .7h.6m-.6 .8h.6m-.6 .3h.6m-.6 .1h.6m-.6 .5h.6m-.6 .7h.6m-.6 .2h.6m-.6 .7h.6m-.6 2.1h.6m-.6 1.7h.6m-.6 3.9h.6m-.5-14.4h.6m-.6 2.6h.6m-.6 1.1h.6m-.6 1.2h.6m-.6 .2h.6m-.6 .2h.6m-.6 1h.6m-.5-8.4h.6m-.6 1.4h.6m-.6 2.2h.6m-.6 1h.6m-.6 1.1h.6m-.6 .2h.6m-.6 2.3h.6m-.6 6.5h.6m-.5-13.5h.6m-.6 5.7h.6m-.6 .4h.6m-.6 .5h.6m-.6 .4h.6m-.6 0h.6m-.6 2.3h.6m-.6 .2h.6m-.5-6.5h.6m-.6 .3h.6m-.6 .5h.6m-.6 1.3h.6m-.6 .7h.6m-.6 3.2h.6m-.5-9h.6m-.6 1.3h.6m-.6 1.2h.6m-.6 1h.6m-.6 .2h.6m-.6 1.2h.6m-.6 .8h.6m-.6 .4h.6m-.6 .1h.6m-.6 .6h.6m-.6 .3h.6m-.6 2.7h.6m-.6 .4h.6m-.5-8.5h.6m-.6 .2h.6m-.6 1.8h.6m-.6 .3h.6m-.6 .1h.6m-.6 1.1h.6m-.6 .4h.6m-.6 1.4h.6m-.6 0h.6m-.5-7.7h.6m-.6 3.3h.6m-.6 .5h.6m-.6 .3h.6m-.6 0h.6m-.6 1.1h.6m-.6 .5h.6m-.6 .1h.6m-.6 3.6h.6m-.6 .1h.6m-.6 8.7h.6m-.5-19.7h.6m-.6 .7h.6m-.6 3.2h.6m-.6 .5h.6m-.6 .4h.6m-.6 .8h.6m-.6 .5h.6m-.6 0h.6m-.6 .3h.6m-.6 .4h.6m-.6 .1h.6m-.6 .9h.6m-.6 .2h.6m-.6 .2h.6m-.6 .1h.6m-.6 .4h.6m-.6 .3h.6m-.6 1.7h.6m-.6 .2h.6m-.6 .1h.6m-.5-7.3h.6m-.6 .8h.6m-.6 0h.6m-.6 .3h.6m-.6 .2h.6m-.6 .2h.6m-.6 1.5h.6m-.6 1.7h.6m-.6 6.7h.6m-.5-14.7h.6m-.6 4.1h.6m-.6 .4h.6m-.6 2.2h.6m-.6 .4h.6m-.6 .5h.6m-.6 .7h.6m-.6 .2h.6m-.6 .2h.6m-.6 .3h.6m-.6 .8h.6m-.6 .8h.6m-.5-8.8h.6m-.6 1.8h.6m-.6 .9h.6m-.6 2.2h.6m-.6 0h.6m-.6 .4h.6m-.6 .1h.6m-.6 .1h.6m-.6 1h.6m-.6 7.9h.6m-.5-13.4h.6m-.6 1.2h.6m-.6 .1h.6m-.6 .1h.6m-.6 1.1h.6m-.6 .1h.6m-.6 .4h.6m-.6 .5h.6m-.6 .3h.6m-.6 .5h.6m-.6 .2h.6m-.6 .5h.6m-.6 .3h.6m-.6 .7h.6m-.6 1.4h.6m-.5-7h.6m-.6 1.7h.6m-.6 .5h.6m-.6 1.9h.6m-.6 3.5h.6m-.6 5.5h.6m-.5-14h.6m-.6 1.1h.6m-.6 1.5h.6m-.6 .4h.6m-.6 0h.6m-.6 .2h.6m-.6 .2h.6m-.6 .1h.6m-.6 1.2h.6m-.6 .6h.6m-.6 .8h.6m-.6 .1h.6m-.6 .2h.6m-.6 2h.6m-.6 .2h.6m-.6 3.6h.6m-.5-14.9h.6m-.6 2.3h.6m-.6 1.2h.6m-.6 2h.6m-.6 .5h.6m-.6 .2h.6m-.6 1h.6m-.6 1.4h.6m-.6 .5h.6m-.6 .1h.6m-.6 .5h.6m-.6 1.4h.6m-.5-8.9h.6m-.6 1.3h.6m-.6 .3h.6m-.6 1h.6m-.6 .5h.6m-.6 1.1h.6m-.6 .1h.6m-.6 .5h.6m-.6 .7h.6m-.6 2.1h.6m-.6 2.7h.6m-.5-9.5h.6m-.6 .1h.6m-.6 .1h.6m-.6 2h.6m-.6 0h.6m-.6 .4h.6m-.6 .7h.6m-.6 .3h.6m-.6 .2h.6m-.6 .2h.6m-.6 2.4h.6m-.6 .4h.6m-.6 .1h.6m-.6 1.9h.6m-.5-9.6h.6m-.6 3.8h.6m-.6 2.1h.6m-.6 .2h.6m-.6 .4h.6m-.6 .1h.6m-.6 .8h.6m-.6 1h.6m-.6 2.2h.6m-.6 0h.6m-.5-7.7h.6m-.6 .1h.6m-.6 1.3h.6m-.6 7.5h.6m-.5-11.4h.6m-.6 3.1h.6m-.6 .3h.6m-.6 .2h.6m-.6 .3h.6m-.6 .3h.6m-.6 1.3h.6m-.6 .2h.6m-.6 .2h.6m-.6 .6h.6m-.6 1h.6m-.5-7.7h.6m-.6 .7h.6m-.6 3h.6m-.6 3.2h.6m-.6 .7h.6m-.6 0h.6m-.6 .6h.6m-.6 .5h.6m-.6 0h.6m-.6 1.1h.6m-.6 .1h.6m-.6 .6h.6m-.5-11.6h.6m-.6 .8h.6m-.6 .3h.6m-.6 .4h.6m-.6 .2h.6m-.6 0h.6m-.6 .8h.6m-.6 .2h.6m-.6 .2h.6m-.6 .1h.6m-.6 2.1h.6m-.6 .1h.6m-.6 .5h.6m-.6 .2h.6m-.6 .2h.6m-.6 1.2h.6m-.6 1.2h.6m-.5-2.6h.6m-.6 .3h.6m-.6 .9h.6m-.6 1.2h.6m-.5-9h.6m-.6 1.3h.6m-.6 .4h.6m-.6 1.2h.6m-.6 .6h.6m-.6 1.1h.6m-.6 .7h.6m-.6 .2h.6m-.6 0h.6m-.6 1.4h.6m-.6 .3h.6m-.6 1h.6m-.6 .6h.6m-.6 4.9h.6m-.5-11.3h.6m-.6 .7h.6m-.6 .2h.6m-.6 1.7h.6m-.6 .5h.6m-.6 1.3h.6m-.6 .7h.6m-.6 1.2h.6m-.6 1.1h.6m-.6 .6h.6m-.6 5.6h.6m-.5-12.8h.6m-.6 1.1h.6m-.6 .7h.6m-.6 .1h.6m-.6 .3h.6m-.6 .7h.6m-.6 .4h.6m-.6 .1h.6m-.6 .3h.6m-.6 .6h.6m-.6 .1h.6m-.6 1h.6m-.6 .5h.6m-.6 .3h.6m-.6 .7h.6m-.5-7.8h.6m-.6 1.6h.6m-.6 .4h.6m-.6 .1h.6m-.6 2.4h.6m-.6 .1h.6m-.6 1.3h.6m-.5-4.9h.6m-.6 .2h.6m-.6 .2h.6m-.6 .3h.6m-.6 .5h.6m-.6 1.5h.6m-.6 1.2h.6m-.6 .3h.6m-.6 .1h.6m-.6 0h.6m-.6 1.3h.6m-.6 .3h.6m-.6 3.3h.6m-.5-11.7h.6m-.6 1.9h.6m-.6 .9h.6m-.6 .5h.6m-.6 .5h.6m-.6 1.1h.6m-.6 .3h.6m-.6 0h.6m-.6 3.8h.6m-.5-6.6h.6m-.6 .2h.6m-.6 .9h.6m-.6 .1h.6m-.6 0h.6m-.6 .3h.6m-.6 .4h.6m-.6 .4h.6m-.6 .5h.6m-.6 .8h.6m-.6 2h.6m-.6 .3h.6m-.6 .4h.6m-.6 1h.6m-.5-9.5h.6m-.6 1.3h.6m-.6 1h.6m-.6 .7h.6m-.6 .4h.6m-.6 .9h.6m-.6 .1h.6m-.6 .3h.6m-.6 .6h.6m-.6 .9h.6m-.6 .4h.6m-.6 3.3h.6m-.6 .2h.6m-.5-7.1h.6m-.6 .9h.6m-.6 .4h.6m-.6 1.5h.6m-.6 1.6h.6m-.6 1.3h.6m-.6 .2h.6m-.6 .9h.6m-.6 0h.6m-.5-7.3h.6m-.6 .3h.6m-.6 .1h.6m-.6 1.3h.6m-.6 .5h.6m-.6 .3h.6m-.6 .2h.6m-.6 3.1h.6m-.6 .6h.6m-.6 1.9h.6m-.5-11.1h.6m-.6 2.7h.6m-.6 .3h.6m-.6 .6h.6m-.6 .1h.6m-.6 .2h.6m-.6 1.2h.6m-.6 .4h.6m-.6 1.2h.6m-.6 0h.6m-.6 .1h.6m-.6 1.4h.6m-.6 3.1h.6m-.5-9.8h.6m-.6 .2h.6m-.6 .6h.6m-.6 .1h.6m-.6 .7h.6m-.6 .4h.6m-.6 .5h.6m-.6 .2h.6m-.6 .5h.6m-.6 .3h.6m-.6 0h.6m-.6 .1h.6m-.6 2.7h.6m-.6 .7h.6m-.6 2.4h.6m-.5-8.4h.6m-.6 0h.6m-.6 .3h.6m-.6 .1h.6m-.6 1h.6m-.6 .5h.6m-.6 .5h.6m-.6 .7h.6m-.6 1.2h.6m-.6 1.7h.6m-.6 1.5h.6m-.6 4.3h.6m-.5-12.3h.6m-.6 1.1h.6m-.6 .4h.6m-.6 1.5h.6m-.6 .5h.6m-.6 1.1h.6m-.6 7.2h.6m-.5-11.3h.6m-.6 .9h.6m-.6 .5h.6m-.6 .1h.6m-.6 .4h.6m-.6 .4h.6m-.6 .3h.6m-.6 .4h.6m-.6 .5h.6m-.6 .6h.6m-.6 .3h.6m-.6 .2h.6m-.6 .4h.6m-.6 .3h.6m-.6 1.2h.6m-.6 2.6h.6m-.6 1.4h.6m-.6 2.9h.6m-.5-16.5h.6m-.6 .2h.6m-.6 1.9h.6m-.6 .3h.6m-.6 1.1h.6m-.6 .9h.6m-.6 .5h.6m-.6 .3h.6m-.6 .1h.6m-.6 1.6h.6m-.6 .1h.6m-.6 0h.6m-.6 .1h.6m-.6 .7h.6m-.6 4h.6m-.6 4.8h.6m-.5-13h.6m-.6 1.8h.6m-.6 .9h.6m-.6 .5h.6m-.6 1.6h.6m-.6 1.6h.6m-.5-9.4h.6m-.6 1.8h.6m-.6 .9h.6m-.6 .2h.6m-.6 .8h.6m-.6 0h.6m-.6 .9h.6m-.6 .6h.6m-.6 .2h.6m-.6 .2h.6m-.6 .3h.6m-.6 1.2h.6m-.5-8.7h.6m-.6 2.5h.6m-.6 1h.6m-.6 .1h.6m-.6 .5h.6m-.6 0h.6m-.6 .5h.6m-.6 1h.6m-.6 .1h.6m-.6 .5h.6m-.6 1.6h.6m-.6 1.6h.6m-.6 0h.6m-.6 .2h.6m-.6 7.1h.6m-.5-12h.6m-.6 .1h.6m-.6 0h.6m-.6 1.7h.6m-.6 1.1h.6m-.6 1.3h.6m-.6 1.2h.6m-.6 .1h.6m-.5-5.4h.6m-.6 .6h.6m-.6 .2h.6m-.6 .2h.6m-.6 1h.6m-.6 .7h.6m-.6 .5h.6m-.6 .2h.6m-.6 .5h.6m-.6 .6h.6m-.6 .3h.6m-.6 4.4h.6m-.5-13.2h.6m-.6 1.7h.6m-.6 2.2h.6m-.6 1h.6m-.6 1.5h.6m-.6 0h.6m-.6 .7h.6m-.6 1.2h.6m-.6 .7h.6m-.5-6.2h.6m-.6 .9h.6m-.6 3h.6m-.6 0h.6m-.6 1.4h.6m-.6 .2h.6m-.6 1.2h.6m-.5-10.6h.6m-.6 1.3h.6m-.6 3.9h.6m-.6 .4h.6m-.6 0h.6m-.6 1h.6m-.6 .1h.6m-.6 .4h.6m-.6 1.3h.6m-.6 .6h.6m-.6 .9h.6m-.6 .6h.6m-.6 1.4h.6m-.5-9.7h.6m-.6 2h.6m-.6 1.3h.6m-.6 .1h.6m-.6 .3h.6m-.6 0h.6m-.6 .6h.6m-.6 .1h.6m-.6 .3h.6m-.6 .1h.6m-.6 .2h.6m-.6 .4h.6m-.6 .5h.6m-.5-6h.6m-.6 .6h.6m-.6 1.4h.6m-.6 .6h.6m-.6 .6h.6m-.6 .9h.6m-.6 1.9h.6m-.6 .2h.6m-.6 1.2h.6m-.5-8h.6m-.6 1.3h.6m-.6 2.4h.6m-.6 0h.6m-.6 1.1h.6m-.6 .1h.6m-.6 1h.6m-.6 1.1h.6m-.6 .3h.6m-.6 .6h.6m-.6 1.1h.6m-.6 .1h.6m-.6 5.7h.6m-.5-15.4h.6m-.6 1.8h.6m-.6 .3h.6m-.6 1.4h.6m-.6 .5h.6m-.6 .4h.6m-.6 .6h.6m-.6 .4h.6m-.6 .4h.6m-.6 .2h.6m-.6 .6h.6m-.6 .1h.6m-.6 1.8h.6m-.6 1.3h.6m-.6 .5h.6m-.5-6.8h.6m-.6 .1h.6m-.6 1.2h.6m-.6 1.4h.6m-.6 .2h.6m-.6 0h.6m-.6 2.4h.6m-.6 .1h.6m-.6 .5h.6m-.5-9.1h.6m-.6 3.7h.6m-.6 .7h.6m-.6 .3h.6m-.6 .6h.6m-.6 0h.6m-.6 .7h.6m-.6 2.2h.6m-.6 .1h.6m-.6 2.5h.6m-.6 2.2h.6m-.5-9.7h.6m-.6 .2h.6m-.6 1.1h.6m-.6 .3h.6m-.6 .1h.6m-.6 .6h.6m-.6 .7h.6m-.6 1.6h.6m-.6 3.5h.6m-.6 2.4h.6m-.5-12.5h.6m-.6 2.3h.6m-.6 .9h.6m-.6 1.2h.6m-.6 .1h.6m-.6 .6h.6m-.6 0h.6m-.6 .4h.6m-.6 1h.6m-.6 .4h.6m-.5-6h.6m-.6 1h.6m-.6 3.1h.6m-.6 .7h.6m-.6 .2h.6m-.6 0h.6m-.6 .1h.6m-.6 .9h.6m-.6 0h.6m-.6 1.5h.6m-.5-8.5h.6m-.6 .1h.6m-.6 1.8h.6m-.6 2.6h.6m-.6 .3h.6m-.6 .3h.6m-.6 2.2h.6m-.6 1.5h.6m-.5-6.5h.6m-.6 .6h.6m-.6 0h.6m-.6 .8h.6m-.6 .2h.6m-.6 .1h.6m-.6 .4h.6m-.6 .1h.6m-.6 .5h.6m-.6 .4h.6m-.6 .8h.6m-.6 6.1h.6m-.5-11.3h.6m-.6 .7h.6m-.6 .7h.6m-.6 2.2h.6m-.6 .4h.6m-.6 .9h.6m-.6 .3h.6m-.5-5.8h.6m-.6 1.3h.6m-.6 2h.6m-.6 1.4h.6m-.6 .8h.6m-.6 1.8h.6m-.6 .4h.6m-.6 2.4h.6m-.5-9.5h.6m-.6 2.9h.6m-.6 .7h.6m-.6 0h.6m-.5-4.5h.6m-.6 .7h.6m-.6 .1h.6m-.6 .5h.6m-.6 .5h.6m-.6 .3h.6m-.6 1.2h.6m-.6 .1h.6m-.6 .9h.6m-.6 0h.6m-.6 .4h.6m-.6 2h.6m-.6 .1h.6m-.6 0h.6m-.5-5.1h.6m-.6 .5h.6m-.6 .3h.6m-.6 .9h.6m-.6 .5h.6m-.6 .6h.6m-.6 .4h.6m-.6 .1h.6m-.6 1.6h.6m-.6 .7h.6m-.6 .7h.6m-.5-8.4h.6m-.6 2.8h.6m-.6 1.5h.6m-.6 3.6h.6m-.6 1.9h.6m-.6 2.7h.6m-.6 .9h.6m-.5-13h.6m-.6 4.3h.6m-.6 0h.6m-.6 2h.6m-.6 1h.6m-.6 .1h.6m-.5-8.1h.6m-.6 1.8h.6m-.6 1.3h.6m-.6 1.1h.6m-.6 1.2h.6m-.6 .8h.6m-.5-5h.6m-.6 1.8h.6m-.6 1.1h.6m-.6 2.3h.6m-.6 .1h.6m-.6 0h.6m-.6 .1h.6m-.6 .2h.6m-.6 .2h.6m-.6 .9h.6m-.6 .1h.6m-.6 .8h.6m-.6 2.5h.6m-.6 .1h.6m-.5-10.1h.6m-.6 .5h.6m-.6 .4h.6m-.6 .3h.6m-.6 .6h.6m-.6 .2h.6m-.6 0h.6m-.6 .7h.6m-.6 1.5h.6m-.6 .2h.6m-.6 1h.6m-.6 .2h.6m-.6 1.4h.6m-.6 3.9h.6m-.5-8.4h.6m-.6 .1h.6m-.6 .2h.6m-.6 .9h.6m-.6 .6h.6m-.6 .2h.6m-.6 .4h.6m-.6 2.3h.6m-.5-9.1h.6m-.6 4h.6m-.6 1.8h.6m-.6 .6h.6m-.6 .8h.6m-.6 2.6h.6m-.5-8.8h.6m-.6 1.4h.6m-.6 1.1h.6m-.6 .6h.6m-.6 .3h.6m-.6 1.1h.6m-.6 1.5h.6m-.6 1h.6m-.5-8.5h.6m-.6 1.3h.6m-.6 1.8h.6m-.6 1.1h.6m-.6 .2h.6m-.6 .4h.6m-.6 .2h.6m-.6 1h.6m-.6 .8h.6m-.6 .3h.6m-.6 1h.6m-.6 3.2h.6m-.5-10h.6m-.6 1.6h.6m-.6 .5h.6m-.6 1.4h.6m-.6 1.2h.6m-.6 .1h.6m-.6 .6h.6m-.6 .8h.6m-.6 .8h.6m-.5-8.9h.6m-.6 3.3h.6m-.6 .4h.6m-.6 .3h.6m-.6 2.1h.6m-.6 .3h.6m-.6 1h.6m-.6 1.1h.6m-.6 .6h.6m-.5-5.4h.6m-.6 1.5h.6m-.6 .2h.6m-.6 1.3h.6m-.6 .1h.6m-.6 .6h.6m-.5-5.2h.6m-.6 .3h.6m-.6 .8h.6m-.6 .9h.6m-.6 .9h.6m-.6 1.4h.6m-.6 .6h.6m-.6 .3h.6m-.6 .3h.6m-.5-.9h.6m-.6 .6h.6m-.6 .1h.6m-.6 1.1h.6m-.6 1.3h.6m-.6 1.2h.6m-.5-7.2h.6m-.6 .3h.6m-.6 .9h.6m-.6 0h.6m-.6 .2h.6m-.6 .8h.6m-.6 .5h.6m-.6 2.3h.6m-.6 2.1h.6m-.6 1.7h.6m-.5-12.1h.6m-.6 .2h.6m-.6 3.9h.6m-.6 1.1h.6m-.5-1.8h.6m-.6 .2h.6m-.6 .7h.6m-.6 .7h.6m-.5-3.2h.6m-.6 1h.6m-.6 .5h.6m-.6 3.5h.6m-.6 .1h.6m-.6 1.5h.6m-.6 4.9h.6m-.5-10.3h.6m-.6 .2h.6m-.6 .3h.6m-.6 .6h.6m-.6 .1h.6m-.6 .1h.6m-.6 .3h.6m-.6 1.7h.6m-.6 1.9h.6m-.6 1.8h.6m-.6 1.4h.6m-.5-13.5h.6m-.6 2.6h.6m-.6 2.5h.6m-.6 4.2h.6m-.6 4.3h.6m-.5-7.3h.6m-.6 1.6h.6m-.6 1.1h.6m-.6 1.7h.6m-.5-7h.6m-.6 1.6h.6m-.6 0h.6m-.6 .2h.6m-.6 0h.6m-.6 1.3h.6m-.6 .8h.6m-.6 .6h.6m-.6 .1h.6m-.5-3.4h.6m-.6 .2h.6m-.6 .3h.6m-.6 1.9h.6m-.6 .7h.6m-.5-3.7h.6m-.6 .1h.6m-.6 .5h.6m-.6 2.3h.6m-.5-1.8h.6m-.6 2.3h.6m-.5-5.3h.6m-.6 .6h.6m-.6 1.5h.6m-.6 0h.6m-.6 .2h.6m-.6 4.2h.6m-.6 .8h.6m-.6 4h.6m-.5-8.9h.6m-.6 2.1h.6m-.6 .2h.6m-.6 4.2h.6m-.5-13.3h.6m-.6 5.6h.6m-.6 1.8h.6m-.6 .5h.6m-.6 2.6h.6m-.6 .7h.6m-.6 1.3h.6m-.6 .4h.6m-.6 .4h.6m-.6 .5h.6m-.5-8.1h.6m-.6 .1h.6m-.6 2.3h.6m-.6 .5h.6m-.6 4.8h.6m-.5-8.3h.6m-.6 1.9h.6m-.6 6.4h.6m-.6 .7h.6m-.6 5.3h.6m-.5-11.9h.6m-.6 0h.6m-.6 .6h.6m-.5-3.5h.6m-.6 1.7h.6m-.6 3.7h.6m-.6 .1h.6m-.6 3.1h.6m-.6 1.2h.6m-.5-8.3h.6m-.6 1h.6m-.6 1h.6m-.6 1.3h.6m-.5-4.2h.6m-.6 3.2h.6m-.6 .9h.6m-.6 .8h.6m-.6 .2h.6m-.6 2.1h.6m-.6 .8h.6m-.6 2.4h.6m-.5-7.2h.6m-.6 1.1h.6m-.6 1.2h.6m-.6 1.2h.6m-.6 .2h.6m-.5-2.2h.6m-.6 .2h.6m-.5-5h.6m-.6 1.2h.6m-.6 .1h.6m-.6 .8h.6m-.6 2.7h.6m-.6 .4h.6m-.5-6.9h.6m-.6 3.3h.6m-.6 1.8h.6m-.5-1.3h.6m-.6 5.1h.6m-.6 2.6h.6m-.5-4.1h.6m-.5-5.6h.6m-.6 3.4h.6m-.6 .2h.6m-.5-1h.6m-.6 5h.6m-.5-6.1h.6m-.6 6.3h.6m-.5-5.1h.6m-.6 1.3h.6m-.5 1.1h.6m-.6 3.1h.6m-.6 1.4h.6m-.5-12.3h.6m-.5 3.5h.6m-.6 2.5h.6m-.5 2.4h.6m-.6 1.1h.6m-.6 2h.6m-.5-11.9h.6m-.6 5h.6m-.6 2.7h.6m-.6 4h.6m-.5-7.8h.6m-.6 1h.6m-.6 1.9h.6m-.6 .7h.6m-.6 1.8h.6m-.4-6h.6m-.6 10.7h.6m-.5-8.7h.6m-.6 5.2h.6m-.5-4.2h.6m-.5-3.5h.6m-.6 3.2h.6m-.6 3.4h.6m-.5-5h.6m-.6 .9h.6m-.5-2.5h.6m-.6 3.2h.6m-.6 2.8h.6m-.5-.3h.6m-.4-1.2h.6m-.5-4.1h.6m-.3 6.2h.6m-.5-4.9h.6m-.6 2.4h.6m-.5 10.9h.6m-.4-18.3h.6m-.5 4.3h.6m-.3 3.9h.6m-.4-7.3h.6m-.5 11.2h.6m-.5-7.1h.6m-.5 8.5h.6m-.6 1.2h.6m-.5-1.8h.6m-.6 .2h.6m.2-5h.6m-.5-4.2h.6m-.5 4.5h.6m-.2-.1h.6m-.2 .3h.6m-.1 7.2h.6m-.4-3.4h.6m-.1-8.7h.6m-.4 2.1h.6m.6-2.8h.6m1.2 7.9h.6" stroke="#ea1f1f" stroke-width="0.6" stroke-opacity="0.8" fill="none"/>
<path d="m341.4 559.7h.6m4.7 2h.6m.6 2.3h.6m.3-3h.6m-.2-8.6h.6m.4 15.8h.6m.3-15.5h.6m-.5 9.1h.6m-.3 8.9h.6m-.3-8.2h.6m-.6 2.8h.6m.3-2.8h.6m-.1-10.3h.6m.4 22h.6m-.1-11.5h.6m-.6 3.3h.6m-.4 5.3h.6m-.1-6.8h.6m.4-4.7h.6m-.2 6.2h.6m-.1 2.4h.6m-.2 3.2h.6m.2 .4h.6m-.2-6h.6m.1 12.1h.6m-.4-10.1h.6m-.2 9.8h.6m.6-18h.6m.1 5.2h.6m1.6-.8h.6m-.6 .3h.6m.2 15.4h.6m.8 14.4h.6m1.4-4.2h.6m1.1-3.4h.6m.2 8h.6m-.2-7.8h.6m.3 13.4h.6m-.4-10h.6m-.6 .7h.6m-.5-5.3h.6m.3 10.3h.6m-.2-4.1h.6m.1 3.1h.6m-.4-1.1h.6m-.5-5.5h.6m.9 4.4h.6m-.4 .6h.6m1 .9h.6m-.1-10.2h.6m-.2 15h.6m-.5-13.2h.6m-.6 4.5h.6m0 3h.6m.7 0h.6m5-1.6h.6" stroke="#ea1f1f" stroke-width="0.6" stroke-opacity="0.4" fill="none"/>
<path d="M366 547.2L366 607.7" stroke="#cacaca" stroke-width="1.3"/>
<path d="M332.9 577.6L394 577.6" stroke="#cacaca" stroke-width="1.3"/>
<rect x="332.9" y="547.2" width="61.1" height="60.5" fill="none" stroke="#555" stroke-width="0.6"/>
<text transform="matrix(1 0 0 1.07 334.7 551.8)" font-size="3.3" fill="#333" class="m">Q2-UL(0.14%)</text>
<text transform="matrix(1 0 0 1.07 393 551.8)" font-size="3.3" text-anchor="end" fill="#333" class="m">Q2-UR(0.00%)</text>
<text transform="matrix(1 0 0 1.07 334.7 605.7)" font-size="3.3" fill="#333" class="m">Q2-LL(99.54%)</text>
<text transform="matrix(1 0 0 1.07 393 605.7)" font-size="3.3" text-anchor="end" fill="#333" class="m">Q2-LR(0.32%)</text>
<path d="M332.9 607.7L332.9 609.1" stroke="#444" stroke-width="0.4"/>
<text x="332.9" y="612.5" font-size="3.1" text-anchor="middle" fill="#333" class="m">10<tspan font-size="2.1" dy="-1.3">1</tspan></text>
<path d="M331.5 607.7L332.9 607.7" stroke="#444" stroke-width="0.4"/>
<text x="331.4" y="608.9" font-size="3.1" text-anchor="end" fill="#333" class="m">10<tspan font-size="2.1" dy="-1.3">1</tspan></text>
<path d="M348.17 607.7L348.17 609.1" stroke="#444" stroke-width="0.4"/>
<text x="348.17" y="612.5" font-size="3.1" text-anchor="middle" fill="#333" class="m">10<tspan font-size="2.1" dy="-1.3">2</tspan></text>
<path d="M331.5 592.58L332.9 592.58" stroke="#444" stroke-width="0.4"/>
<text x="331.4" y="593.78" font-size="3.1" text-anchor="end" fill="#333" class="m">10<tspan font-size="2.1" dy="-1.3">2</tspan></text>
<path d="M363.45 607.7L363.45 609.1" stroke="#444" stroke-width="0.4"/>
<text x="363.45" y="612.5" font-size="3.1" text-anchor="middle" fill="#333" class="m">10<tspan font-size="2.1" dy="-1.3">3</tspan></text>
<path d="M331.5 577.45L332.9 577.45" stroke="#444" stroke-width="0.4"/>
<text x="331.4" y="578.65" font-size="3.1" text-anchor="end" fill="#333" class="m">10<tspan font-size="2.1" dy="-1.3">3</tspan></text>
<path d="M378.73 607.7L378.73 609.1" stroke="#444" stroke-width="0.4"/>
<text x="378.73" y="612.5" font-size="3.1" text-anchor="middle" fill="#333" class="m">10<tspan font-size="2.1" dy="-1.3">4</tspan></text>
<path d="M331.5 562.33L332.9 562.33" stroke="#444" stroke-width="0.4"/>
<text x="331.4" y="563.53" font-size="3.1" text-anchor="end" fill="#333" class="m">10<tspan font-size="2.1" dy="-1.3">4</tspan></text>
<path d="M394 607.7L394 609.1" stroke="#444" stroke-width="0.4"/>
<text x="394" y="612.5" font-size="3.1" text-anchor="middle" fill="#333" class="m">10<tspan font-size="2.1" dy="-1.3">5</tspan></text>
<path d="M331.5 547.2L332.9 547.2" stroke="#444" stroke-width="0.4"/>
<text x="331.4" y="548.4" font-size="3.1" text-anchor="end" fill="#333" class="m">10<tspan font-size="2.1" dy="-1.3">5</tspan></text>
<path d="M337.5 607.7v.8M332.9 603.15h-.8M340.19 607.7v.8M332.9 600.48h-.8M342.1 607.7v.8M332.9 598.59h-.8M343.58 607.7v.8M332.9 597.13h-.8M344.79 607.7v.8M332.9 595.93h-.8M345.81 607.7v.8M332.9 594.92h-.8M346.69 607.7v.8M332.9 594.04h-.8M347.48 607.7v.8M332.9 593.27h-.8M352.77 607.7v.8M332.9 588.02h-.8M355.46 607.7v.8M332.9 585.36h-.8M357.37 607.7v.8M332.9 583.47h-.8M358.85 607.7v.8M332.9 582h-.8M360.06 607.7v.8M332.9 580.81h-.8M361.08 607.7v.8M332.9 579.79h-.8M361.97 607.7v.8M332.9 578.92h-.8M362.75 607.7v.8M332.9 578.14h-.8M368.05 607.7v.8M332.9 572.9h-.8M370.74 607.7v.8M332.9 570.23h-.8M372.65 607.7v.8M332.9 568.34h-.8M374.13 607.7v.8M332.9 566.88h-.8M375.34 607.7v.8M332.9 565.68h-.8M376.36 607.7v.8M332.9 564.67h-.8M377.24 607.7v.8M332.9 563.79h-.8M378.03 607.7v.8M332.9 563.02h-.8M383.32 607.7v.8M332.9 557.77h-.8M386.01 607.7v.8M332.9 555.11h-.8M387.92 607.7v.8M332.9 553.22h-.8M389.4 607.7v.8M332.9 551.75h-.8M390.61 607.7v.8M332.9 550.56h-.8M391.63 607.7v.8M332.9 549.54h-.8M392.52 607.7v.8M332.9 548.67h-.8M393.3 607.7v.8M332.9 547.89h-.8" stroke="#555" stroke-width=".3" fill="none"/>
<text transform="matrix(1 0 0 1.07 363.45 616.9)" font-size="3.2" text-anchor="middle" fill="#333" class="m">CD206 APC-A</text>
<text transform="matrix(0 -1.07 1 0 325.97 577.45)" font-size="2.99" text-anchor="middle" fill="#333" class="m">CD86 FITC-A</text>
<text transform="matrix(1 0 0 1.07 361.85 545.7)" font-size="3" text-anchor="middle" fill="#333" class="m">1.2 : P1</text>
<ellipse cx="281" cy="683" rx="8.2" ry="3.2" transform="rotate(-2.29 281 683)" fill="#ea1c1c" fill-opacity="0.95" filter="url(#blc)"/>
<path d="m259 680.1h.6m.2-.6h.6m.2 7.3h.6m-.4-1.4h.6m-.6 2.9h.6m-.4-14.1h.6m-.5 7.3h.6m-.3-2.9h.6m-.5 4.9h.6m-.6 1.4h.6m-.3 0h.6m-.5-5.6h.6m-.6 10.4h.6m-.4-3.6h.6m-.4-5.2h.6m-.5 .5h.6m-.3 4.6h.6m-.4-10.7h.6m-.5 11.9h.6m-.5-5.9h.6m-.6 5h.6m-.6 2.2h.6m-.5-2.6h.6m-.5-10.3h.6m-.6 1.9h.6m.1 9.9h.6m-.4-6.5h.6m-.5 7.1h.6m-.5-6.3h.6m-.6 5.5h.6m-.6 3h.6m-.5-8.5h.6m-.6 4h.6m-.6 .6h.6m-.6 .6h.6m-.5-6.6h.6m-.5 3.6h.6m-.6 3.4h.6m-.5-4.8h.6m-.6 2.1h.6m-.6 8.3h.6m-.6 .3h.6m-.4-12h.6m-.5-.5h.6m-.5-1.2h.6m-.5 4.2h.6m-.5-3.8h.6m-.3 2.7h.6m-.5 2h.6m-.6 1.8h.6m-.5 .3h.6m-.5-2.1h.6m-.6 1.2h.6m-.4 3.1h.6m-.6 .3h.6m-.5-8.3h.6m-.6 2.2h.6m-.5 2.8h.6m-.5-2.8h.6m-.6 2.2h.6m-.4-1.6h.6m-.5 2.9h.6m-.5-1.8h.6m-.5 .4h.6m-.5-3.7h.6m-.5-.4h.6m-.5-2.7h.6m-.6 7.7h.6m-.5-3.7h.6m-.6 9.1h.6m-.5-1.4h.6m-.5-9.8h.6m-.6 3.1h.6m-.6 1h.6m-.6 .6h.6m-.6 3.1h.6m-.5-10.9h.6m-.6 4.8h.6m-.6 1.4h.6m-.6 1h.6m-.5-5.8h.6m-.6 9h.6m-.5-9.6h.6m-.6 .4h.6m-.5 7.2h.6m-.6 .4h.6m-.5-3.1h.6m-.4 1.1h.6m-.6 3.6h.6m-.5-6.4h.6m-.6 3.7h.6m-.6 .5h.6m-.3-4.8h.6m-.6 6.8h.6m-.5-12.6h.6m-.6 6.1h.6m-.6 0h.6m-.6 .4h.6m-.5 .9h.6m-.6 5.6h.6m-.6 2.1h.6m-.5-8.5h.6m-.6 .9h.6m-.6 3.4h.6m-.5-3.5h.6m-.6 .1h.6m-.6 1.4h.6m-.6 .4h.6m-.6 1h.6m-.6 1h.6m-.5-.8h.6m-.6 0h.6m-.6 2.7h.6m-.5-6.9h.6m-.6 2.9h.6m-.5-.8h.6m-.6 1.1h.6m-.6 0h.6m-.6 .3h.6m-.6 2h.6m-.4-8.4h.6m-.6 2.1h.6m-.6 7.4h.6m-.5-10.4h.6m-.6 9h.6m-.5-4.1h.6m-.6 .8h.6m-.6 .3h.6m-.6 .9h.6m-.6 3.6h.6m-.4-11.6h.6m-.6 4.1h.6m-.6 .3h.6m-.6 7.1h.6m-.5-5.4h.6m-.6 6.3h.6m-.5-6.1h.6m-.6 3.7h.6m-.6 1.6h.6m-.6 1.1h.6m-.5-9.5h.6m-.6 2.6h.6m-.6 10h.6m-.5-12.8h.6m-.6 3.8h.6m-.6 .4h.6m-.5-3h.6m-.6 1.9h.6m-.6 5.3h.6m-.6 0h.6m-.5-5.5h.6m-.6 .9h.6m-.6 1.3h.6m-.6 1.4h.6m-.4-4.8h.6m-.6 2.3h.6m-.6 1h.6m-.5-5.5h.6m-.6 4.7h.6m-.5-1.1h.6m-.6 2h.6m-.5-5.9h.6m-.6 1h.6m-.6 6.9h.6m-.6 1.1h.6m-.5-6.4h.6m-.6 4.3h.6m-.6 .2h.6m-.6 4.1h.6m-.6 3.8h.6m-.5-13.7h.6m-.6 .2h.6m-.6 2.6h.6m-.6 4.6h.6m-.5-5h.6m-.6 .9h.6m-.5-2h.6m-.6 2h.6m-.5-1.3h.6m-.6 6.2h.6m-.6 1.9h.6m-.5-11.1h.6m-.6 2.6h.6m-.6 1.5h.6m-.6 .9h.6m-.6 .2h.6m-.6 .7h.6m-.6 2.3h.6m-.6 5h.6m-.5-8h.6m-.6 2.7h.6m-.5-5.6h.6m-.6 3.9h.6m-.6 .4h.6m-.6 .4h.6m-.5-7h.6m-.6 2.4h.6m-.6 1.2h.6m-.6 1.8h.6m-.6 .8h.6m-.6 .3h.6m-.6 1h.6m-.6 .5h.6m-.6 3.2h.6m-.5-40.7h.6m-.6 33.2h.6m-.6 1.8h.6m-.6 0h.6m-.6 1.5h.6m-.6 0h.6m-.5-4.5h.6m-.6 .8h.6m-.6 .7h.6m-.6 .1h.6m-.6 .5h.6m-.6 4.6h.6m-.5-29.7h.6m-.6 22h.6m-.6 .8h.6m-.6 1.5h.6m-.6 3.7h.6m-.6 .6h.6m-.5-5.9h.6m-.6 1.1h.6m-.6 4.6h.6m-.6 4.2h.6m-.6 1.3h.6m-.5-38.1h.6m-.6 27.4h.6m-.6 2.4h.6m-.6 1h.6m-.6 2.7h.6m-.5-5.5h.6m-.6 1.4h.6m-.6 .3h.6m-.6 .3h.6m-.5-1.1h.6m-.6 0h.6m-.5 .3h.6m-.6 2.1h.6m-.6 2.1h.6m-.6 2.6h.6m-.5-7.5h.6m-.6 .9h.6m-.6 3.4h.6m-.5-7.4h.6m-.6 2.2h.6m-.6 .1h.6m-.6 .6h.6m-.6 0h.6m-.6 .5h.6m-.6 1.8h.6m-.5-3h.6m-.6 3.7h.6m-.6 2.5h.6m-.5-6.2h.6m-.6 .8h.6m-.6 .6h.6m-.6 .4h.6m-.6 .3h.6m-.6 1.2h.6m-.6 1.4h.6m-.5-3.4h.6m-.6 .1h.6m-.6 .6h.6m-.6 3h.6m-.6 .5h.6m-.5-31.6h.6m-.6 17h.6m-.6 7.5h.6m-.6 .8h.6m-.6 1h.6m-.6 3.4h.6m-.6 .4h.6m-.6 .2h.6m-.6 .8h.6m-.5-5.5h.6m-.6 3.8h.6m-.6 1.7h.6m-.6 .7h.6m-.6 1.7h.6m-.5-9.7h.6m-.6 6.7h.6m-.6 .2h.6m-.6 .4h.6m-.5-27.7h.6m-.6 20.6h.6m-.6 .3h.6m-.6 9.6h.6m-.6 1.7h.6m-.5-32.1h.6m-.6 21.7h.6m-.6 .9h.6m-.6 .8h.6m-.6 .5h.6m-.6 .8h.6m-.6 1.1h.6m-.6 .2h.6m-.5-7.7h.6m-.6 2.3h.6m-.6 1.5h.6m-.6 1.1h.6m-.6 1.3h.6m-.6 .8h.6m-.5-7.6h.6m-.6 3.3h.6m-.6 2.1h.6m-.6 .7h.6m-.6 .1h.6m-.6 4.5h.6m-.6 3.2h.6m-.5-31.2h.6m-.6 17.8h.6m-.6 4.7h.6m-.6 .5h.6m-.6 .4h.6m-.6 .9h.6m-.6 .7h.6m-.5-6.5h.6m-.6 2.7h.6m-.6 1.4h.6m-.6 .3h.6m-.6 2.5h.6m-.6 .8h.6m-.6 5.1h.6m-.5-8.2h.6m-.6 .3h.6m-.6 1.3h.6m-.6 2.7h.6m-.5-30.2h.6m-.6 25.1h.6m-.6 .4h.6m-.6 4.6h.6m-.6 2h.6m-.5-32h.6m-.6 20h.6m-.6 .6h.6m-.6 1.4h.6m-.6 .7h.6m-.6 2.3h.6m-.6 0h.6m-.6 1.8h.6m-.6 .4h.6m-.6 .9h.6m-.5-6.8h.6m-.6 .1h.6m-.6 3.1h.6m-.6 .2h.6m-.5-21.7h.6m-.6 20.6h.6m-.6 1.1h.6m-.6 2.5h.6m-.6 1h.6m-.6 1.9h.6m-.6 .3h.6m-.5-32.3h.6m-.6 26.8h.6m-.6 .2h.6m-.6 1.1h.6m-.6 1.4h.6m-.6 2.5h.6m-.6 .2h.6m-.5-31.7h.6m-.6 20.9h.6m-.6 1.5h.6m-.6 1.4h.6m-.6 1.8h.6m-.6 1h.6m-.6 .1h.6m-.6 2.8h.6m-.5-1.3h.6m-.6 .9h.6m-.5-6.3h.6m-.6 0h.6m-.6 2.9h.6m-.6 1h.6m-.6 .5h.6m-.6 .1h.6m-.6 .3h.6m-.6 .4h.6m-.6 .7h.6m-.6 .1h.6m-.6 1.3h.6m-.6 2.6h.6m-.6 1.7h.6m-.5-6.2h.6m-.6 1.3h.6m-.6 1.4h.6m-.5-6.4h.6m-.6 .4h.6m-.6 .6h.6m-.6 .5h.6m-.6 .2h.6m-.6 1.1h.6m-.6 .3h.6m-.6 .1h.6m-.6 .2h.6m-.6 .6h.6m-.6 .5h.6m-.6 1.4h.6m-.6 3.8h.6m-.5-37.1h.6m-.6 .1h.6m-.6 27.8h.6m-.6 .5h.6m-.6 2.7h.6m-.6 0h.6m-.5-26h.6m-.6 24.4h.6m-.6 .8h.6m-.6 1.9h.6m-.6 .3h.6m-.6 1.1h.6m-.6 1h.6m-.6 1.6h.6m-.5-36.1h.6m-.6 28.1h.6m-.6 .7h.6m-.6 3.1h.6m-.6 .3h.6m-.6 3.3h.6m-.6 .5h.6m-.5-37.3h.6m-.6 27.2h.6m-.6 .5h.6m-.6 1.2h.6m-.6 .2h.6m-.6 2.2h.6m-.6 .1h.6m-.6 .5h.6m-.6 .7h.6m-.6 1.4h.6m-.5-27.5h.6m-.6 18.9h.6m-.6 6.9h.6m-.6 0h.6m-.6 0h.6m-.6 .5h.6m-.6 0h.6m-.6 1h.6m-.6 2.3h.6m-.6 .6h.6m-.6 2.5h.6m-.5-17.2h.6m-.6 2.9h.6m-.6 6.6h.6m-.6 .3h.6m-.6 1.8h.6m-.6 .6h.6m-.6 3.2h.6m-.5-10.7h.6m-.6 1.3h.6m-.6 3.1h.6m-.6 1h.6m-.6 2.8h.6m-.6 .5h.6m-.5-31.4h.6m-.6 24.1h.6m-.6 3.2h.6m-.6 .2h.6m-.6 1.4h.6m-.6 0h.6m-.6 1.4h.6m-.6 0h.6m-.6 .8h.6m-.6 .1h.6m-.5-31.3h.6m-.6 22.1h.6m-.6 5.8h.6m-.6 .9h.6m-.6 .4h.6m-.6 2.7h.6m-.6 3.4h.6m-.5-16.2h.6m-.6 5.8h.6m-.6 .6h.6m-.6 .7h.6m-.6 .1h.6m-.6 2.5h.6m-.6 .2h.6m-.6 3.3h.6m-.5-36.9h.6m-.6 7.6h.6m-.6 22.6h.6m-.6 1.2h.6m-.6 .8h.6m-.6 2.1h.6m-.6 1h.6m-.5-29.8h.6m-.6 1.1h.6m-.6 23.6h.6m-.6 .4h.6m-.6 4.1h.6m-.6 .4h.6m-.6 .3h.6m-.6 1.9h.6m-.6 2.2h.6m-.5-12.8h.6m-.6 1.2h.6m-.6 .5h.6m-.6 .2h.6m-.6 2.9h.6m-.6 1.3h.6m-.6 .7h.6m-.6 .5h.6m-.6 .7h.6m-.5-32.1h.6m-.6 26.6h.6m-.6 1.6h.6m-.6 .2h.6m-.6 1.2h.6m-.6 1.4h.6m-.6 .4h.6m-.6 .5h.6m-.6 .7h.6m-.6 2.1h.6m-.5-33.6h.6m-.6 2.4h.6m-.6 24h.6m-.6 2h.6m-.6 .8h.6m-.6 .2h.6m-.6 .4h.6m-.6 1.7h.6m-.5-6.3h.6m-.6 2.8h.6m-.6 .9h.6m-.6 0h.6m-.6 .1h.6m-.6 .1h.6m-.6 1.2h.6m-.6 1h.6m-.6 .1h.6m-.6 .1h.6m-.6 .3h.6m-.6 .4h.6m-.6 .2h.6m-.5-33.2h.6m-.6 3.9h.6m-.6 20.8h.6m-.6 2.4h.6m-.6 1.5h.6m-.6 1.4h.6m-.6 2.8h.6m-.5-28.3h.6m-.6 20.1h.6m-.6 2.8h.6m-.6 1.6h.6m-.6 1.2h.6m-.6 .8h.6m-.6 .9h.6m-.6 .7h.6m-.6 .7h.6m-.6 4.2h.6m-.6 .4h.6m-.5-30.5h.6m-.6 17.1h.6m-.6 3.9h.6m-.6 .4h.6m-.6 1.3h.6m-.6 .1h.6m-.6 .3h.6m-.6 .2h.6m-.6 5.3h.6m-.5-32.9h.6m-.6 2.1h.6m-.6 18.3h.6m-.6 2.2h.6m-.6 1.1h.6m-.6 .9h.6m-.6 .6h.6m-.6 0h.6m-.6 .4h.6m-.6 .1h.6m-.6 .3h.6m-.6 .1h.6m-.6 .2h.6m-.6 .1h.6m-.6 2.4h.6m-.6 .2h.6m-.5-7h.6m-.6 0h.6m-.6 1.9h.6m-.6 .7h.6m-.6 .1h.6m-.6 .5h.6m-.6 .6h.6m-.6 .6h.6m-.6 1.1h.6m-.6 .5h.6m-.6 .2h.6m-.6 .2h.6m-.6 .5h.6m-.6 1.2h.6m-.6 5.2h.6m-.5-34.4h.6m-.6 23.3h.6m-.6 .1h.6m-.6 .9h.6m-.6 1.2h.6m-.6 .3h.6m-.6 2h.6m-.6 .3h.6m-.6 .6h.6m-.6 .4h.6m-.6 1.2h.6m-.5-37.7h.6m-.6 3.9h.6m-.6 7.4h.6m-.6 18.2h.6m-.6 .7h.6m-.6 .7h.6m-.6 .1h.6m-.6 1.2h.6m-.6 .6h.6m-.6 .5h.6m-.6 .2h.6m-.6 .2h.6m-.6 1h.6m-.6 .6h.6m-.6 0h.6m-.6 .6h.6m-.6 .3h.6m-.6 2.7h.6m-.6 1.1h.6m-.5-35.3h.6m-.6 2.9h.6m-.6 24.1h.6m-.6 .3h.6m-.6 .8h.6m-.6 1.2h.6m-.6 3.6h.6m-.6 .2h.6m-.5-32.4h.6m-.6 6.4h.6m-.6 16.4h.6m-.6 2.5h.6m-.6 1.5h.6m-.6 .3h.6m-.6 .3h.6m-.6 .5h.6m-.6 1.3h.6m-.6 .5h.6m-.5-28.9h.6m-.6 1h.6m-.6 .2h.6m-.6 1.2h.6m-.6 22.1h.6m-.6 0h.6m-.6 .5h.6m-.6 0h.6m-.6 2h.6m-.6 1.9h.6m-.6 2.1h.6m-.6 1.1h.6m-.6 1h.6m-.5-34.3h.6m-.6 6.3h.6m-.6 .8h.6m-.6 18.5h.6m-.6 .5h.6m-.6 .9h.6m-.6 .7h.6m-.6 1.9h.6m-.6 .6h.6m-.6 .2h.6m-.6 2.3h.6m-.6 .3h.6m-.5-33.1h.6m-.6 .1h.6m-.6 19.8h.6m-.6 3.3h.6m-.6 8h.6m-.6 .2h.6m-.6 .4h.6m-.6 .6h.6m-.6 1.2h.6m-.5-38.2h.6m-.6 2.8h.6m-.6 .2h.6m-.6 30.7h.6m-.6 5.7h.6m-.5-37.7h.6m-.6 1.9h.6m-.6 26.6h.6m-.6 2h.6m-.6 .7h.6m-.6 .7h.6m-.6 .7h.6m-.6 .4h.6m-.6 .2h.6m-.6 .4h.6m-.6 .1h.6m-.6 1.7h.6m-.6 .1h.6m-.5-30.7h.6m-.6 22.7h.6m-.6 1.6h.6m-.6 1.2h.6m-.6 .1h.6m-.6 .1h.6m-.6 .3h.6m-.6 0h.6m-.6 0h.6m-.6 .8h.6m-.6 .2h.6m-.6 1.3h.6m-.6 .8h.6m-.6 3.1h.6m-.6 0h.6m-.5-36.1h.6m-.6 .9h.6m-.6 25.7h.6m-.6 .6h.6m-.6 1.2h.6m-.6 .9h.6m-.6 .5h.6m-.6 .8h.6m-.6 .8h.6m-.6 .1h.6m-.6 .6h.6m-.6 .7h.6m-.6 1.3h.6m-.6 1.8h.6m-.5-35.7h.6m-.6 5.4h.6m-.6 2.6h.6m-.6 18.4h.6m-.6 .9h.6m-.6 .2h.6m-.6 1.9h.6m-.6 .1h.6m-.6 1.3h.6m-.6 2.2h.6m-.6 .4h.6m-.6 .4h.6m-.6 1.9h.6m-.5-10.3h.6m-.6 .5h.6m-.6 1.2h.6m-.6 .6h.6m-.6 .4h.6m-.6 .7h.6m-.6 .4h.6m-.6 0h.6m-.6 .3h.6m-.6 2.9h.6m-.6 .6h.6m-.6 .4h.6m-.6 1.5h.6m-.5-35.2h.6m-.6 26.6h.6m-.6 1h.6m-.6 .7h.6m-.6 .1h.6m-.6 .2h.6m-.6 1.1h.6m-.6 1h.6m-.6 .6h.6m-.6 0h.6m-.6 .5h.6m-.6 .1h.6m-.6 0h.6m-.6 .7h.6m-.6 .1h.6m-.6 .7h.6m-.6 .2h.6m-.5-30h.6m-.6 3.5h.6m-.6 2.3h.6m-.6 22.1h.6m-.6 .6h.6m-.6 0h.6m-.6 .3h.6m-.6 0h.6m-.6 .1h.6m-.6 .7h.6m-.6 .6h.6m-.5-31.7h.6m-.6 24.8h.6m-.6 2.4h.6m-.6 1.4h.6m-.6 1.5h.6m-.6 .5h.6m-.6 1.6h.6m-.5-37.6h.6m-.6 2.8h.6m-.6 .2h.6m-.6 10.2h.6m-.6 2.1h.6m-.6 .7h.6m-.6 16.4h.6m-.6 1.9h.6m-.6 1.7h.6m-.6 .1h.6m-.6 .1h.6m-.6 .5h.6m-.6 1.6h.6m-.5-37h.6m-.6 2.4h.6m-.6 2.9h.6m-.6 2.4h.6m-.6 21.2h.6m-.6 .5h.6m-.6 1.1h.6m-.6 .2h.6m-.6 1.8h.6m-.6 .3h.6m-.6 .2h.6m-.6 .2h.6m-.6 .4h.6m-.6 .5h.6m-.6 1.4h.6m-.5-28.9h.6m-.6 .5h.6m-.6 17.6h.6m-.6 7.8h.6m-.6 1.4h.6m-.6 1.6h.6m-.5-32h.6m-.6 1h.6m-.6 .8h.6m-.6 5.9h.6m-.6 15.3h.6m-.6 4.3h.6m-.6 0h.6m-.6 .3h.6m-.6 .2h.6m-.6 .3h.6m-.6 .5h.6m-.6 .2h.6m-.6 .3h.6m-.6 .2h.6m-.6 .2h.6m-.6 1.4h.6m-.6 0h.6m-.6 .7h.6m-.5-28.7h.6m-.6 21.3h.6m-.6 1.5h.6m-.6 .2h.6m-.6 .6h.6m-.6 .6h.6m-.6 .9h.6m-.6 2.3h.6m-.6 .1h.6m-.6 1.9h.6m-.6 1.4h.6m-.5-9.9h.6m-.6 .9h.6m-.6 1.8h.6m-.6 .6h.6m-.6 .9h.6m-.6 .2h.6m-.6 1.5h.6m-.6 .9h.6m-.6 1.2h.6m-.6 .4h.6m-.6 2.7h.6m-.5-36.4h.6m-.6 1.6h.6m-.6 21.3h.6m-.6 4.8h.6m-.6 .1h.6m-.6 .3h.6m-.6 1.5h.6m-.6 .1h.6m-.6 .3h.6m-.6 .4h.6m-.6 .3h.6m-.6 .4h.6m-.6 .7h.6m-.6 1.1h.6m-.5-31.4h.6m-.6 .9h.6m-.6 5.2h.6m-.6 12.6h.6m-.6 7.8h.6m-.6 .7h.6m-.6 .5h.6m-.6 .6h.6m-.6 1.3h.6m-.6 .5h.6m-.6 .2h.6m-.6 0h.6m-.6 .5h.6m-.6 .5h.6m-.5-31.5h.6m-.6 .1h.6m-.6 22.4h.6m-.6 4.3h.6m-.6 .1h.6m-.6 1.1h.6m-.6 .6h.6m-.6 0h.6m-.6 .1h.6m-.6 .7h.6m-.6 .2h.6m-.6 1h.6m-.6 .2h.6m-.6 .2h.6m-.6 1.3h.6m-.6 1.5h.6m-.5-38.7h.6m-.6 .1h.6m-.6 3.5h.6m-.6 1.6h.6m-.6 3h.6m-.6 .9h.6m-.6 21.3h.6m-.6 1.4h.6m-.6 .7h.6m-.6 .2h.6m-.6 .4h.6m-.6 .4h.6m-.6 7.2h.6m-.6 .3h.6m-.5-37.9h.6m-.6 3.2h.6m-.6 22.4h.6m-.6 2.1h.6m-.6 1.1h.6m-.6 .4h.6m-.6 0h.6m-.6 2.2h.6m-.6 0h.6m-.6 .4h.6m-.6 1.1h.6m-.6 3.1h.6m-.6 6.3h.6m-.5-38.5h.6m-.6 .4h.6m-.6 4.1h.6m-.6 1.3h.6m-.6 18.2h.6m-.6 1.9h.6m-.6 .9h.6m-.6 1h.6m-.6 .8h.6m-.6 .8h.6m-.5-29.8h.6m-.6 3.5h.6m-.6 .5h.6m-.6 .5h.6m-.6 18.8h.6m-.6 .3h.6m-.6 .5h.6m-.6 .5h.6m-.6 .9h.6m-.6 0h.6m-.6 1.4h.6m-.6 .2h.6m-.6 1h.6m-.6 .7h.6m-.6 .2h.6m-.6 .3h.6m-.6 .3h.6m-.6 .4h.6m-.6 .1h.6m-.6 0h.6m-.6 1.1h.6m-.6 5h.6m-.5-33.3h.6m-.6 3h.6m-.6 19h.6m-.6 .3h.6m-.6 .1h.6m-.6 1h.6m-.6 1.9h.6m-.6 2.7h.6m-.5-25h.6m-.6 17h.6m-.6 .3h.6m-.6 1.4h.6m-.6 .1h.6m-.6 .8h.6m-.6 1.1h.6m-.6 .1h.6m-.6 .9h.6m-.6 .9h.6m-.6 0h.6m-.6 3.8h.6m-.5-35.7h.6m-.6 3.4h.6m-.6 1.3h.6m-.6 4.8h.6m-.6 19h.6m-.6 .1h.6m-.6 2h.6m-.6 .3h.6m-.6 .3h.6m-.6 .1h.6m-.6 .2h.6m-.6 1.4h.6m-.6 0h.6m-.6 .1h.6m-.6 .3h.6m-.6 5h.6m-.5-39h.6m-.6 1h.6m-.6 .4h.6m-.6 5.6h.6m-.6 3.1h.6m-.6 1.4h.6m-.6 14.5h.6m-.6 .8h.6m-.6 .4h.6m-.6 1.4h.6m-.6 .1h.6m-.6 1.4h.6m-.6 .3h.6m-.6 .1h.6m-.6 .4h.6m-.6 .1h.6m-.6 1.6h.6m-.6 .2h.6m-.6 2.5h.6m-.5-31.9h.6m-.6 2.1h.6m-.6 18.1h.6m-.6 4.7h.6m-.6 1.2h.6m-.6 0h.6m-.6 2.2h.6m-.6 .3h.6m-.6 .6h.6m-.6 .5h.6m-.6 .2h.6m-.6 .7h.6m-.6 .4h.6m-.6 .7h.6m-.6 .9h.6m-.5-7.8h.6m-.6 .2h.6m-.6 .4h.6m-.6 .4h.6m-.6 .3h.6m-.6 .3h.6m-.6 .2h.6m-.6 1.3h.6m-.6 .1h.6m-.6 .1h.6m-.6 0h.6m-.6 .8h.6m-.6 1.3h.6m-.6 .9h.6m-.6 .5h.6m-.5-32h.6m-.6 .5h.6m-.6 3.4h.6m-.6 17.9h.6m-.6 3h.6m-.6 1.3h.6m-.6 .6h.6m-.6 1.6h.6m-.6 .1h.6m-.6 .8h.6m-.6 .2h.6m-.6 .2h.6m-.6 1.8h.6m-.6 .9h.6m-.6 .7h.6m-.5-33.5h.6m-.6 .7h.6m-.6 .7h.6m-.6 5.9h.6m-.6 14.5h.6m-.6 3.8h.6m-.6 .4h.6m-.6 .4h.6m-.6 .3h.6m-.6 .4h.6m-.6 .4h.6m-.6 0h.6m-.6 1.8h.6m-.6 .3h.6m-.6 .5h.6m-.6 .4h.6m-.6 .2h.6m-.6 .7h.6m-.6 0h.6m-.6 .3h.6m-.6 .4h.6m-.6 1h.6m-.6 .9h.6m-.5-7.8h.6m-.6 .4h.6m-.6 1.3h.6m-.6 .3h.6m-.6 .1h.6m-.6 .1h.6m-.6 .3h.6m-.6 1.2h.6m-.6 .4h.6m-.6 0h.6m-.6 .2h.6m-.6 .4h.6m-.6 1.6h.6m-.6 0h.6m-.6 2.8h.6m-.5-36.8h.6m-.6 8.4h.6m-.6 17.9h.6m-.6 1h.6m-.6 .8h.6m-.6 .8h.6m-.6 1.2h.6m-.6 0h.6m-.6 .8h.6m-.6 .3h.6m-.6 .1h.6m-.6 .3h.6m-.6 .8h.6m-.6 2.1h.6m-.5-34.5h.6m-.6 3.8h.6m-.6 .4h.6m-.6 3.7h.6m-.6 13.9h.6m-.6 .3h.6m-.6 1.2h.6m-.6 .5h.6m-.6 3.1h.6m-.6 .4h.6m-.6 .2h.6m-.6 2.3h.6m-.6 .9h.6m-.6 1.6h.6m-.6 1.1h.6m-.6 3.8h.6m-.6 0h.6m-.5-35.7h.6m-.6 1.4h.6m-.6 2.5h.6m-.6 22.8h.6m-.6 1.3h.6m-.6 .4h.6m-.6 .9h.6m-.6 .6h.6m-.6 .1h.6m-.6 2.4h.6m-.6 1h.6m-.5-35.2h.6m-.6 3.6h.6m-.6 21.2h.6m-.6 1.2h.6m-.6 1.9h.6m-.6 .8h.6m-.6 .7h.6m-.6 .3h.6m-.6 .3h.6m-.6 .6h.6m-.6 .8h.6m-.6 .1h.6m-.6 .2h.6m-.6 0h.6m-.6 .5h.6m-.6 0h.6m-.6 1.4h.6m-.5-28.7h.6m-.6 23h.6m-.6 .2h.6m-.6 .2h.6m-.6 2.5h.6m-.6 .1h.6m-.6 .3h.6m-.6 0h.6m-.6 .2h.6m-.6 .2h.6m-.6 0h.6m-.6 .4h.6m-.6 .2h.6m-.6 1.8h.6m-.6 2.6h.6m-.5-33h.6m-.6 1.2h.6m-.6 1.7h.6m-.6 20.2h.6m-.6 3.2h.6m-.6 1.7h.6m-.6 .7h.6m-.6 .7h.6m-.6 1.3h.6m-.6 5.8h.6m-.5-15.3h.6m-.6 4h.6m-.6 1.2h.6m-.6 .1h.6m-.6 .3h.6m-.6 .7h.6m-.6 .9h.6m-.6 .1h.6m-.6 2h.6m-.6 4.1h.6m-.5-34.7h.6m-.6 24.6h.6m-.6 0h.6m-.6 .4h.6m-.6 3h.6m-.6 .1h.6m-.6 0h.6m-.6 1.6h.6m-.6 1.1h.6m-.6 .8h.6m-.5-31h.6m-.6 .6h.6m-.6 22.1h.6m-.6 1.6h.6m-.6 .3h.6m-.6 .2h.6m-.6 1.3h.6m-.6 0h.6m-.6 .6h.6m-.6 .1h.6m-.6 1.9h.6m-.6 3.3h.6m-.5-35h.6m-.6 5.2h.6m-.6 3h.6m-.6 16.3h.6m-.6 4.1h.6m-.6 0h.6m-.6 .2h.6m-.6 .2h.6m-.6 .6h.6m-.6 .6h.6m-.6 1.4h.6m-.6 .4h.6m-.6 .3h.6m-.5-33.6h.6m-.6 1.4h.6m-.6 2.2h.6m-.6 .8h.6m-.6 23.5h.6m-.6 .4h.6m-.6 .9h.6m-.6 0h.6m-.6 .3h.6m-.6 1.1h.6m-.6 0h.6m-.6 .7h.6m-.6 .1h.6m-.6 .3h.6m-.6 .1h.6m-.6 .6h.6m-.6 .1h.6m-.6 1.1h.6m-.5-36.2h.6m-.6 8.3h.6m-.6 20.3h.6m-.6 1.2h.6m-.6 2.2h.6m-.6 1.4h.6m-.6 1.4h.6m-.6 1.6h.6m-.6 2.8h.6m-.5-29.7h.6m-.6 21.4h.6m-.6 .5h.6m-.6 .6h.6m-.6 1.5h.6m-.6 .6h.6m-.6 1.3h.6m-.5-24.5h.6m-.6 15.6h.6m-.6 4.3h.6m-.6 .5h.6m-.6 .1h.6m-.6 .1h.6m-.6 2.6h.6m-.6 1h.6m-.6 6.1h.6m-.5-39.1h.6m-.6 25.9h.6m-.6 4.1h.6m-.6 0h.6m-.6 .1h.6m-.6 .1h.6m-.6 .4h.6m-.6 2h.6m-.6 .4h.6m-.6 .5h.6m-.6 3.9h.6m-.5-33.5h.6m-.6 9.4h.6m-.6 15.6h.6m-.6 .8h.6m-.6 .8h.6m-.6 .7h.6m-.6 1.1h.6m-.6 .7h.6m-.6 .2h.6m-.6 .3h.6m-.5-34.7h.6m-.6 2.3h.6m-.6 2.5h.6m-.6 2.1h.6m-.6 .1h.6m-.6 21.1h.6m-.6 1.3h.6m-.6 .8h.6m-.6 1.1h.6m-.6 1.3h.6m-.6 .5h.6m-.6 1h.6m-.6 .5h.6m-.6 .1h.6m-.6 .1h.6m-.6 .7h.6m-.6 1.3h.6m-.5-32.7h.6m-.6 25.1h.6m-.6 2.2h.6m-.6 .6h.6m-.6 1h.6m-.6 2.1h.6m-.6 .5h.6m-.6 2.9h.6m-.6 1h.6m-.5-36.8h.6m-.6 2.1h.6m-.6 4.2h.6m-.6 2.1h.6m-.6 17.6h.6m-.6 .9h.6m-.6 1.3h.6m-.6 2.2h.6m-.6 6.7h.6m-.5-39.6h.6m-.6 2.7h.6m-.6 24.7h.6m-.6 1.3h.6m-.6 .2h.6m-.6 2.6h.6m-.6 0h.6m-.6 .1h.6m-.6 .4h.6m-.6 .4h.6m-.6 .6h.6m-.6 .9h.6m-.6 .1h.6m-.6 1.9h.6m-.6 2.2h.6m-.6 3.1h.6m-.5-33.8h.6m-.6 20.5h.6m-.6 1.4h.6m-.6 1.8h.6m-.6 1.4h.6m-.6 2.1h.6m-.6 1h.6m-.6 .5h.6m-.6 .4h.6m-.5-31.8h.6m-.6 .2h.6m-.6 1.4h.6m-.6 3.9h.6m-.6 20.7h.6m-.6 .4h.6m-.6 .2h.6m-.6 .5h.6m-.6 .1h.6m-.6 1.5h.6m-.6 .5h.6m-.6 .9h.6m-.6 .2h.6m-.6 5.3h.6m-.6 .2h.6m-.6 1.6h.6m-.5-11.4h.6m-.6 1h.6m-.6 0h.6m-.6 1.6h.6m-.6 .5h.6m-.6 .2h.6m-.6 .8h.6m-.6 .3h.6m-.5-31.8h.6m-.6 25.7h.6m-.6 1h.6m-.6 .5h.6m-.6 1.3h.6m-.6 .5h.6m-.6 1.2h.6m-.6 .6h.6m-.6 .5h.6m-.6 2.7h.6m-.5-30.7h.6m-.6 21.7h.6m-.6 3.1h.6m-.6 .2h.6m-.6 .9h.6m-.6 5.6h.6m-.5-35.4h.6m-.6 1.8h.6m-.6 24.7h.6m-.6 .4h.6m-.6 .3h.6m-.6 1.1h.6m-.6 1.9h.6m-.6 3.9h.6m-.6 1.3h.6m-.5-33.9h.6m-.6 24.9h.6m-.6 .3h.6m-.6 1.8h.6m-.6 1.6h.6m-.6 3.9h.6m-.6 1.9h.6m-.5-39.2h.6m-.6 28.2h.6m-.6 1.3h.6m-.6 .5h.6m-.6 1.9h.6m-.6 .1h.6m-.6 .1h.6m-.6 .2h.6m-.6 0h.6m-.6 .4h.6m-.6 0h.6m-.6 .7h.6m-.5-5.1h.6m-.6 1.6h.6m-.6 0h.6m-.6 .5h.6m-.6 2.8h.6m-.6 .2h.6m-.6 .7h.6m-.6 0h.6m-.6 4.2h.6m-.5-31.4h.6m-.6 25h.6m-.6 1.5h.6m-.6 1.5h.6m-.6 .1h.6m-.6 3.6h.6m-.6 3.7h.6m-.5-11.7h.6m-.6 .2h.6m-.6 1.8h.6m-.6 .1h.6m-.6 .9h.6m-.6 .3h.6m-.5-31.8h.6m-.6 4.3h.6m-.6 .5h.6m-.6 18.8h.6m-.6 2.8h.6m-.6 1.5h.6m-.6 .2h.6m-.6 .9h.6m-.6 .8h.6m-.6 .2h.6m-.6 .2h.6m-.6 .4h.6m-.6 .6h.6m-.6 .2h.6m-.6 2.5h.6m-.6 3.5h.6m-.5-33.5h.6m-.6 22.1h.6m-.6 1.1h.6m-.6 .8h.6m-.6 1.6h.6m-.6 1.5h.6m-.6 .4h.6m-.6 0h.6m-.6 1.4h.6m-.6 2h.6m-.6 2.4h.6m-.5-38.6h.6m-.6 11.8h.6m-.6 9.8h.6m-.6 7.7h.6m-.6 .5h.6m-.6 1.5h.6m-.6 .4h.6m-.6 .7h.6m-.6 .9h.6m-.6 1.7h.6m-.6 .8h.6m-.5-31.4h.6m-.6 4.7h.6m-.6 17.3h.6m-.6 3.7h.6m-.6 1.1h.6m-.6 .4h.6m-.6 .4h.6m-.6 1.1h.6m-.6 4.1h.6m-.6 1.2h.6m-.5-32.7h.6m-.6 19h.6m-.6 2.4h.6m-.6 .8h.6m-.6 1h.6m-.6 1.5h.6m-.6 2.2h.6m-.6 2.2h.6m-.6 1.8h.6m-.6 .1h.6m-.6 2.8h.6m-.5-10.3h.6m-.6 0h.6m-.6 .6h.6m-.6 .1h.6m-.6 .2h.6m-.6 .6h.6m-.6 2h.6m-.6 .3h.6m-.6 .1h.6m-.6 2.8h.6m-.6 .4h.6m-.6 0h.6m-.6 .6h.6m-.6 1.7h.6m-.6 .4h.6m-.5-36.2h.6m-.6 3.3h.6m-.6 23.3h.6m-.6 .6h.6m-.6 .1h.6m-.6 1.6h.6m-.6 .9h.6m-.6 .3h.6m-.6 1.6h.6m-.6 .1h.6m-.5-28.7h.6m-.6 .2h.6m-.6 20.2h.6m-.6 .7h.6m-.6 2.5h.6m-.6 .3h.6m-.6 .6h.6m-.6 .2h.6m-.6 .5h.6m-.6 1.2h.6m-.6 .1h.6m-.6 .1h.6m-.6 .9h.6m-.6 1.1h.6m-.6 2h.6m-.6 .8h.6m-.6 .4h.6m-.5-35.4h.6m-.6 1.8h.6m-.6 22.8h.6m-.6 3.1h.6m-.6 1.6h.6m-.6 .2h.6m-.6 1.1h.6m-.6 1.2h.6m-.6 .8h.6m-.6 .5h.6m-.6 .3h.6m-.5-32.5h.6m-.6 .7h.6m-.6 21.2h.6m-.6 3.8h.6m-.6 1h.6m-.6 1.7h.6m-.6 3.4h.6m-.5-32.5h.6m-.6 1.1h.6m-.6 25.4h.6m-.6 1.3h.6m-.6 1.9h.6m-.6 5.2h.6m-.5-29.6h.6m-.6 21.7h.6m-.6 .6h.6m-.6 .1h.6m-.6 .7h.6m-.6 1.8h.6m-.6 1.3h.6m-.6 .4h.6m-.6 1.1h.6m-.6 .1h.6m-.5-4.9h.6m-.6 3.1h.6m-.6 .2h.6m-.6 .6h.6m-.6 .2h.6m-.6 1.8h.6m-.5-8.6h.6m-.6 1.9h.6m-.6 .6h.6m-.6 3.9h.6m-.6 .4h.6m-.6 .3h.6m-.6 .4h.6m-.6 1.1h.6m-.6 0h.6m-.5-12.5h.6m-.6 6.9h.6m-.6 .1h.6m-.6 7.3h.6m-.5-40.9h.6m-.6 8.5h.6m-.6 21.8h.6m-.6 1.1h.6m-.6 1.7h.6m-.6 .2h.6m-.6 .5h.6m-.6 .5h.6m-.6 .2h.6m-.6 .6h.6m-.6 .3h.6m-.6 .7h.6m-.6 3.4h.6m-.5-13.8h.6m-.6 6.8h.6m-.6 .5h.6m-.6 .3h.6m-.6 .4h.6m-.6 1.1h.6m-.6 1.7h.6m-.6 .3h.6m-.5-34.8h.6m-.6 6.1h.6m-.6 2.3h.6m-.6 21.8h.6m-.6 .2h.6m-.6 1.4h.6m-.6 .4h.6m-.6 1.4h.6m-.6 .7h.6m-.6 2.5h.6m-.6 .1h.6m-.5-7.8h.6m-.6 4.3h.6m-.6 0h.6m-.6 .3h.6m-.6 .1h.6m-.6 .4h.6m-.6 .6h.6m-.6 1.5h.6m-.6 2h.6m-.6 .8h.6m-.5-7.9h.6m-.6 6h.6m-.5-37.3h.6m-.6 29.5h.6m-.6 .2h.6m-.6 4.6h.6m-.6 1.4h.6m-.5-23.7h.6m-.6 19.9h.6m-.6 .2h.6m-.6 .1h.6m-.6 .9h.6m-.6 .7h.6m-.6 .1h.6m-.5-5.7h.6m-.6 2.5h.6m-.6 .4h.6m-.6 .8h.6m-.6 1.4h.6m-.6 .5h.6m-.6 .9h.6m-.6 .5h.6m-.6 2.7h.6m-.5-36.6h.6m-.6 5.3h.6m-.6 21.2h.6m-.6 .8h.6m-.6 1.2h.6m-.6 .2h.6m-.6 0h.6m-.6 .8h.6m-.6 4h.6m-.5-3.2h.6m-.6 .9h.6m-.6 .7h.6m-.6 1.1h.6m-.6 1h.6m-.6 .7h.6m-.6 .1h.6m-.6 1.8h.6m-.6 1.9h.6m-.5-34.8h.6m-.6 26.5h.6m-.6 .1h.6m-.6 .2h.6m-.6 .1h.6m-.6 1.5h.6m-.6 3.8h.6m-.5-5.2h.6m-.6 .7h.6m-.6 1.8h.6m-.6 0h.6m-.6 2.8h.6m-.5-33.9h.6m-.6 24.4h.6m-.6 .8h.6m-.6 3.8h.6m-.6 0h.6m-.6 .2h.6m-.6 1.8h.6m-.6 .2h.6m-.6 .2h.6m-.6 1.9h.6m-.5-35h.6m-.6 24.6h.6m-.6 5.6h.6m-.6 1.1h.6m-.6 .1h.6m-.6 0h.6m-.6 .6h.6m-.6 .7h.6m-.6 1.1h.6m-.6 1.7h.6m-.6 1.2h.6m-.6 .1h.6m-.5-36.8h.6m-.6 27.5h.6m-.6 .6h.6m-.6 3.3h.6m-.6 2.7h.6m-.6 .4h.6m-.6 3.5h.6m-.5-30.9h.6m-.6 19.6h.6m-.6 2.1h.6m-.6 1.2h.6m-.6 5.3h.6m-.6 2.9h.6m-.5-32.7h.6m-.6 21.9h.6m-.6 2.1h.6m-.6 .1h.6m-.6 .1h.6m-.6 .5h.6m-.6 .2h.6m-.6 1.3h.6m-.6 1.1h.6m-.5-6.5h.6m-.6 2.4h.6m-.6 .7h.6m-.6 1.1h.6m-.6 2h.6m-.6 1.6h.6m-.6 1.8h.6m-.5-34.7h.6m-.6 27.4h.6m-.6 .1h.6m-.6 1.1h.6m-.6 .9h.6m-.6 .6h.6m-.6 .8h.6m-.5-29.8h.6m-.6 .9h.6m-.6 18.7h.6m-.6 6.9h.6m-.6 .7h.6m-.6 2.7h.6m-.5-4.8h.6m-.6 1.1h.6m-.6 3.8h.6m-.6 .5h.6m-.5-3.4h.6m-.6 1.3h.6m-.5-32.8h.6m-.6 6.6h.6m-.6 1.8h.6m-.6 20.1h.6m-.6 .5h.6m-.6 4.9h.6m-.6 .2h.6m-.6 0h.6m-.5-2.8h.6m-.6 .4h.6m-.6 .7h.6m-.6 .4h.6m-.6 .8h.6m-.6 1.3h.6m-.6 .9h.6m-.5-29.4h.6m-.6 23.7h.6m-.6 2.1h.6m-.6 1h.6m-.5-6.1h.6m-.6 2.9h.6m-.6 .2h.6m-.6 1.1h.6m-.6 1.9h.6m-.6 1h.6m-.6 .7h.6m-.6 .3h.6m-.6 1.5h.6m-.6 1h.6m-.5-35.4h.6m-.6 28.1h.6m-.6 3.5h.6m-.6 .4h.6m-.6 .7h.6m-.5-5.8h.6m-.6 2h.6m-.6 4.7h.6m-.5-27.3h.6m-.6 20.2h.6m-.6 .7h.6m-.6 7.6h.6m-.6 .5h.6m-.6 1.7h.6m-.5-10.2h.6m-.6 2.1h.6m-.6 0h.6m-.6 .8h.6m-.6 1.8h.6m-.6 .5h.6m-.6 5.7h.6m-.5-10.3h.6m-.6 .4h.6m-.6 2h.6m-.6 .1h.6m-.6 .1h.6m-.6 .1h.6m-.6 7.6h.6m-.5-6.8h.6m-.6 2.5h.6m-.6 .6h.6m-.5-3.9h.6m-.6 .4h.6m-.6 .2h.6m-.5-1.8h.6m-.6 .4h.6m-.6 .4h.6m-.6 .3h.6m-.6 4.4h.6m-.6 1.1h.6m-.5-11.2h.6m-.6 4h.6m-.6 0h.6m-.6 1.5h.6m-.6 2.8h.6m-.6 .9h.6m-.5-2.5h.6m-.6 .4h.6m-.5-3.1h.6m-.6 .2h.6m-.6 2.1h.6m-.6 .8h.6m-.6 2.3h.6m-.6 2.2h.6m-.6 1.5h.6m-.5-6.5h.6m-.6 2h.6m-.5-4.3h.6m-.6 2.8h.6m-.6 1.9h.6m-.6 .3h.6m-.6 2.9h.6m-.5-38.5h.6m-.6 27.9h.6m-.5-1.8h.6m-.6 6.7h.6m-.5-6.8h.6m-.6 4h.6m-.6 2.3h.6m-.6 1.3h.6m-.6 1h.6m-.4-7.3h.6m-.6 8.2h.6m-.5-10.8h.6m-.6 5.6h.6m-.6 2.2h.6m-.5-.7h.6m-.6 .1h.6m-.6 3.8h.6m-.6 4h.6m-.5-7.7h.6m-.6 .4h.6m-.6 1.1h.6m-.6 1h.6m-.5-6.9h.6m-.6 6.3h.6m-.5-7h.6m-.6 9.3h.6m-.5-6.7h.6m-.6 3.1h.6m-.6 2.3h.6m-.5-7.5h.6m-.6 5.3h.6m-.6 1.3h.6m-.6 1.6h.6m-.6 .1h.6m-.5-8.8h.6m-.6 3.8h.6m-.6 .7h.6m-.6 3.4h.6m-.5-4.7h.6m-.6 5.4h.6m-.5-5.2h.6m-.6 1.1h.6m-.6 .7h.6m-.6 3.3h.6m-.6 .3h.6m-.6 3.6h.6m-.5-12.3h.6m-.6 5.8h.6m-.6 .2h.6m-.6 1.8h.6m-.6 1.2h.6m-.6 .8h.6m-.5-6.8h.6m-.6 .3h.6m-.6 1.3h.6m-.6 .1h.6m-.6 2.2h.6m-.5-.3h.6m-.6 4.3h.6m-.5 1.3h.6m-.5-11.6h.6m-.6 1.2h.6m-.6 13.7h.6m-.5-4.4h.6m-.6 .1h.6m-.5-31h.6m-.6 20.8h.6m-.6 3.8h.6m-.6 1h.6m-.6 .7h.6m-.6 2.1h.6m-.5-8h.6m-.6 3.2h.6m-.6 .8h.6m-.6 4.8h.6m-.5-9h.6m-.6 2.7h.6m-.6 11.8h.6m-.5-9h.6m-.5-5.3h.6m-.6 3h.6m-.6 3.8h.6m-.6 5.6h.6m-.5-12.3h.6m-.6 3.7h.6m-.6 .5h.6m-.6 2.3h.6m-.6 2h.6m-.6 .9h.6m-.5-5.8h.6m-.6 1.2h.6m-.6 5.6h.6m-.5 4.4h.6m-.5-10.1h.6m-.6 1.3h.6m-.5-4.8h.6m-.5 6.6h.6m-.4-6h.6m-.6 2.7h.6m-.6 2.5h.6m-.5-4.1h.6m-.6 3.1h.6m-.6 4h.6m-.5 .5h.6m-.5-4.2h.6m-.5-2.6h.6m-.6 .2h.6m-.6 1.6h.6m-.5-4.2h.6m-.5 .5h.6m-.6 7.3h.6m-.6 .8h.6m-.5-8.4h.6m-.6 4.3h.6m-.5-6h.6m-.6 4.9h.6m-.5-2.5h.6m-.6 8.5h.6m-.5-10.8h.6m-.6 5.3h.6m-.5-6.3h.6m-.6 2.3h.6m-.6 2.5h.6m-.6 4.3h.6m-.6 .3h.6m-.5 1.9h.6m-.5-4h.6m-.6 5.9h.6m-.5-10.1h.6m-.6 4.2h.6m-.6 3.5h.6m-.6 .9h.6m-.5-9.2h.6m-.6 4.1h.6m-.5-3.6h.6m-.6 5.4h.6m-.6 4.5h.6m-.5-6.3h.6m-.5-.1h.6m-.5-.1h.6m-.6 5.7h.6m-.5-15.5h.6m-.4 8.3h.6m-.6 2.8h.6m-.5-1.5h.6m-.6 5.5h.6m-.5-7.9h.6m-.6 2.4h.6m-.5 5.8h.6m-.5-7.2h.6m-.6 5.4h.6m-.6 0h.6m-.5-3.5h.6m-.6 5h.6m-.5-2.5h.6m-.5-2.6h.6m-.6 4.3h.6m-.5-7.1h.6m-.6 4.8h.6m-.5-2h.6m-.6 .4h.6m-.5-1.6h.6m-.6 5.1h.6m-.5-2.8h.6m-.6 4.6h.6m-.5-11.3h.6m-.6 3.6h.6m-.6 4.6h.6m-.5 2.1h.6m-.5-9.4h.6m-.6 2h.6m-.5 2.7h.6m-.6 1.3h.6m-.6 7.8h.6m-.5-14.1h.6m-.5 .6h.6m-.6 6.3h.6m-.6 1.6h.6m-.6 1.5h.6m-.5-7.9h.6m-.6 .2h.6m-.6 9.6h.6m-.4-8.3h.6m-.5-.4h.6m-.6 1.4h.6m-.6 3.9h.6m-.5-5.6h.6m-.4-6.3h.6m-.6 13.8h.6m-.5-12.5h.6m-.6 10h.6m-.6 .8h.6m-.6 .2h.6m-.5-7.9h.6m-.6 .9h.6m-.4 .9h.6m-.6 1.9h.6m-.5-3.7h.6m-.5 6.9h.6m-.5-6.2h.6m-.5-.3h.6m-.6 1.4h.6m-.5-.5h.6m-.6 4.7h.6m-.5-.7h.6m-.6 .7h.6m-.5-1.4h.6m-.6 3.8h.6m-.5-4.3h.6m-.5-.7h.6m-.6 5.3h.6m-.4 2.8h.6m-.4-14.7h.6m-.5 2.4h.6m-.6 7.9h.6m-.5-3h.6m-.4 .7h.6m-.5 3.4h.6m-.5-7.8h.6m-.5-.1h.6m-.6 2.5h.6m-.6 .3h.6m-.6 3.1h.6m-.5-.7h.6m-.6 5.5h.6m-.6 .8h.6m-.5-8.2h.6m-.5 8.7h.6m-.3-15h.6m-.6 4.5h.6m-.5 4.8h.6m-.6 4h.6m-.4-.1h.6m-.4-6h.6m-.4-1.4h.6m-.6 7.2h.6m-.4-6.1h.6m-.4 2.6h.6m-.4 1h.6m-.3 1.1h.6m-.5-3.8h.6m-.5 2.4h.6m-.5-7.5h.6m-.6 7.9h.6m-.3 1h.6m-.5-9.5h.6m-.6 3.6h.6m-.5 8.7h.6m0-7.1h.6m-.6 12.2h.6m-.5-9.5h.6m-.4 3.3h.6m-.5-4.2h.6m-.3-3.6h.6m0-7.4h.6m-.6 6.8h.6m-.4 3.8h.6m-.6 .2h.6m-.5-1.2h.6m-.6 3.3h.6m-.5 .5h.6m-.6 .2h.6m-.1-5.4h.6m-.3 8.5h.6m-.2-4.1h.6m0-5.1h.6m-.3 .9h.6m.1-3.3h.6m-.6 8h.6m.8-3.5h.6m-.4 3.2h.6m0-2.3h.6m-.5 2h.6m-.5-4.3h.6m.3 .9h.6m1.3-1.3h.6m-.1-1.6h.6m-.1 2.2h.6" stroke="#ea1f1f" stroke-width="0.6" stroke-opacity="0.8" fill="none"/>
<path d="m288.9 663.1h.6m4.2-11.7h.6m1.5-2.7h.6m.1 4.8h.6m1.8-2.4h.6m.6 14.7h.6m2.4-8.6h.6m.5-4.8h.6m-.4-2.1h.6m1.9 11.7h.6m-.5-11.2h.6m-.6 19.9h.6m.4-10.8h.6m.1-2.9h.6" stroke="#ea1f1f" stroke-width="0.6" stroke-opacity="0.4" fill="none"/>
<path d="M290.7 644L290.7 704.9" stroke="#cacaca" stroke-width="1.3"/>
<path d="M257.7 673.7L318.8 673.7" stroke="#cacaca" stroke-width="1.3"/>
<rect x="257.7" y="644" width="61.1" height="60.9" fill="none" stroke="#555" stroke-width="0.6"/>
<text transform="matrix(1 0 0 1.07 259.5 648.6)" font-size="3.3" fill="#333" class="m">Q2-UL(9.02%)</text>
<text transform="matrix(1 0 0 1.07 317.8 648.6)" font-size="3.3" text-anchor="end" fill="#333" class="m">Q2-UR(0.04%)</text>
<text transform="matrix(1 0 0 1.07 259.5 702.9)" font-size="3.3" fill="#333" class="m">Q2-LL(84.92%)</text>
<text transform="matrix(1 0 0 1.07 317.8 702.9)" font-size="3.3" text-anchor="end" fill="#333" class="m">Q2-LR(6.02%)</text>
<path d="M257.7 704.9L257.7 706.3" stroke="#444" stroke-width="0.4"/>
<text x="257.7" y="709.7" font-size="3.1" text-anchor="middle" fill="#333" class="m">10<tspan font-size="2.1" dy="-1.3">1</tspan></text>
<path d="M256.3 704.9L257.7 704.9" stroke="#444" stroke-width="0.4"/>
<text x="256.2" y="706.1" font-size="3.1" text-anchor="end" fill="#333" class="m">10<tspan font-size="2.1" dy="-1.3">1</tspan></text>
<path d="M272.98 704.9L272.98 706.3" stroke="#444" stroke-width="0.4"/>
<text x="272.98" y="709.7" font-size="3.1" text-anchor="middle" fill="#333" class="m">10<tspan font-size="2.1" dy="-1.3">2</tspan></text>
<path d="M256.3 689.67L257.7 689.67" stroke="#444" stroke-width="0.4"/>
<text x="256.2" y="690.88" font-size="3.1" text-anchor="end" fill="#333" class="m">10<tspan font-size="2.1" dy="-1.3">2</tspan></text>
<path d="M288.25 704.9L288.25 706.3" stroke="#444" stroke-width="0.4"/>
<text x="288.25" y="709.7" font-size="3.1" text-anchor="middle" fill="#333" class="m">10<tspan font-size="2.1" dy="-1.3">3</tspan></text>
<path d="M256.3 674.45L257.7 674.45" stroke="#444" stroke-width="0.4"/>
<text x="256.2" y="675.65" font-size="3.1" text-anchor="end" fill="#333" class="m">10<tspan font-size="2.1" dy="-1.3">3</tspan></text>
<path d="M303.52 704.9L303.52 706.3" stroke="#444" stroke-width="0.4"/>
<text x="303.52" y="709.7" font-size="3.1" text-anchor="middle" fill="#333" class="m">10<tspan font-size="2.1" dy="-1.3">4</tspan></text>
<path d="M256.3 659.23L257.7 659.23" stroke="#444" stroke-width="0.4"/>
<text x="256.2" y="660.43" font-size="3.1" text-anchor="end" fill="#333" class="m">10<tspan font-size="2.1" dy="-1.3">4</tspan></text>
<path d="M318.8 704.9L318.8 706.3" stroke="#444" stroke-width="0.4"/>
<text x="318.8" y="709.7" font-size="3.1" text-anchor="middle" fill="#333" class="m">10<tspan font-size="2.1" dy="-1.3">5</tspan></text>
<path d="M256.3 644L257.7 644" stroke="#444" stroke-width="0.4"/>
<text x="256.2" y="645.2" font-size="3.1" text-anchor="end" fill="#333" class="m">10<tspan font-size="2.1" dy="-1.3">5</tspan></text>
<path d="M262.3 704.9v.8M257.7 700.32h-.8M264.99 704.9v.8M257.7 697.64h-.8M266.9 704.9v.8M257.7 695.73h-.8M268.38 704.9v.8M257.7 694.26h-.8M269.59 704.9v.8M257.7 693.05h-.8M270.61 704.9v.8M257.7 692.03h-.8M271.49 704.9v.8M257.7 691.15h-.8M272.28 704.9v.8M257.7 690.37h-.8M277.57 704.9v.8M257.7 685.09h-.8M280.26 704.9v.8M257.7 682.41h-.8M282.17 704.9v.8M257.7 680.51h-.8M283.65 704.9v.8M257.7 679.03h-.8M284.86 704.9v.8M257.7 677.83h-.8M285.88 704.9v.8M257.7 676.81h-.8M286.77 704.9v.8M257.7 675.93h-.8M287.55 704.9v.8M257.7 675.15h-.8M292.85 704.9v.8M257.7 669.87h-.8M295.54 704.9v.8M257.7 667.19h-.8M297.45 704.9v.8M257.7 665.28h-.8M298.93 704.9v.8M257.7 663.81h-.8M300.14 704.9v.8M257.7 662.6h-.8M301.16 704.9v.8M257.7 661.58h-.8M302.04 704.9v.8M257.7 660.7h-.8M302.83 704.9v.8M257.7 659.92h-.8M308.12 704.9v.8M257.7 654.64h-.8M310.81 704.9v.8M257.7 651.96h-.8M312.72 704.9v.8M257.7 650.06h-.8M314.2 704.9v.8M257.7 648.58h-.8M315.41 704.9v.8M257.7 647.38h-.8M316.43 704.9v.8M257.7 646.36h-.8M317.32 704.9v.8M257.7 645.48h-.8M318.1 704.9v.8M257.7 644.7h-.8" stroke="#555" stroke-width=".3" fill="none"/>
<text transform="matrix(1 0 0 1.07 288.25 714.1)" font-size="3.2" text-anchor="middle" fill="#333" class="m">CD206 APC-A</text>
<text transform="matrix(0 -1.07 1 0 250.77 674.45)" font-size="2.99" text-anchor="middle" fill="#333" class="m">CD86 FITC-A</text>
<text transform="matrix(1 0 0 1.07 286.65 642.5)" font-size="3" text-anchor="middle" fill="#333" class="m">1.3 : P1</text>
<ellipse cx="359.5" cy="682.5" rx="9.5" ry="3.5" transform="rotate(-1.72 359.5 682.5)" fill="#ea1c1c" fill-opacity="0.95" filter="url(#blc)"/>
<path d="m333.7 680.1h.6m-.6 7.6h.6m0 1.4h.6m.2-6.6h.6m-.5 2.7h.6m-.5 .6h.6m-.6 2.7h.6m-.3-.1h.6m-.4-4.4h.6m-.2-1.6h.6m-.6 2.3h.6m-.4 2.1h.6m-.3-4.6h.6m-.5-.3h.6m-.3-2.1h.6m-.6 .1h.6m-.5 4.6h.6m-.6 .4h.6m-.4-1.2h.6m-.3 5.5h.6m-.3-6.3h.6m-.4-1.5h.6m-.5 .8h.6m-.6 2.9h.6m.1-7.9h.6m-.6 3h.6m-.3 6.6h.6m-.6 1h.6m-.5-9.4h.6m-.5 3.6h.6m-.6 1.6h.6m-.6 1.7h.6m-.6 3.9h.6m-.5-4.8h.6m-.6 4.5h.6m-.4-6h.6m-.4 0h.6m-.6 5.1h.6m-.4-10.5h.6m-.6 7.5h.6m-.6 4.3h.6m-.5-8.7h.6m-.3-4.6h.6m-.6 3.5h.6m-.4-.1h.6m-.6 7.7h.6m-.5-1.6h.6m-.3-4.8h.6m-.5 3.7h.6m-.5-4.1h.6m-.6 8.2h.6m-.5-4h.6m-.5 1.2h.6m-.4-8.9h.6m-.5-.4h.6m-.6 3h.6m-.6 3.6h.6m-.5 .1h.6m-.5-3.7h.6m-.6 1.1h.6m-.6 .1h.6m-.6 5.8h.6m-.6 3h.6m-.5-10.1h.6m-.6 3.8h.6m-.5-6.6h.6m-.6 8.2h.6m-.6 2.3h.6m-.5-10.7h.6m-.4 3.1h.6m-.6 3h.6m-.5-2.4h.6m-.6 3.7h.6m-.2-8.4h.6m-.6 8.4h.6m-.6 .1h.6m-.6 .6h.6m-.6 3.9h.6m-.5-3.4h.6m-.5-25.8h.6m-.6 20.2h.6m-.6 5.5h.6m-.5-6.4h.6m-.6 1.6h.6m-.6 1.9h.6m-.5 4.1h.6m-.3-5.4h.6m-.5 3.8h.6m-.3-3.7h.6m-.6 2.7h.6m-.4-9.4h.6m-.6 7.1h.6m-.6 1.2h.6m-.5-1.1h.6m-.6 1.5h.6m-.5-6.1h.6m-.6 2.5h.6m-.6 6.9h.6m-.6 3.9h.6m-.5-13.2h.6m-.5 5.3h.6m-.6 4.1h.6m-.5-5.3h.6m-.6 1.3h.6m-.5-2.4h.6m-.6 3.6h.6m-.5-3.7h.6m-.6 7.2h.6m-.5-9.9h.6m-.5 9.7h.6m-.6 1.9h.6m-.4-5.7h.6m-.6 .2h.6m-.6 1.1h.6m-.6 3.1h.6m-.6 4.2h.6m-.5-11.9h.6m-.6 2.1h.6m-.6 3.1h.6m-.5-28.8h.6m-.6 26.9h.6m-.6 6.9h.6m-.5-7.6h.6m-.6 1.9h.6m-.6 2.9h.6m-.4-29.6h.6m-.6 27.7h.6m-.6 .7h.6m-.5-.2h.6m-.6 .6h.6m-.5-2h.6m-.5-3.2h.6m-.6 2.6h.6m-.5-4.3h.6m-.6 .9h.6m-.6 1h.6m-.6 1.8h.6m-.6 .6h.6m-.5-3.2h.6m-.6 1.1h.6m-.5-.5h.6m-.6 .2h.6m-.6 6.5h.6m-.6 1.5h.6m-.5-2.9h.6m-.6 2.4h.6m-.5-5.3h.6m-.6 2.9h.6m-.5-2.6h.6m-.5-4.3h.6m-.6 1.6h.6m-.6 5.3h.6m-.5-3h.6m-.6 .5h.6m-.6 2.4h.6m-.5-2.4h.6m-.6 11.5h.6m-.5-17.1h.6m-.6 4.2h.6m-.5 2.3h.6m-.6 3.5h.6m-.5-11.9h.6m-.6 2.8h.6m-.6 3.6h.6m-.5-4.9h.6m-.6 2.2h.6m-.6 3.3h.6m-.6 1.6h.6m-.6 3.4h.6m-.6 2.1h.6m-.5-9.5h.6m-.6 5.6h.6m-.6 0h.6m-.6 2h.6m-.6 .5h.6m-.6 .6h.6m-.5-9.7h.6m-.6 5.7h.6m-.6 1.1h.6m-.6 .3h.6m-.5-12.5h.6m-.6 4h.6m-.5 1h.6m-.6 3.2h.6m-.6 4.7h.6m-.5-25.7h.6m-.6 14.3h.6m-.5 2.2h.6m-.6 1.3h.6m-.6 .6h.6m-.6 1.1h.6m-.6 2h.6m-.6 .2h.6m-.6 2.2h.6m-.6 1h.6m-.5-11h.6m-.6 9.6h.6m-.6 2.1h.6m-.5-9.9h.6m-.6 5.2h.6m-.6 2.4h.6m-.6 1.6h.6m-.5-4.8h.6m-.6 3.2h.6m-.5-1.6h.6m-.6 1.1h.6m-.6 .9h.6m-.5-5.7h.6m-.6 6.7h.6m-.5-9.4h.6m-.6 8.8h.6m-.6 1.1h.6m-.6 6.5h.6m-.5-21.1h.6m-.6 10.2h.6m-.6 5h.6m-.5-8.8h.6m-.6 .1h.6m-.6 1.5h.6m-.6 1.7h.6m-.6 1.1h.6m-.6 .8h.6m-.6 3.5h.6m-.6 2.6h.6m-.5-10.4h.6m-.6 1.6h.6m-.6 1.8h.6m-.6 .5h.6m-.5-4.7h.6m-.6 6.6h.6m-.5-.7h.6m-.6 .5h.6m-.5-9.7h.6m-.6 7.9h.6m-.6 1.4h.6m-.6 .9h.6m-.6 .3h.6m-.5-5.5h.6m-.6 .1h.6m-.6 2.7h.6m-.6 3.3h.6m-.6 2.3h.6m-.5-11.2h.6m-.6 3.7h.6m-.6 6.3h.6m-.5-35.4h.6m-.6 5.2h.6m-.6 25.7h.6m-.6 .1h.6m-.6 4.3h.6m-.5-4.1h.6m-.6 1.6h.6m-.6 2.1h.6m-.6 2.6h.6m-.5-26.3h.6m-.6 19.8h.6m-.6 .4h.6m-.6 .7h.6m-.5-2.9h.6m-.6 6.6h.6m-.5-13.8h.6m-.6 2.5h.6m-.6 6.5h.6m-.6 1.6h.6m-.6 1.2h.6m-.5-26.2h.6m-.6 20.9h.6m-.6 2h.6m-.6 1.6h.6m-.6 .1h.6m-.6 1.7h.6m-.5-27.3h.6m-.6 23.5h.6m-.6 1.6h.6m-.6 .4h.6m-.6 .1h.6m-.5-5.8h.6m-.6 5.9h.6m-.6 1.1h.6m-.5-13h.6m-.6 5.7h.6m-.6 2.1h.6m-.6 .7h.6m-.6 3.3h.6m-.6 1.8h.6m-.6 5.4h.6m-.6 .4h.6m-.5-35.9h.6m-.6 .8h.6m-.6 21.1h.6m-.6 1.7h.6m-.6 .2h.6m-.6 1h.6m-.6 .4h.6m-.6 1h.6m-.6 .9h.6m-.6 6.8h.6m-.5-10.2h.6m-.5-2.4h.6m-.6 2.1h.6m-.6 1.4h.6m-.6 1.2h.6m-.6 1.2h.6m-.6 3h.6m-.5-4.3h.6m-.6 1.6h.6m-.6 2.6h.6m-.6 5.3h.6m-.5-9.4h.6m-.6 4.6h.6m-.5-7.5h.6m-.6 .1h.6m-.6 .2h.6m-.6 1.8h.6m-.6 .8h.6m-.6 4.2h.6m-.6 .3h.6m-.6 .8h.6m-.5-8.4h.6m-.6 7.3h.6m-.5-8.7h.6m-.6 6.7h.6m-.6 2.7h.6m-.5-30.9h.6m-.6 22.2h.6m-.6 1.8h.6m-.6 2.7h.6m-.6 .8h.6m-.6 .2h.6m-.6 .3h.6m-.6 0h.6m-.6 2.6h.6m-.6 2.6h.6m-.6 3.1h.6m-.5-11h.6m-.6 .8h.6m-.6 .4h.6m-.6 .3h.6m-.6 1h.6m-.6 .3h.6m-.5-21.2h.6m-.6 18.8h.6m-.6 .3h.6m-.6 .2h.6m-.6 4h.6m-.6 .9h.6m-.5-8.9h.6m-.6 1.3h.6m-.6 2.9h.6m-.6 .3h.6m-.6 .6h.6m-.6 4h.6m-.6 .5h.6m-.5-10.2h.6m-.6 .8h.6m-.6 3.4h.6m-.6 1.6h.6m-.6 2.8h.6m-.6 3.6h.6m-.6 .6h.6m-.5-11.1h.6m-.6 1.9h.6m-.6 4h.6m-.6 0h.6m-.6 2.2h.6m-.5-31.4h.6m-.6 7.7h.6m-.6 19h.6m-.6 2.8h.6m-.5-31.6h.6m-.6 25.7h.6m-.6 .9h.6m-.6 1h.6m-.6 .2h.6m-.6 .5h.6m-.6 1h.6m-.6 .1h.6m-.6 3.5h.6m-.6 1.8h.6m-.6 .9h.6m-.5-29.7h.6m-.6 18h.6m-.6 2.4h.6m-.6 .7h.6m-.6 2.3h.6m-.6 .8h.6m-.6 1.2h.6m-.6 1h.6m-.5-7.4h.6m-.6 3.7h.6m-.6 2.6h.6m-.6 4h.6m-.5-30.5h.6m-.6 22.2h.6m-.6 .6h.6m-.5-35.4h.6m-.6 6.6h.6m-.6 29.8h.6m-.6 3.2h.6m-.6 .5h.6m-.6 1h.6m-.5-29.3h.6m-.6 3h.6m-.6 16.3h.6m-.6 1.2h.6m-.6 2.2h.6m-.6 .9h.6m-.6 3.2h.6m-.6 2.7h.6m-.5-6.8h.6m-.6 1h.6m-.6 1.2h.6m-.6 3.8h.6m-.5-28.3h.6m-.6 18.8h.6m-.6 2h.6m-.6 2.9h.6m-.6 2.5h.6m-.6 .3h.6m-.6 .6h.6m-.6 1.4h.6m-.6 .6h.6m-.6 1.6h.6m-.5-33.8h.6m-.6 .6h.6m-.6 29.1h.6m-.5-27.7h.6m-.6 16.2h.6m-.6 4.1h.6m-.6 .4h.6m-.6 2.6h.6m-.6 1.9h.6m-.6 .9h.6m-.6 1.5h.6m-.6 1.2h.6m-.6 .2h.6m-.6 2.4h.6m-.6 2.1h.6m-.5-12.8h.6m-.6 1.6h.6m-.6 .4h.6m-.6 2.7h.6m-.6 .2h.6m-.6 12.6h.6m-.5-42.6h.6m-.6 7h.6m-.6 21.4h.6m-.6 .7h.6m-.6 1.6h.6m-.6 .8h.6m-.6 1.5h.6m-.6 2h.6m-.5-7.1h.6m-.6 3.7h.6m-.6 1.5h.6m-.6 .2h.6m-.5-7.4h.6m-.6 1h.6m-.6 1h.6m-.6 1.5h.6m-.6 2.1h.6m-.6 11.6h.6m-.5-44.1h.6m-.6 26.5h.6m-.6 .6h.6m-.6 2.1h.6m-.6 2.2h.6m-.5-27.8h.6m-.6 1.8h.6m-.6 22.8h.6m-.6 1.4h.6m-.6 .6h.6m-.6 .7h.6m-.6 1.3h.6m-.6 .7h.6m-.6 1.2h.6m-.5-33.8h.6m-.6 23h.6m-.6 4h.6m-.6 3h.6m-.6 2.4h.6m-.5-5.9h.6m-.6 2.1h.6m-.6 .1h.6m-.6 1.2h.6m-.6 1.1h.6m-.6 1.7h.6m-.5-6.1h.6m-.6 2.1h.6m-.6 2h.6m-.6 .3h.6m-.6 .6h.6m-.6 1.5h.6m-.6 6.7h.6m-.5-37.7h.6m-.6 25.4h.6m-.6 1.8h.6m-.6 .6h.6m-.6 3.9h.6m-.6 .4h.6m-.6 2h.6m-.5-33.4h.6m-.6 24.5h.6m-.6 .7h.6m-.6 .1h.6m-.6 .9h.6m-.6 .1h.6m-.6 .1h.6m-.6 1.3h.6m-.6 .7h.6m-.6 .1h.6m-.6 .1h.6m-.6 1.5h.6m-.6 .2h.6m-.6 .7h.6m-.6 1.1h.6m-.6 .5h.6m-.5-8.2h.6m-.6 2.9h.6m-.6 1.2h.6m-.6 .6h.6m-.6 .4h.6m-.6 1.9h.6m-.6 1.9h.6m-.5-7h.6m-.6 1.3h.6m-.6 .1h.6m-.6 .3h.6m-.6 .7h.6m-.6 .7h.6m-.6 1.5h.6m-.6 .1h.6m-.6 0h.6m-.5-23.3h.6m-.6 15.1h.6m-.6 2h.6m-.6 .6h.6m-.6 1.2h.6m-.6 .3h.6m-.6 .7h.6m-.6 1.1h.6m-.6 .3h.6m-.6 4.1h.6m-.5-29.4h.6m-.6 18.7h.6m-.6 2h.6m-.6 2.7h.6m-.6 2.2h.6m-.6 .1h.6m-.6 .8h.6m-.5-8.9h.6m-.6 1.7h.6m-.6 4.3h.6m-.6 .1h.6m-.6 1.2h.6m-.6 .9h.6m-.6 .3h.6m-.6 .3h.6m-.6 0h.6m-.6 2.8h.6m-.5-7.9h.6m-.6 .6h.6m-.6 .4h.6m-.6 1.6h.6m-.6 .2h.6m-.6 5.3h.6m-.5-38.4h.6m-.6 4.2h.6m-.6 25h.6m-.6 1.4h.6m-.6 .9h.6m-.6 1.4h.6m-.6 .1h.6m-.6 1.5h.6m-.6 .1h.6m-.6 1.6h.6m-.6 1.3h.6m-.6 1.5h.6m-.5-34.1h.6m-.6 26.1h.6m-.6 1.6h.6m-.6 .9h.6m-.6 .6h.6m-.6 1.4h.6m-.6 .3h.6m-.6 .5h.6m-.5-8.1h.6m-.6 .5h.6m-.6 .2h.6m-.6 1.9h.6m-.6 1.3h.6m-.6 0h.6m-.6 1.6h.6m-.6 2.2h.6m-.6 2.3h.6m-.6 .3h.6m-.6 .2h.6m-.5-9.8h.6m-.6 .9h.6m-.6 1h.6m-.6 .4h.6m-.6 0h.6m-.6 5h.6m-.6 1.8h.6m-.6 1.1h.6m-.5-10.8h.6m-.6 .3h.6m-.6 1.9h.6m-.6 1.2h.6m-.6 .3h.6m-.6 .2h.6m-.6 1.7h.6m-.6 2.8h.6m-.5-29.3h.6m-.6 25h.6m-.6 2.8h.6m-.6 .4h.6m-.6 5h.6m-.5-34.1h.6m-.6 8.4h.6m-.6 11.8h.6m-.6 2.3h.6m-.6 .4h.6m-.6 1.9h.6m-.6 3.7h.6m-.6 .2h.6m-.6 .2h.6m-.6 2.5h.6m-.5-9.8h.6m-.6 1.6h.6m-.6 1.6h.6m-.6 1h.6m-.6 .1h.6m-.6 .4h.6m-.6 5.7h.6m-.5-35.1h.6m-.6 25.6h.6m-.6 .5h.6m-.6 .3h.6m-.6 1.4h.6m-.6 .7h.6m-.6 .9h.6m-.6 .2h.6m-.6 .5h.6m-.6 .5h.6m-.6 .7h.6m-.6 .2h.6m-.6 .3h.6m-.6 1h.6m-.6 .1h.6m-.6 1.7h.6m-.5-9.6h.6m-.6 2.6h.6m-.6 1.7h.6m-.6 2.2h.6m-.6 .9h.6m-.5-29.2h.6m-.6 25.1h.6m-.6 .5h.6m-.6 .1h.6m-.6 0h.6m-.6 1.3h.6m-.6 .8h.6m-.6 3.3h.6m-.6 5.9h.6m-.5-15.3h.6m-.6 1.4h.6m-.6 2.5h.6m-.6 .6h.6m-.6 .1h.6m-.6 .1h.6m-.6 .3h.6m-.6 .9h.6m-.6 1.2h.6m-.6 .1h.6m-.6 .3h.6m-.6 .5h.6m-.5-30.7h.6m-.6 11.4h.6m-.6 12.1h.6m-.6 .7h.6m-.6 2.1h.6m-.6 .5h.6m-.6 1.2h.6m-.6 .3h.6m-.6 .7h.6m-.5-6.1h.6m-.6 1.5h.6m-.6 1.5h.6m-.6 .7h.6m-.6 .6h.6m-.6 .3h.6m-.6 .1h.6m-.6 .1h.6m-.6 .6h.6m-.6 4.2h.6m-.5-10.3h.6m-.6 3.7h.6m-.6 .8h.6m-.6 1.4h.6m-.6 .9h.6m-.6 .6h.6m-.6 .8h.6m-.6 .9h.6m-.6 1.8h.6m-.5-38.4h.6m-.6 5.4h.6m-.6 20.2h.6m-.6 3.2h.6m-.6 2.3h.6m-.6 .1h.6m-.6 2h.6m-.6 .7h.6m-.6 2h.6m-.5-34.8h.6m-.6 25.1h.6m-.6 2.5h.6m-.6 .6h.6m-.6 1.3h.6m-.6 2.3h.6m-.6 .3h.6m-.6 0h.6m-.6 0h.6m-.6 .7h.6m-.6 .2h.6m-.6 2h.6m-.6 3.9h.6m-.5-39.3h.6m-.6 27h.6m-.6 5h.6m-.6 4.8h.6m-.6 .5h.6m-.6 .2h.6m-.6 .1h.6m-.6 .2h.6m-.5-33h.6m-.6 .4h.6m-.6 3.3h.6m-.6 13.2h.6m-.6 7.1h.6m-.6 .6h.6m-.6 .1h.6m-.6 .3h.6m-.6 .8h.6m-.6 .2h.6m-.6 .1h.6m-.6 2.8h.6m-.6 1.3h.6m-.5-30.5h.6m-.6 4.1h.6m-.6 17.3h.6m-.6 2.8h.6m-.6 1.3h.6m-.6 0h.6m-.6 1.1h.6m-.6 0h.6m-.6 .7h.6m-.6 1.1h.6m-.6 2.9h.6m-.6 .7h.6m-.5-29.6h.6m-.6 17.9h.6m-.6 5.1h.6m-.6 1h.6m-.6 1.1h.6m-.6 .3h.6m-.6 1h.6m-.6 .1h.6m-.6 .3h.6m-.6 1h.6m-.6 .9h.6m-.6 1.5h.6m-.6 1h.6m-.5-9.7h.6m-.6 1.6h.6m-.6 .3h.6m-.6 .6h.6m-.6 1.3h.6m-.6 0h.6m-.6 .1h.6m-.6 .3h.6m-.6 .2h.6m-.6 0h.6m-.6 .1h.6m-.6 .8h.6m-.6 1.8h.6m-.6 0h.6m-.6 1.5h.6m-.5-11.4h.6m-.6 5.2h.6m-.6 1.1h.6m-.6 .8h.6m-.6 .2h.6m-.6 .6h.6m-.6 .6h.6m-.6 0h.6m-.6 1.6h.6m-.5-35.1h.6m-.6 .8h.6m-.6 8.2h.6m-.6 .3h.6m-.6 18.5h.6m-.6 1.4h.6m-.6 .4h.6m-.6 .5h.6m-.6 1.4h.6m-.6 .6h.6m-.6 1.2h.6m-.6 1.7h.6m-.5-7.5h.6m-.6 3.6h.6m-.6 1.3h.6m-.6 .3h.6m-.6 .1h.6m-.6 .2h.6m-.6 .4h.6m-.5-31.9h.6m-.6 4.1h.6m-.6 22.2h.6m-.6 5.1h.6m-.6 0h.6m-.6 .2h.6m-.6 1.3h.6m-.6 .2h.6m-.6 0h.6m-.6 1.9h.6m-.6 2.5h.6m-.5-11h.6m-.6 1.4h.6m-.6 1h.6m-.6 2.1h.6m-.6 1.1h.6m-.6 .8h.6m-.6 .2h.6m-.6 2.2h.6m-.5-31.9h.6m-.6 21.3h.6m-.6 2.5h.6m-.6 1h.6m-.6 .9h.6m-.6 1.4h.6m-.6 .1h.6m-.6 .6h.6m-.6 .8h.6m-.6 .8h.6m-.6 0h.6m-.5-9.2h.6m-.6 .2h.6m-.6 .8h.6m-.6 .1h.6m-.6 .4h.6m-.6 3.8h.6m-.6 .1h.6m-.6 .3h.6m-.6 .6h.6m-.6 .4h.6m-.6 1.1h.6m-.6 .4h.6m-.6 .3h.6m-.6 .1h.6m-.5-30.1h.6m-.6 26.6h.6m-.6 .7h.6m-.6 .5h.6m-.6 .6h.6m-.6 .9h.6m-.6 .9h.6m-.6 1.5h.6m-.5-29.9h.6m-.6 19.4h.6m-.6 .4h.6m-.6 1h.6m-.6 1.7h.6m-.6 1.1h.6m-.6 .1h.6m-.6 1.6h.6m-.6 2h.6m-.6 .8h.6m-.6 .7h.6m-.6 3.7h.6m-.5-33.3h.6m-.6 22h.6m-.6 2.3h.6m-.6 .6h.6m-.6 .4h.6m-.6 .1h.6m-.6 2.5h.6m-.6 .3h.6m-.6 .3h.6m-.6 .4h.6m-.6 .2h.6m-.6 5.2h.6m-.5-38.1h.6m-.6 4.2h.6m-.6 20.8h.6m-.6 .5h.6m-.6 3.3h.6m-.6 .7h.6m-.6 .7h.6m-.6 .9h.6m-.6 .2h.6m-.6 .3h.6m-.6 .2h.6m-.6 .9h.6m-.6 .1h.6m-.6 .2h.6m-.6 .3h.6m-.6 .2h.6m-.5-6.2h.6m-.6 1.9h.6m-.6 .9h.6m-.6 2.5h.6m-.6 .4h.6m-.6 .2h.6m-.6 .5h.6m-.6 2h.6m-.6 .7h.6m-.5-8h.6m-.6 .3h.6m-.6 1.4h.6m-.6 1.1h.6m-.6 2.3h.6m-.6 .4h.6m-.6 2.6h.6m-.6 1.3h.6m-.6 3.3h.6m-.5-11.4h.6m-.6 .1h.6m-.6 .9h.6m-.6 1h.6m-.5-30.4h.6m-.6 3.4h.6m-.6 21.7h.6m-.6 2.3h.6m-.6 .2h.6m-.6 .4h.6m-.6 3.5h.6m-.6 .8h.6m-.6 .1h.6m-.5-33.1h.6m-.6 5.1h.6m-.6 22.7h.6m-.6 1.4h.6m-.6 .4h.6m-.6 2h.6m-.6 .1h.6m-.6 2.1h.6m-.6 .5h.6m-.6 .6h.6m-.5-29.4h.6m-.6 19.6h.6m-.6 .5h.6m-.6 1.6h.6m-.6 1.8h.6m-.6 .2h.6m-.6 .1h.6m-.6 .3h.6m-.6 .5h.6m-.6 1.2h.6m-.6 0h.6m-.6 .3h.6m-.5-29.1h.6m-.6 20.2h.6m-.6 1h.6m-.6 6.8h.6m-.6 .4h.6m-.6 .6h.6m-.6 .4h.6m-.6 .8h.6m-.6 1.3h.6m-.5-26.5h.6m-.6 19.1h.6m-.6 3.4h.6m-.6 .9h.6m-.6 .2h.6m-.6 1.4h.6m-.6 .2h.6m-.6 2h.6m-.6 4.8h.6m-.5-40.2h.6m-.6 26.8h.6m-.6 1.2h.6m-.6 .6h.6m-.6 .3h.6m-.6 1.1h.6m-.6 1.7h.6m-.6 1h.6m-.6 3.7h.6m-.6 5.8h.6m-.5-43.2h.6m-.6 2.4h.6m-.6 23.3h.6m-.6 .9h.6m-.6 9.7h.6m-.5-30.1h.6m-.6 5.2h.6m-.6 1.9h.6m-.6 13.8h.6m-.6 2.8h.6m-.6 1.3h.6m-.6 .7h.6m-.6 .9h.6m-.6 .5h.6m-.6 .5h.6m-.5-9h.6m-.6 2h.6m-.6 1.1h.6m-.6 .3h.6m-.6 1.3h.6m-.6 2.1h.6m-.6 .1h.6m-.6 1.3h.6m-.6 2.9h.6m-.5-13.8h.6m-.6 4.1h.6m-.6 1h.6m-.6 1.1h.6m-.6 1.5h.6m-.6 .6h.6m-.6 .5h.6m-.6 .2h.6m-.6 .2h.6m-.6 .3h.6m-.6 1.3h.6m-.6 .3h.6m-.6 1.5h.6m-.6 0h.6m-.6 1.6h.6m-.5-12h.6m-.6 6.4h.6m-.6 1.8h.6m-.6 1.4h.6m-.6 .3h.6m-.6 3.3h.6m-.5-30.1h.6m-.6 18.9h.6m-.6 1.6h.6m-.6 4.9h.6m-.6 .2h.6m-.6 3.3h.6m-.5-25.1h.6m-.6 17.3h.6m-.6 2.9h.6m-.6 .4h.6m-.6 1.7h.6m-.5-7.6h.6m-.6 .5h.6m-.6 1.4h.6m-.6 1.1h.6m-.6 .3h.6m-.6 1.7h.6m-.6 1.5h.6m-.6 1.2h.6m-.6 1h.6m-.6 1.1h.6m-.6 .9h.6m-.6 .2h.6m-.5-10.9h.6m-.6 .5h.6m-.6 .6h.6m-.6 .4h.6m-.6 1h.6m-.6 2.4h.6m-.6 .6h.6m-.6 1.4h.6m-.6 .4h.6m-.6 .2h.6m-.6 .3h.6m-.6 .1h.6m-.6 .3h.6m-.6 2.9h.6m-.5-29.3h.6m-.6 20.5h.6m-.6 1.6h.6m-.6 .3h.6m-.6 .5h.6m-.6 0h.6m-.6 1.1h.6m-.6 .5h.6m-.6 .2h.6m-.6 .1h.6m-.6 1.8h.6m-.6 6.3h.6m-.5-39.6h.6m-.6 27.7h.6m-.6 1.5h.6m-.6 .1h.6m-.6 .3h.6m-.6 3h.6m-.6 .3h.6m-.6 1.7h.6m-.6 .3h.6m-.6 .7h.6m-.5-34.1h.6m-.6 1.5h.6m-.6 20.4h.6m-.6 4.3h.6m-.6 2h.6m-.6 .7h.6m-.6 .3h.6m-.6 .8h.6m-.6 .6h.6m-.6 .3h.6m-.6 1.3h.6m-.6 .3h.6m-.6 1.5h.6m-.6 .1h.6m-.6 .8h.6m-.5-27.9h.6m-.6 1.5h.6m-.6 13.2h.6m-.6 2.5h.6m-.6 1.3h.6m-.6 .4h.6m-.6 .7h.6m-.6 1.3h.6m-.6 .5h.6m-.6 .1h.6m-.6 1.2h.6m-.6 5h.6m-.6 1.2h.6m-.5-34.6h.6m-.6 20.9h.6m-.6 2.8h.6m-.6 .5h.6m-.6 1.7h.6m-.6 1h.6m-.6 .2h.6m-.6 1.1h.6m-.6 .5h.6m-.6 .7h.6m-.6 .1h.6m-.6 1.3h.6m-.6 1.2h.6m-.6 .4h.6m-.5-35.6h.6m-.6 26.9h.6m-.6 .9h.6m-.6 .3h.6m-.6 .2h.6m-.6 1h.6m-.6 .7h.6m-.6 .8h.6m-.6 .2h.6m-.6 0h.6m-.6 1.9h.6m-.6 2.3h.6m-.5-7h.6m-.6 0h.6m-.6 0h.6m-.6 .4h.6m-.6 .1h.6m-.6 .8h.6m-.6 1.2h.6m-.6 .8h.6m-.6 .3h.6m-.6 2.5h.6m-.5-31.7h.6m-.6 26.2h.6m-.6 .1h.6m-.6 1.5h.6m-.6 1h.6m-.6 .2h.6m-.6 1.8h.6m-.6 1h.6m-.6 .4h.6m-.6 1h.6m-.5-28.7h.6m-.6 18.9h.6m-.6 1.7h.6m-.6 .2h.6m-.6 .6h.6m-.6 .1h.6m-.6 .2h.6m-.6 .4h.6m-.6 .1h.6m-.6 .3h.6m-.6 .4h.6m-.6 1h.6m-.6 .6h.6m-.6 .2h.6m-.6 .4h.6m-.6 .6h.6m-.6 .4h.6m-.6 7.5h.6m-.5-39.9h.6m-.6 7.2h.6m-.6 3.1h.6m-.6 16.1h.6m-.6 .8h.6m-.6 1.5h.6m-.6 1h.6m-.6 .2h.6m-.6 .6h.6m-.6 .3h.6m-.6 .4h.6m-.5-3.3h.6m-.6 .7h.6m-.6 .2h.6m-.6 0h.6m-.6 2h.6m-.6 .3h.6m-.6 .1h.6m-.6 1.1h.6m-.6 .5h.6m-.6 .8h.6m-.6 2.1h.6m-.6 1.3h.6m-.5-35.5h.6m-.6 26.7h.6m-.6 .2h.6m-.6 3.3h.6m-.6 1.3h.6m-.6 1.5h.6m-.5-28.9h.6m-.6 17h.6m-.6 2.3h.6m-.6 .8h.6m-.6 1.2h.6m-.6 3.2h.6m-.6 .2h.6m-.6 1.2h.6m-.6 1.7h.6m-.6 .1h.6m-.6 2.1h.6m-.6 1.4h.6m-.5-36.9h.6m-.6 5.9h.6m-.6 2.4h.6m-.6 16.8h.6m-.6 2.8h.6m-.6 .8h.6m-.6 .1h.6m-.6 5.5h.6m-.5-4.8h.6m-.6 .1h.6m-.6 .8h.6m-.6 1.4h.6m-.6 .1h.6m-.6 .7h.6m-.6 8h.6m-.5-34.3h.6m-.6 20.5h.6m-.6 .7h.6m-.6 1h.6m-.6 1h.6m-.6 2.9h.6m-.6 0h.6m-.6 .7h.6m-.6 0h.6m-.5-31.9h.6m-.6 24.9h.6m-.6 .3h.6m-.6 1.9h.6m-.6 .8h.6m-.6 1h.6m-.6 4h.6m-.6 1h.6m-.6 .4h.6m-.6 1h.6m-.5-10.5h.6m-.6 1h.6m-.6 .4h.6m-.6 .1h.6m-.6 1h.6m-.6 1.6h.6m-.6 .1h.6m-.6 .4h.6m-.6 .6h.6m-.6 .3h.6m-.6 .7h.6m-.6 9.4h.6m-.5-16.8h.6m-.6 1.5h.6m-.6 1.7h.6m-.6 .8h.6m-.6 .5h.6m-.6 0h.6m-.6 .9h.6m-.6 3.4h.6m-.6 5.3h.6m-.5-36.7h.6m-.6 2h.6m-.6 22.3h.6m-.6 .6h.6m-.6 .6h.6m-.6 1.9h.6m-.6 .3h.6m-.6 .1h.6m-.6 .3h.6m-.6 1.2h.6m-.6 .2h.6m-.6 0h.6m-.6 .5h.6m-.6 3.8h.6m-.6 .5h.6m-.5-32.7h.6m-.6 20.4h.6m-.6 3.1h.6m-.6 .1h.6m-.6 4.9h.6m-.6 7.2h.6m-.5-19.7h.6m-.6 4.8h.6m-.6 1.4h.6m-.6 .1h.6m-.6 2.1h.6m-.6 3.3h.6m-.6 .1h.6m-.6 3.3h.6m-.6 .9h.6m-.6 .2h.6m-.5-11h.6m-.6 1.7h.6m-.6 1.5h.6m-.6 .6h.6m-.6 .1h.6m-.6 .5h.6m-.6 .6h.6m-.6 0h.6m-.6 .5h.6m-.6 2.5h.6m-.6 1.2h.6m-.6 .1h.6m-.6 .2h.6m-.5-30.3h.6m-.6 20.7h.6m-.6 1.2h.6m-.6 1.7h.6m-.6 1.3h.6m-.6 .9h.6m-.6 .8h.6m-.6 .3h.6m-.6 .3h.6m-.6 .3h.6m-.6 .2h.6m-.6 2.5h.6m-.6 .4h.6m-.6 1.3h.6m-.5-38h.6m-.6 2.8h.6m-.6 4h.6m-.6 19h.6m-.6 1.1h.6m-.6 2.6h.6m-.6 .5h.6m-.6 .9h.6m-.6 .4h.6m-.6 1.6h.6m-.6 .8h.6m-.6 0h.6m-.6 .7h.6m-.6 1.5h.6m-.6 1.2h.6m-.5-28.7h.6m-.6 16.7h.6m-.6 4.1h.6m-.6 1.2h.6m-.6 2h.6m-.6 1.6h.6m-.6 1.3h.6m-.6 .3h.6m-.6 .8h.6m-.6 1.9h.6m-.6 1.7h.6m-.5-10h.6m-.6 .9h.6m-.6 0h.6m-.6 .9h.6m-.6 1h.6m-.6 1.3h.6m-.6 1.7h.6m-.6 2.9h.6m-.5-11.7h.6m-.6 2h.6m-.6 2h.6m-.6 .7h.6m-.6 .5h.6m-.6 1.7h.6m-.6 .3h.6m-.6 .5h.6m-.5-29.7h.6m-.6 16.5h.6m-.6 5.8h.6m-.6 3.1h.6m-.6 2.4h.6m-.6 .8h.6m-.6 1.5h.6m-.6 2.1h.6m-.6 1.1h.6m-.5-34.6h.6m-.6 22.5h.6m-.6 2h.6m-.6 2.5h.6m-.6 .7h.6m-.6 1.4h.6m-.6 .4h.6m-.6 .1h.6m-.6 4.6h.6m-.6 2.7h.6m-.6 .5h.6m-.5-43.4h.6m-.6 29.9h.6m-.6 3.3h.6m-.6 .5h.6m-.6 .1h.6m-.6 .5h.6m-.6 .7h.6m-.6 1.9h.6m-.6 3.6h.6m-.5-39.3h.6m-.6 9.6h.6m-.6 18.2h.6m-.6 1.1h.6m-.6 1.6h.6m-.6 .9h.6m-.6 .5h.6m-.6 .6h.6m-.6 .1h.6m-.6 .2h.6m-.6 .2h.6m-.6 .4h.6m-.6 .1h.6m-.6 .3h.6m-.6 .5h.6m-.6 1.4h.6m-.6 .1h.6m-.6 .9h.6m-.5-8.1h.6m-.6 1.2h.6m-.6 .6h.6m-.6 .8h.6m-.6 .2h.6m-.6 .2h.6m-.6 .3h.6m-.6 .4h.6m-.6 1.3h.6m-.6 .1h.6m-.6 1.6h.6m-.6 .2h.6m-.6 .9h.6m-.6 1.2h.6m-.6 1.5h.6m-.6 .4h.6m-.5-9.8h.6m-.6 .2h.6m-.6 .5h.6m-.6 1.4h.6m-.6 1.3h.6m-.6 .6h.6m-.6 1.7h.6m-.6 .9h.6m-.6 .2h.6m-.5-31.8h.6m-.6 20.2h.6m-.6 7.7h.6m-.6 .5h.6m-.6 .3h.6m-.6 1.4h.6m-.6 .3h.6m-.6 0h.6m-.6 .7h.6m-.6 9h.6m-.5-40.7h.6m-.6 24.9h.6m-.6 1.7h.6m-.6 1.9h.6m-.6 .5h.6m-.6 1.1h.6m-.6 3h.6m-.6 1.4h.6m-.5-37.1h.6m-.6 25h.6m-.6 2.6h.6m-.6 2.6h.6m-.6 1.8h.6m-.6 3.1h.6m-.6 1.3h.6m-.5-7.7h.6m-.6 2h.6m-.6 .2h.6m-.6 .5h.6m-.6 .2h.6m-.6 0h.6m-.6 .1h.6m-.6 1.1h.6m-.6 1.3h.6m-.6 .2h.6m-.5-26.1h.6m-.6 18.9h.6m-.6 3h.6m-.6 .7h.6m-.6 1.6h.6m-.6 1.3h.6m-.5-27.9h.6m-.6 22.4h.6m-.6 2.4h.6m-.6 2.4h.6m-.6 1h.6m-.6 .4h.6m-.6 1.8h.6m-.6 .7h.6m-.6 .8h.6m-.5-9.9h.6m-.6 2.1h.6m-.6 1h.6m-.6 .5h.6m-.6 .4h.6m-.6 .7h.6m-.6 1h.6m-.6 1.9h.6m-.6 .1h.6m-.6 .1h.6m-.6 .3h.6m-.6 2.4h.6m-.5-11.5h.6m-.6 2.6h.6m-.6 1.1h.6m-.6 .3h.6m-.6 .8h.6m-.6 .7h.6m-.6 1.6h.6m-.6 2.2h.6m-.6 0h.6m-.5-8h.6m-.6 4.9h.6m-.6 0h.6m-.6 8.4h.6m-.5-17.7h.6m-.6 3.4h.6m-.6 .5h.6m-.6 1h.6m-.6 .4h.6m-.6 .8h.6m-.6 1.3h.6m-.6 .6h.6m-.6 .4h.6m-.6 1.8h.6m-.6 0h.6m-.6 2.2h.6m-.6 .8h.6m-.6 1h.6m-.5-14.2h.6m-.6 3h.6m-.6 1h.6m-.6 2.4h.6m-.6 .1h.6m-.6 .3h.6m-.6 1.5h.6m-.6 2.1h.6m-.6 0h.6m-.6 1.9h.6m-.5-6.7h.6m-.6 1.3h.6m-.6 3.1h.6m-.6 2.3h.6m-.6 1.8h.6m-.6 .9h.6m-.5-37.7h.6m-.6 7.3h.6m-.6 2.4h.6m-.6 19h.6m-.6 .6h.6m-.6 1.1h.6m-.6 .1h.6m-.6 .5h.6m-.6 .1h.6m-.6 .6h.6m-.6 1.6h.6m-.6 2.4h.6m-.5-30.4h.6m-.6 22.3h.6m-.6 .7h.6m-.6 2.4h.6m-.6 .2h.6m-.6 0h.6m-.6 .9h.6m-.6 11.2h.6m-.5-16.5h.6m-.6 3.5h.6m-.6 1.9h.6m-.6 1.9h.6m-.6 .3h.6m-.5-8.3h.6m-.6 6h.6m-.6 1.1h.6m-.6 .2h.6m-.6 .5h.6m-.6 .9h.6m-.6 .6h.6m-.6 4.6h.6m-.5-12.8h.6m-.6 2.4h.6m-.6 1.8h.6m-.5-26.9h.6m-.6 23.8h.6m-.6 .6h.6m-.6 .2h.6m-.6 1.2h.6m-.6 1.2h.6m-.6 1.5h.6m-.6 .2h.6m-.6 1.5h.6m-.6 4.7h.6m-.5-32.6h.6m-.6 18.8h.6m-.6 2.3h.6m-.6 .7h.6m-.6 1.1h.6m-.6 .1h.6m-.6 .8h.6m-.6 .1h.6m-.6 .6h.6m-.6 .5h.6m-.6 0h.6m-.6 4h.6m-.6 1.7h.6m-.6 1.6h.6m-.5-12.5h.6m-.6 5.6h.6m-.6 1.9h.6m-.6 1.2h.6m-.5-11.3h.6m-.6 1.6h.6m-.6 3h.6m-.6 .9h.6m-.6 1.2h.6m-.6 1.3h.6m-.6 1.5h.6m-.6 1.4h.6m-.5-28.6h.6m-.6 22.6h.6m-.6 2h.6m-.6 .4h.6m-.6 1.4h.6m-.6 1.7h.6m-.6 .2h.6m-.5-30h.6m-.6 16.8h.6m-.6 6.4h.6m-.6 1.9h.6m-.6 2.4h.6m-.6 .2h.6m-.6 3.2h.6m-.6 6.8h.6m-.5-13.7h.6m-.6 .4h.6m-.6 3.1h.6m-.6 1.8h.6m-.5-7.8h.6m-.6 4.9h.6m-.6 2.2h.6m-.6 8h.6m-.5-17.2h.6m-.6 4.8h.6m-.6 1.5h.6m-.6 .2h.6m-.6 .3h.6m-.6 .2h.6m-.6 .5h.6m-.6 .8h.6m-.5-6.1h.6m-.6 2.9h.6m-.6 .7h.6m-.6 .1h.6m-.6 1.6h.6m-.6 .3h.6m-.6 .5h.6m-.6 .2h.6m-.6 1.2h.6m-.6 1.6h.6m-.6 .2h.6m-.5-8.5h.6m-.6 3.6h.6m-.6 3h.6m-.6 6.6h.6m-.5-37.9h.6m-.6 24.7h.6m-.6 .3h.6m-.6 1.1h.6m-.6 .4h.6m-.6 .2h.6m-.6 1.8h.6m-.6 2.1h.6m-.6 .4h.6m-.6 .1h.6m-.6 1.1h.6m-.5-32.9h.6m-.6 4.9h.6m-.6 19.3h.6m-.6 .6h.6m-.6 2.7h.6m-.6 3.5h.6m-.6 1.3h.6m-.5-1.9h.6m-.6 1.2h.6m-.6 .2h.6m-.5-4.4h.6m-.6 1.1h.6m-.6 .3h.6m-.6 1.7h.6m-.6 .3h.6m-.6 .8h.6m-.5-7.9h.6m-.6 5.4h.6m-.6 .5h.6m-.6 .5h.6m-.5-4.8h.6m-.6 .5h.6m-.6 .6h.6m-.6 1.5h.6m-.6 1.7h.6m-.6 1.7h.6m-.6 1.2h.6m-.6 1.8h.6m-.5-26.3h.6m-.6 19.8h.6m-.6 2.7h.6m-.6 3.6h.6m-.5-13.9h.6m-.6 6.9h.6m-.6 .6h.6m-.6 .2h.6m-.6 .3h.6m-.6 3.4h.6m-.6 2.2h.6m-.5-10.6h.6m-.6 1.3h.6m-.6 2.3h.6m-.6 2h.6m-.6 2h.6m-.6 2h.6m-.6 1.7h.6m-.6 1.2h.6m-.5-12.6h.6m-.6 2.1h.6m-.6 1.8h.6m-.6 1.8h.6m-.6 2.5h.6m-.6 .6h.6m-.6 .2h.6m-.5-5.3h.6m-.6 .1h.6m-.6 1.8h.6m-.6 .6h.6m-.6 2.9h.6m-.6 .6h.6m-.5-28.3h.6m-.6 23.6h.6m-.6 2.3h.6m-.6 1.3h.6m-.6 .4h.6m-.6 .4h.6m-.5-8.3h.6m-.6 3.6h.6m-.6 2.5h.6m-.6 1.2h.6m-.5-26.1h.6m-.6 21.5h.6m-.6 .1h.6m-.6 1.2h.6m-.6 1h.6m-.6 3.7h.6m-.6 2.1h.6m-.6 .5h.6m-.5-34.6h.6m-.6 27.9h.6m-.6 1.5h.6m-.6 .3h.6m-.6 3.1h.6m-.5-35h.6m-.6 22h.6m-.5 4.3h.6m-.6 .6h.6m-.6 .8h.6m-.6 .3h.6m-.6 4.9h.6m-.6 .3h.6m-.5-5.5h.6m-.6 2.6h.6m-.6 2.9h.6m-.6 1.7h.6m-.5-9.2h.6m-.6 .3h.6m-.6 .6h.6m-.6 1h.6m-.6 4h.6m-.6 1.6h.6m-.6 3.3h.6m-.6 .1h.6m-.5-11.7h.6m-.6 8.3h.6m-.6 2.3h.6m-.5-10.3h.6m-.6 3.7h.6m-.6 3.1h.6m-.6 .6h.6m-.5-7.3h.6m-.6 4.5h.6m-.6 .4h.6m-.6 1.1h.6m-.5-6.7h.6m-.6 1h.6m-.6 1.5h.6m-.6 5.5h.6m-.6 3h.6m-.6 .3h.6m-.6 1.3h.6m-.5-10.1h.6m-.6 2.2h.6m-.6 .6h.6m-.6 .4h.6m-.6 1.9h.6m-.6 2h.6m-.5-8.1h.6m-.6 3.4h.6m-.6 .3h.6m-.6 .8h.6m-.6 .6h.6m-.6 1h.6m-.6 3.7h.6m-.5-14.6h.6m-.6 4.8h.6m-.6 2.6h.6m-.6 .4h.6m-.6 4h.6m-.6 4.6h.6m-.5-8.1h.6m-.6 .1h.6m-.6 3.6h.6m-.5-4.5h.6m-.6 .4h.6m-.6 2.4h.6m-.6 2.6h.6m-.5-6.1h.6m-.6 8.7h.6m-.5-13.2h.6m-.6 5.1h.6m-.6 .5h.6m-.6 1.3h.6m-.6 1.1h.6m-.5-11.9h.6m-.6 7.8h.6m-.6 .7h.6m-.6 2.6h.6m-.6 7h.6m-.5-13.4h.6m-.6 4.3h.6m-.6 .8h.6m-.6 .9h.6m-.5 8.2h.6m-.6 1.5h.6m-.5-13h.6m-.6 2.2h.6m-.5-3.1h.6m-.6 .9h.6m-.6 2.5h.6m-.6 3.8h.6m-.6 3.7h.6m-.5-11.5h.6m-.6 2.6h.6m-.6 .7h.6m-.6 3.5h.6m-.6 1.1h.6m-.6 1.5h.6m-.6 3.7h.6m-.5-9.1h.6m-.6 .5h.6m-.6 5.3h.6m-.6 3.3h.6m-.5-15.3h.6m-.6 4.4h.6m-.5 1.3h.6m-.6 .4h.6m-.6 1.1h.6m-.6 .6h.6m-.6 2.5h.6m-.5-36.3h.6m-.6 26.8h.6m-.6 3.6h.6m-.6 1.5h.6m-.6 .5h.6m-.6 7.4h.6m-.5-11.3h.6m-.6 5.1h.6m-.6 1.4h.6m-.5 .4h.6m-.5-9.5h.6m-.6 3.4h.6m-.6 8.1h.6m-.5-6.9h.6m-.6 4.1h.6m-.6 1.5h.6m-.6 3.6h.6m-.6 3.5h.6m-.5-11.7h.6m-.6 .2h.6m-.6 1.2h.6m-.6 1.5h.6m-.6 1.6h.6m-.4 .6h.6m-.5-28h.6m-.6 21h.6m-.6 .1h.6m-.6 .7h.6m-.6 .6h.6m-.6 2.9h.6m-.6 .8h.6m-.6 1.4h.6m-.6 .1h.6m-.5-5.2h.6m-.6 1.4h.6m-.6 1.3h.6m-.6 7.9h.6m-.5-13h.6m-.6 3.8h.6m-.6 2.6h.6m-.5-4.8h.6m-.6 3.3h.6m-.5-9.3h.6m-.6 8.6h.6m-.6 1.7h.6m-.6 .7h.6m-.6 3h.6m-.5-14h.6m-.6 8.9h.6m-.6 .3h.6m-.6 1.2h.6m-.5 2.1h.6m-.6 6.2h.6m-.5-14.2h.6m-.6 5h.6m-.6 1.7h.6m-.6 .9h.6m-.6 4.7h.6m-.5-11.9h.6m-.6 1h.6m-.6 1h.6m-.6 .2h.6m-.6 1.6h.6m-.6 2.8h.6m-.6 0h.6m-.6 .6h.6m-.6 .1h.6m-.6 1.3h.6m-.5-10.3h.6m-.6 3h.6m-.5-.4h.6m-.6 8h.6m-.6 1h.6m-.5-9.6h.6m-.6 3.8h.6m-.6 1h.6m-.6 4.9h.6m-.6 .6h.6m-.5-8h.6m-.6 2.3h.6m-.6 .9h.6m-.6 3.3h.6m-.5-10.1h.6m-.6 9.5h.6m-.6 3.5h.6m-.5-11h.6m-.6 .1h.6m-.6 3.3h.6m-.6 2h.6m-.5-4.6h.6m-.6 .2h.6m-.6 8.6h.6m-.5-8.4h.6m-.6 2.3h.6m-.6 3.7h.6m-.5-12.7h.6m-.6 7h.6m-.6 8.3h.6m-.5-7.5h.6m-.6 2.5h.6m-.6 1.2h.6m-.5-8.5h.6m-.6 6.2h.6m-.6 1.8h.6m-.5-7.4h.6m-.6 4.7h.6m-.6 6.8h.6m-.5-4.5h.6m-.5-2.4h.6m-.6 1.1h.6m-.6 4.7h.6m-.5-8.2h.6m-.5-2.8h.6m-.6 .4h.6m-.6 16.9h.6m-.5-17h.6m-.6 3.6h.6m-.6 2.6h.6m-.6 .2h.6m-.6 4.8h.6m-.5-8.5h.6m-.6 1.9h.6m-.6 2h.6m-.6 .1h.6m-.6 2.3h.6m-.5-1.1h.6m-.5-4.9h.6m-.5-4.8h.6m-.6 11.3h.6m-.5-3.9h.6m-.6 3.1h.6m-.4-8.1h.6m-.6 7.3h.6m-.5-5.8h.6m-.6 3.5h.6m-.6 1h.6m-.6 3h.6m-.5-5.4h.6m-.5 .5h.6m-.5 3.5h.6m-.4-8.8h.6m-.6 1.4h.6m-.5 5h.6m-.5-3.5h.6m-.6 5.1h.6m-.6 0h.6m-.6 .5h.6m-.5-9.9h.6m-.6 4.1h.6m-.6 3.7h.6m-.5-3.2h.6m-.6 1.2h.6m-.6 2h.6m-.5-2.6h.6m-.6 2.6h.6m-.6 .5h.6m-.6 1.5h.6m-.6 1.2h.6m-.6 4.3h.6m-.5-.6h.6m-.5-8.7h.6m-.6 1.6h.6m-.6 5.6h.6m-.5-4.3h.6m-.5 2.6h.6m-.6 1h.6m-.5-6.2h.6m-.6 1h.6m-.6 1.6h.6m-.6 2h.6m-.6 5.9h.6m-.4-8.9h.6m-.5-6.8h.6m-.5 2.4h.6m-.6 6.7h.6m-.4-.2h.6m-.6 1.4h.6m-.5-6.6h.6m-.6 2.8h.6m-.5-3.1h.6m-.5 .6h.6m-.4-4.9h.6m-.5 12h.6m-.6 1.2h.6m-.6 2.9h.6m-.5-1.5h.6m-.1-15.5h.6m-.6 16.7h.6m-.5-5.2h.6m-.5-1h.6m-.6 .2h.6m-.4-.5h.6m-.3 4h.6m-.5-9.5h.6m-.6 6.1h.6m-.5-8.6h.6m-.4 1.7h.6m-.6 5.6h.6m-.6 .5h.6m-.6 3.2h.6m-.4-8.1h.6m-.6 4.4h.6m-.6 .9h.6m-.5-8.9h.6m-.6 6.4h.6m-.5 7h.6m-.5-12.8h.6m-.5 3.4h.6m-.6 2.9h.6m-.5 6.7h.6m-.5-11.1h.6m-.4 7.9h.6m-.5-1.9h.6m-.6 4.4h.6m-.6 .5h.6m-.5-5.6h.6m-.6 6.2h.6m-.5-6.8h.6m-.6 1h.6m-.3 2.4h.6m-.5 1.1h.6m-.5-2.5h.6m-.6 1.6h.6m-.6 2.2h.6m-.5-4.1h.6m-.4 1.3h.6m-.5-8.5h.6m-.6 5.7h.6m-.6 2.7h.6m-.3-6.8h.6m-.6 6.8h.6m-.4-12.5h.6m-.6 4.6h.6m-.6 2.2h.6m-.6 5.9h.6m-.3-3.4h.6m-.6 9.8h.6m-.5-14.2h.6m-.6 3.8h.6m-.5-1.7h.6m-.6 6.4h.6m-.5-4.6h.6m-.5-2.9h.6m-.5 7.7h.6m-.5-8h.6m-.6 6.9h.6m-.4-8h.6m-.5 .6h.6m-.4 2.9h.6m-.5 1.3h.6m-.6 7h.6m.1-5.1h.6m-.4-3.3h.6m-.6 .4h.6m-.6 1.6h.6m-.6 2.5h.6m-.5 .4h.6m-.5-7.9h.6m-.6 .7h.6m-.6 5.5h.6m-.5-4.1h.6m-.5 1.4h.6m-.6 1h.6m-.4-3.5h.6m-.5-4.2h.6m-.6 3.1h.6m-.4-.4h.6m-.6 .7h.6m-.5 2.5h.6m-.5-1h.6m-.5 8.2h.6m-.5-.6h.6m-.3-7.7h.6m0 8.7h.6m-.4-7.9h.6m-.6 5.2h.6m-.5-8.3h.6m-.3 2.3h.6m-.3 3.9h.6m-.5 1.2h.6m-.3-5h.6m-.4 8.9h.6m-.4-.5h.6m-.3-11h.6m-.5 4h.6m-.5 12.8h.6m-.4-2.2h.6m-.5-10.9h.6m-.5-.1h.6m-.3-1.1h.6m-.6 7.9h.6m.3-13.6h.6m.5 6.2h.6m-.6 5.5h.6m-.4-5.6h.6m-.4 11.4h.6m.7-9.9h.6m-.5-1.7h.6m-.6 2.9h.6" stroke="#ea1f1f" stroke-width="0.6" stroke-opacity="0.8" fill="none"/>
<path d="m365.9 654.3h.6m2 2.9h.6m1.1-.5h.6m.6-4.2h.6m-.4 3.7h.6m.6 7h.6m.6-7h.6m-.4-8.9h.6m.4 16.7h.6m-.5-14h.6m-.4 7.3h.6m0 4.5h.6m-.3-16.3h.6m.8 10.2h.6m.1-6.2h.6m-.6 15.2h.6m-.3-16.4h.6m-.2-1.5h.6m.4 15.1h.6m-.3-7.1h.6m.8-7h.6m-.3 2.3h.6m-.1 .3h.6m.3 9.8h.6m-.2-1.7h.6m-.4-13.3h.6m.1 19.6h.6m1.5-5.2h.6m.3 7.4h.6m-.3-6.8h.6m-.6 3.6h.6m.5-16.6h.6m.7 13.2h.6m1.3 7.2h.6" stroke="#ea1f1f" stroke-width="0.6" stroke-opacity="0.4" fill="none"/>
<path d="M366 644L366 704.9" stroke="#cacaca" stroke-width="1.3"/>
<path d="M332.9 673.7L394 673.7" stroke="#cacaca" stroke-width="1.3"/>
<rect x="332.9" y="644" width="61.1" height="60.9" fill="none" stroke="#555" stroke-width="0.6"/>
<text transform="matrix(1 0 0 1.07 334.7 648.6)" font-size="3.3" fill="#333" class="m">Q2-UL(5.44%)</text>
<text transform="matrix(1 0 0 1.07 393 648.6)" font-size="3.3" text-anchor="end" fill="#333" class="m">Q2-UR(0.06%)</text>
<text transform="matrix(1 0 0 1.07 334.7 702.9)" font-size="3.3" fill="#333" class="m">Q2-LL(71.93%)</text>
<text transform="matrix(1 0 0 1.07 393 702.9)" font-size="3.3" text-anchor="end" fill="#333" class="m">Q2-LR(22.57%)</text>
<path d="M332.9 704.9L332.9 706.3" stroke="#444" stroke-width="0.4"/>
<text x="332.9" y="709.7" font-size="3.1" text-anchor="middle" fill="#333" class="m">10<tspan font-size="2.1" dy="-1.3">1</tspan></text>
<path d="M331.5 704.9L332.9 704.9" stroke="#444" stroke-width="0.4"/>
<text x="331.4" y="706.1" font-size="3.1" text-anchor="end" fill="#333" class="m">10<tspan font-size="2.1" dy="-1.3">1</tspan></text>
<path d="M348.17 704.9L348.17 706.3" stroke="#444" stroke-width="0.4"/>
<text x="348.17" y="709.7" font-size="3.1" text-anchor="middle" fill="#333" class="m">10<tspan font-size="2.1" dy="-1.3">2</tspan></text>
<path d="M331.5 689.67L332.9 689.67" stroke="#444" stroke-width="0.4"/>
<text x="331.4" y="690.88" font-size="3.1" text-anchor="end" fill="#333" class="m">10<tspan font-size="2.1" dy="-1.3">2</tspan></text>
<path d="M363.45 704.9L363.45 706.3" stroke="#444" stroke-width="0.4"/>
<text x="363.45" y="709.7" font-size="3.1" text-anchor="middle" fill="#333" class="m">10<tspan font-size="2.1" dy="-1.3">3</tspan></text>
<path d="M331.5 674.45L332.9 674.45" stroke="#444" stroke-width="0.4"/>
<text x="331.4" y="675.65" font-size="3.1" text-anchor="end" fill="#333" class="m">10<tspan font-size="2.1" dy="-1.3">3</tspan></text>
<path d="M378.73 704.9L378.73 706.3" stroke="#444" stroke-width="0.4"/>
<text x="378.73" y="709.7" font-size="3.1" text-anchor="middle" fill="#333" class="m">10<tspan font-size="2.1" dy="-1.3">4</tspan></text>
<path d="M331.5 659.23L332.9 659.23" stroke="#444" stroke-width="0.4"/>
<text x="331.4" y="660.43" font-size="3.1" text-anchor="end" fill="#333" class="m">10<tspan font-size="2.1" dy="-1.3">4</tspan></text>
<path d="M394 704.9L394 706.3" stroke="#444" stroke-width="0.4"/>
<text x="394" y="709.7" font-size="3.1" text-anchor="middle" fill="#333" class="m">10<tspan font-size="2.1" dy="-1.3">5</tspan></text>
<path d="M331.5 644L332.9 644" stroke="#444" stroke-width="0.4"/>
<text x="331.4" y="645.2" font-size="3.1" text-anchor="end" fill="#333" class="m">10<tspan font-size="2.1" dy="-1.3">5</tspan></text>
<path d="M337.5 704.9v.8M332.9 700.32h-.8M340.19 704.9v.8M332.9 697.64h-.8M342.1 704.9v.8M332.9 695.73h-.8M343.58 704.9v.8M332.9 694.26h-.8M344.79 704.9v.8M332.9 693.05h-.8M345.81 704.9v.8M332.9 692.03h-.8M346.69 704.9v.8M332.9 691.15h-.8M347.48 704.9v.8M332.9 690.37h-.8M352.77 704.9v.8M332.9 685.09h-.8M355.46 704.9v.8M332.9 682.41h-.8M357.37 704.9v.8M332.9 680.51h-.8M358.85 704.9v.8M332.9 679.03h-.8M360.06 704.9v.8M332.9 677.83h-.8M361.08 704.9v.8M332.9 676.81h-.8M361.97 704.9v.8M332.9 675.93h-.8M362.75 704.9v.8M332.9 675.15h-.8M368.05 704.9v.8M332.9 669.87h-.8M370.74 704.9v.8M332.9 667.19h-.8M372.65 704.9v.8M332.9 665.28h-.8M374.13 704.9v.8M332.9 663.81h-.8M375.34 704.9v.8M332.9 662.6h-.8M376.36 704.9v.8M332.9 661.58h-.8M377.24 704.9v.8M332.9 660.7h-.8M378.03 704.9v.8M332.9 659.92h-.8M383.32 704.9v.8M332.9 654.64h-.8M386.01 704.9v.8M332.9 651.96h-.8M387.92 704.9v.8M332.9 650.06h-.8M389.4 704.9v.8M332.9 648.58h-.8M390.61 704.9v.8M332.9 647.38h-.8M391.63 704.9v.8M332.9 646.36h-.8M392.52 704.9v.8M332.9 645.48h-.8M393.3 704.9v.8M332.9 644.7h-.8" stroke="#555" stroke-width=".3" fill="none"/>
<text transform="matrix(1 0 0 1.07 363.45 714.1)" font-size="3.2" text-anchor="middle" fill="#333" class="m">CD206 APC-A</text>
<text transform="matrix(0 -1.07 1 0 325.97 674.45)" font-size="2.99" text-anchor="middle" fill="#333" class="m">CD86 FITC-A</text>
<text transform="matrix(1 0 0 1.07 361.85 642.5)" font-size="3" text-anchor="middle" fill="#333" class="m">1.4 : P1</text>
<text transform="matrix(1 0 0 1.07 285.2 542.75)" font-size="7.7" text-anchor="middle">Control</text>
<text transform="matrix(1 0 0 1.07 359.6 542.75)" font-size="7.7" text-anchor="middle">HNEpC</text>
<text transform="matrix(1 0 0 1.07 286 627.15)" font-size="7.7" text-anchor="middle">OVA-HNEpC</text>
<text transform="matrix(1 0 0 1.07 286 637.35)" font-size="7.7" text-anchor="middle">+sh-NC</text>
<text transform="matrix(1 0 0 1.07 361 627.15)" font-size="7.7" text-anchor="middle">OVA-HNEpC</text>
<text transform="matrix(1 0 0 1.07 361 637.35)" font-size="7.7" text-anchor="middle">+sh-circCDKAL1</text>
<path d="M244.8 672V716.3H298" stroke="#111" stroke-width="1" fill="none"/>
<path d="M244.8 669.4l2.3 5.8h-4.6zM301 716.3l-5.8 2.3v-4.6z" fill="#111"/>
<text transform="matrix(0 -1.07 1 0 241.81 694)" font-size="7.29" text-anchor="middle">F4/80<tspan font-size="4.2" dy="-3.1">+</tspan><tspan dy="3.1">CD86</tspan><tspan font-size="4.2" dy="-3.1">+</tspan></text>
<text transform="matrix(1 0 0 1.07 243.6 725.6)" font-size="8">F4/80<tspan font-size="4.2" dy="-3.1">+</tspan><tspan dy="3.1">CD206</tspan><tspan font-size="4.2" dy="-3.1">+</tspan></text>
<rect x="461.8" y="547.75" width="9.4" height="3.4" fill="#dfe1e0" stroke="#111" stroke-width="0.8"/>
<text transform="matrix(1 0 0 1.07 476.4 552.61)" font-size="7.85">Control</text>
<rect x="461.8" y="558.85" width="9.4" height="3.4" fill="#efcb9a" stroke="#111" stroke-width="0.8"/>
<text transform="matrix(1 0 0 1.07 476.4 563.71)" font-size="7.85">HNEpC</text>
<rect x="524.4" y="547.75" width="10" height="3.4" fill="#5b7dbd" stroke="#111" stroke-width="0.8"/>
<text transform="matrix(1 0 0 1.07 539.5 552.61)" font-size="7.85">OVA-HNEpC+sh-NC</text>
<rect x="524.4" y="558.85" width="10" height="3.4" fill="#98dfe0" stroke="#111" stroke-width="0.8"/>
<text transform="matrix(1 0 0 1.07 539.5 563.71)" font-size="7.85">OVA-HNEpC+sh-circCDKAL1</text>
<text transform="matrix(0 -1.07 1 0 432.66 638)" font-size="8.55" text-anchor="middle">Cell percentage (%)</text>
<path d="M453.6 708.2L654.4 708.2" stroke="#111" stroke-width="0.8"/>
<path d="M501.4 708.2L501.4 713.2" stroke="#111" stroke-width="0.8"/>
<path d="M607 708.2L607 713.2" stroke="#111" stroke-width="0.8"/>
<rect x="461.3" y="682.92" width="15" height="25.28" fill="#dfe1e0" stroke="#111" stroke-width="0.8"/>
<rect x="483.5" y="698.24" width="15" height="9.96" fill="#efcb9a" stroke="#111" stroke-width="0.8"/>
<rect x="505.8" y="669.9" width="15" height="38.3" fill="#5b7dbd"/>
<path d="M505.8 669.9L505.8 708.2" stroke="#111" stroke-width="0.8"/>
<path d="M520.8 669.9L520.8 708.2" stroke="#111" stroke-width="0.8"/>
<rect x="505.8" y="629.13" width="15" height="31.27" fill="#5b7dbd"/>
<path d="M505.8 629.13L505.8 660.4" stroke="#111" stroke-width="0.8"/>
<path d="M520.8 629.13L520.8 660.4" stroke="#111" stroke-width="0.8"/>
<path d="M505.4 629.13L521.2 629.13" stroke="#111" stroke-width="0.8"/>
<rect x="528" y="669.9" width="15" height="38.3" fill="#98dfe0"/>
<path d="M528 669.9L528 708.2" stroke="#111" stroke-width="0.8"/>
<path d="M543 669.9L543 708.2" stroke="#111" stroke-width="0.8"/>
<rect x="528" y="650.59" width="15" height="9.81" fill="#98dfe0"/>
<path d="M528 650.59L528 660.4" stroke="#111" stroke-width="0.8"/>
<path d="M543 650.59L543 660.4" stroke="#111" stroke-width="0.8"/>
<path d="M527.6 650.59L543.4 650.59" stroke="#111" stroke-width="0.8"/>
<rect x="565.7" y="676.79" width="15" height="31.41" fill="#dfe1e0" stroke="#111" stroke-width="0.8"/>
<rect x="588" y="688.28" width="15" height="19.92" fill="#efcb9a" stroke="#111" stroke-width="0.8"/>
<rect x="610.5" y="669.9" width="15" height="38.3" fill="#5b7dbd"/>
<path d="M610.5 669.9L610.5 708.2" stroke="#111" stroke-width="0.8"/>
<path d="M625.5 669.9L625.5 708.2" stroke="#111" stroke-width="0.8"/>
<rect x="610.5" y="647.42" width="15" height="12.98" fill="#5b7dbd"/>
<path d="M610.5 647.42L610.5 660.4" stroke="#111" stroke-width="0.8"/>
<path d="M625.5 647.42L625.5 660.4" stroke="#111" stroke-width="0.8"/>
<path d="M610.1 647.42L625.9 647.42" stroke="#111" stroke-width="0.8"/>
<rect x="633" y="669.9" width="15" height="38.3" fill="#98dfe0"/>
<path d="M633 669.9L633 708.2" stroke="#111" stroke-width="0.8"/>
<path d="M648 669.9L648 708.2" stroke="#111" stroke-width="0.8"/>
<rect x="633" y="622.42" width="15" height="37.98" fill="#98dfe0"/>
<path d="M633 622.42L633 660.4" stroke="#111" stroke-width="0.8"/>
<path d="M648 622.42L648 660.4" stroke="#111" stroke-width="0.8"/>
<rect x="633" y="590.2" width="15" height="22.4" fill="#98dfe0"/>
<path d="M633 590.2L633 612.6" stroke="#111" stroke-width="0.8"/>
<path d="M648 590.2L648 612.6" stroke="#111" stroke-width="0.8"/>
<path d="M632.6 590.2L648.4 590.2" stroke="#111" stroke-width="0.8"/>
<path d="M453.6 669.5L453.6 708.6" stroke="#111" stroke-width="0.8"/>
<path d="M447.9 708.2L453.6 708.2" stroke="#111" stroke-width="0.8"/>
<text transform="matrix(1 0 0 1.07 447.1 711.26)" font-size="8" text-anchor="end">0.0</text>
<path d="M447.9 700.54L453.6 700.54" stroke="#111" stroke-width="0.8"/>
<text transform="matrix(1 0 0 1.07 447.1 703.6)" font-size="8" text-anchor="end">0.1</text>
<path d="M447.9 692.88L453.6 692.88" stroke="#111" stroke-width="0.8"/>
<text transform="matrix(1 0 0 1.07 447.1 695.94)" font-size="8" text-anchor="end">0.2</text>
<path d="M447.9 685.22L453.6 685.22" stroke="#111" stroke-width="0.8"/>
<text transform="matrix(1 0 0 1.07 447.1 688.28)" font-size="8" text-anchor="end">0.3</text>
<path d="M447.9 677.56L453.6 677.56" stroke="#111" stroke-width="0.8"/>
<text transform="matrix(1 0 0 1.07 447.1 680.62)" font-size="8" text-anchor="end">0.4</text>
<path d="M447.9 669.9L453.6 669.9" stroke="#111" stroke-width="0.8"/>
<text transform="matrix(1 0 0 1.07 447.1 672.96)" font-size="8" text-anchor="end">0.5</text>
<path d="M453.6 622.02L453.6 660.8" stroke="#111" stroke-width="0.8"/>
<path d="M447.9 660.4L453.6 660.4" stroke="#111" stroke-width="0.8"/>
<text transform="matrix(1 0 0 1.07 447.1 663.46)" font-size="8" text-anchor="end">4</text>
<path d="M447.9 647.74L453.6 647.74" stroke="#111" stroke-width="0.8"/>
<text transform="matrix(1 0 0 1.07 447.1 650.8)" font-size="8" text-anchor="end">6</text>
<path d="M447.9 635.08L453.6 635.08" stroke="#111" stroke-width="0.8"/>
<text transform="matrix(1 0 0 1.07 447.1 638.14)" font-size="8" text-anchor="end">8</text>
<path d="M447.9 622.42L453.6 622.42" stroke="#111" stroke-width="0.8"/>
<text transform="matrix(1 0 0 1.07 447.1 625.48)" font-size="8" text-anchor="end">10</text>
<path d="M453.6 574.01L453.6 613" stroke="#111" stroke-width="0.8"/>
<path d="M447.9 612.6L453.6 612.6" stroke="#111" stroke-width="0.8"/>
<text transform="matrix(1 0 0 1.07 447.1 615.66)" font-size="8" text-anchor="end">21</text>
<path d="M447.9 599.87L453.6 599.87" stroke="#111" stroke-width="0.8"/>
<text transform="matrix(1 0 0 1.07 447.1 602.93)" font-size="8" text-anchor="end">22</text>
<path d="M447.9 587.14L453.6 587.14" stroke="#111" stroke-width="0.8"/>
<text transform="matrix(1 0 0 1.07 447.1 590.2)" font-size="8" text-anchor="end">23</text>
<path d="M447.9 574.41L453.6 574.41" stroke="#111" stroke-width="0.8"/>
<text transform="matrix(1 0 0 1.07 447.1 577.47)" font-size="8" text-anchor="end">24</text>
<path d="M453.6 669.9L457 669.9" stroke="#111" stroke-width="0.8"/>
<path d="M453.6 660.4L457 660.4" stroke="#111" stroke-width="0.8"/>
<path d="M453.6 622.42L457 622.42" stroke="#111" stroke-width="0.8"/>
<path d="M453.6 612.6L457 612.6" stroke="#111" stroke-width="0.8"/>
<path d="M468.8 679.09V686.75M465.8 679.09h6M465.8 686.75h6" stroke="#111" stroke-width="0.8" fill="none"/>
<g fill="#e8312b" fill-opacity="0.92"><circle cx="465.4" cy="679.48" r="1.7"/><circle cx="472.6" cy="682" r="1.7"/><circle cx="465.8" cy="683.84" r="1.7"/><circle cx="472.2" cy="685.99" r="1.7"/></g>
<path d="M491 697.09V699.39M488 697.09h6M488 699.39h6" stroke="#111" stroke-width="0.8" fill="none"/>
<g fill="#e8312b" fill-opacity="0.92"><rect x="484.97" y="695.68" width="3.06" height="3.06"/><rect x="487.97" y="696.44" width="3.06" height="3.06"/><rect x="490.97" y="696.99" width="3.06" height="3.06"/><rect x="493.97" y="697.63" width="3.06" height="3.06"/></g>
<path d="M513.3 626.22V631.91M510.3 626.22h6M510.3 631.91h6" stroke="#111" stroke-width="0.8" fill="none"/>
<g fill="#e8312b" fill-opacity="0.92"><path d="M509.5 624.55l1.87 3.4h-3.74z"/><path d="M513.3 626.49l1.87 3.4h-3.74z"/><path d="M517.1 627.86l1.87 3.4h-3.74z"/><path d="M515.8 629.39l1.87 3.4h-3.74z"/></g>
<path d="M535.5 648.06V653.12M532.5 648.06h6M532.5 653.12h6" stroke="#111" stroke-width="0.8" fill="none"/>
<g fill="#e8312b" fill-opacity="0.92"><path d="M535.5 650.26l1.87 -3.4h-3.74z"/><path d="M531.9 651.94l1.87 -3.4h-3.74z"/><path d="M539.1 653.15l1.87 -3.4h-3.74z"/><path d="M535.5 654.57l1.87 -3.4h-3.74z"/></g>
<path d="M573.2 672.96V679.86M570.2 672.96h6M570.2 679.86h6" stroke="#111" stroke-width="0.8" fill="none"/>
<g fill="#e8312b" fill-opacity="0.92"><circle cx="569.8" cy="673.31" r="1.7"/><circle cx="577" cy="675.97" r="1.7"/><circle cx="570.2" cy="677.62" r="1.7"/><circle cx="576.6" cy="679.17" r="1.7"/></g>
<path d="M595.5 684.45V692.11M592.5 684.45h6M592.5 692.11h6" stroke="#111" stroke-width="0.8" fill="none"/>
<g fill="#e8312b" fill-opacity="0.92"><rect x="589.47" y="683.31" width="3.06" height="3.06"/><rect x="592.47" y="685.83" width="3.06" height="3.06"/><rect x="595.47" y="687.67" width="3.06" height="3.06"/><rect x="598.47" y="689.82" width="3.06" height="3.06"/></g>
<path d="M618 645.21V649.64M615 645.21h6M615 649.64h6" stroke="#111" stroke-width="0.8" fill="none"/>
<g fill="#e8312b" fill-opacity="0.92"><path d="M614.2 643.47l1.87 3.4h-3.74z"/><path d="M618 644.94l1.87 3.4h-3.74z"/><path d="M621.8 646l1.87 3.4h-3.74z"/><path d="M620.5 647.24l1.87 3.4h-3.74z"/></g>
<path d="M640.5 582.05V598.6M637.5 582.05h6M637.5 598.6h6" stroke="#111" stroke-width="0.8" fill="none"/>
<g fill="#e8312b" fill-opacity="0.92"><path d="M640.5 584.83l1.87 -3.4h-3.74z"/><path d="M636.9 590.16l1.87 -3.4h-3.74z"/><path d="M644.1 594.14l1.87 -3.4h-3.74z"/><path d="M640.5 598.9l1.87 -3.4h-3.74z"/></g>
<text transform="matrix(1 0 0 1.07 501 724.26)" font-size="8" text-anchor="middle">CD86+</text>
<text transform="matrix(1 0 0 1.07 603.4 724.26)" font-size="8" text-anchor="middle">CD206 +</text>
<path d="M491 618.3L513.5 618.3" stroke="#222" stroke-width="0.8"/>
<text transform="matrix(1 0 0 1.07 502.25 617.7)" font-size="9.3" text-anchor="middle">**</text>
<path d="M514.3 610.3L537.5 610.3" stroke="#222" stroke-width="0.8"/>
<text transform="matrix(1 0 0 1.07 525.9 609.7)" font-size="9.3" text-anchor="middle">**</text>
<path d="M595.1 637.2L617.6 637.2" stroke="#222" stroke-width="0.8"/>
<text transform="matrix(1 0 0 1.07 606.35 636.6)" font-size="9.3" text-anchor="middle">**</text>
<path d="M616.8 575.9L638.9 575.9" stroke="#222" stroke-width="0.8"/>
<text transform="matrix(1 0 0 1.07 627.85 575.3)" font-size="9.3" text-anchor="middle">**</text>
</g>
</svg>
</body></html>
